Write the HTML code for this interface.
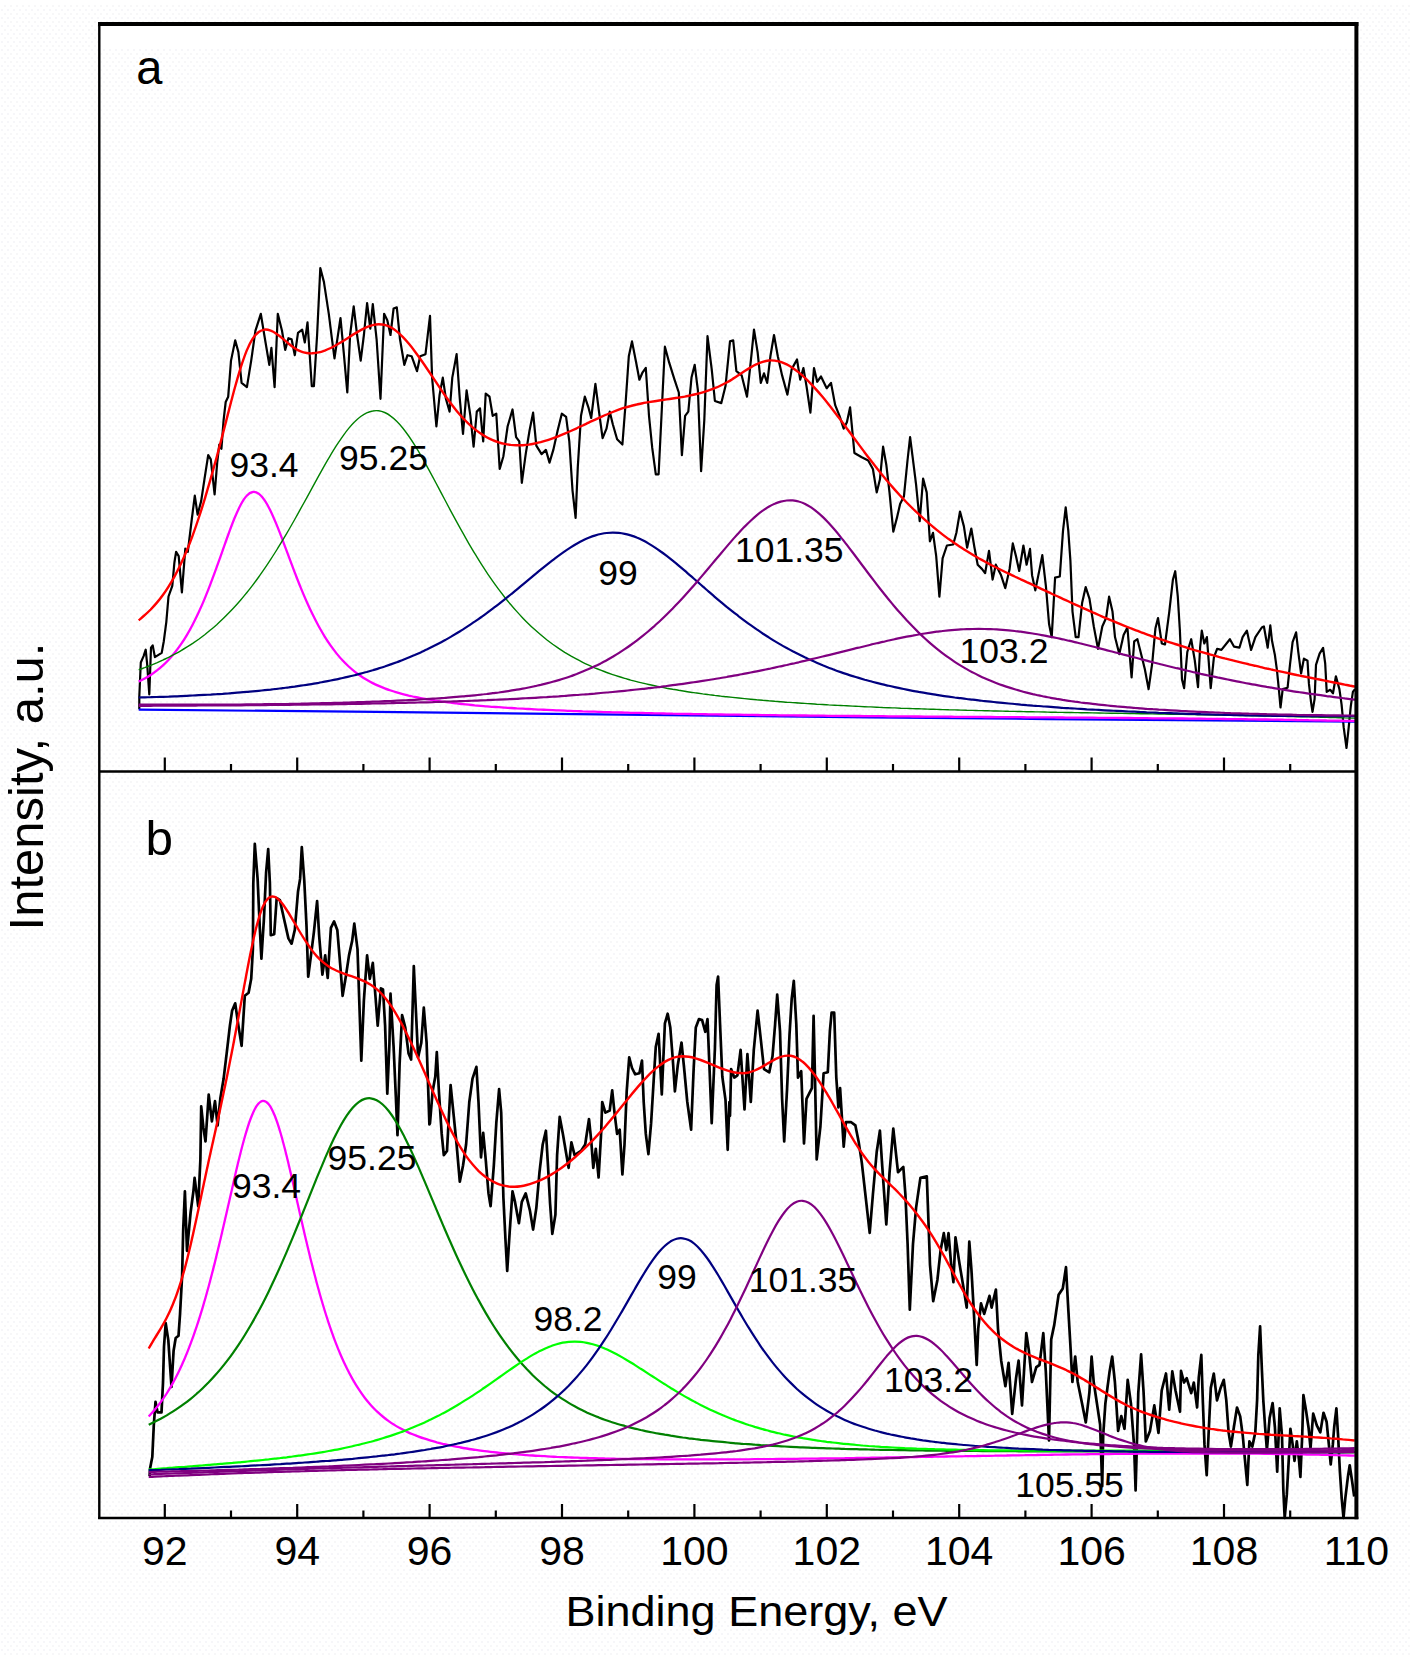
<!DOCTYPE html>
<html lang="en"><head><meta charset="utf-8"><title>XPS spectra</title>
<style>html,body{margin:0;padding:0;background:#fff}svg{display:block}</style></head>
<body>
<svg width="1411" height="1656" viewBox="0 0 1411 1656">
<defs><pattern id="dith" width="6" height="8" patternUnits="userSpaceOnUse"><rect x="1" y="1" width="2" height="2" fill="#f6f6f9"/><rect x="4" y="5" width="2" height="2" fill="#f7f7f8"/></pattern></defs>
<rect width="1411" height="1656" fill="#fff"/>
<rect x="0" y="5" width="1411" height="1651" fill="url(#dith)"/>
<rect x="100.5" y="26" width="1254" height="22" fill="#fff"/>
<g id="panel-a">
<path d="M139.3,709.2 L139.3,696.5 L140.8,662.5 L143.6,656.1 L145.7,649.7 L147.2,664.6 L149.3,694.3 L151.0,647.6 L152.7,645.4 L154.9,657.1 L161.7,652.9 L163.8,641.2 L166.3,622.1 L168.5,596.5 L172.3,585.9 L174.4,562.5 L176.1,551.9 L178.7,556.1 L181.9,592.3 L185.3,548.7 L187.8,551.9 L191.7,520.0 L194.8,495.6 L197.6,514.7 L201.2,500.9 L204.4,479.6 L208.2,455.2 L210.8,459.4 L214.6,494.5 L217.2,462.6 L219.3,444.5 L221.4,448.8 L223.6,420.1 L225.7,402.0 L228.2,396.7 L231.0,360.6 L235.2,340.4 L238.4,352.1 L241.6,382.9 L246.9,387.1 L251.2,360.6 L255.4,330.8 L260.8,313.8 L265.0,339.3 L269.3,364.8 L271.4,347.8 L274.6,387.1 L277.8,313.8 L282.0,330.8 L285.2,349.9 L288.4,338.2 L291.6,339.3 L294.8,355.2 L298.0,332.9 L302.2,329.7 L304.8,342.5 L307.5,322.3 L311.8,386.1 L313.9,386.1 L317.1,335.0 L320.3,268.1 L323.9,281.9 L328.8,313.8 L332.0,339.3 L334.5,358.4 L337.3,339.3 L340.5,318.0 L343.7,352.1 L347.3,392.5 L350.1,335.0 L353.7,306.3 L357.1,335.0 L360.7,360.6 L363.9,335.0 L367.1,303.2 L370.3,328.7 L372.8,304.2 L376.6,339.3 L380.5,398.8 L384.1,313.8 L387.3,320.2 L390.5,335.0 L393.6,308.5 L396.8,307.4 L400.0,339.3 L404.3,364.8 L407.5,355.2 L411.7,356.3 L417.0,371.2 L420.2,356.3 L425.5,354.2 L430.0,315.9 L432.1,377.6 L436.4,426.5 L439.6,394.6 L442.8,377.6 L445.9,398.8 L449.6,411.6 L452.3,377.6 L456.6,354.2 L459.8,398.8 L463.0,433.9 L466.6,390.3 L470.4,415.8 L473.6,446.7 L476.8,411.6 L480.0,408.4 L483.2,441.4 L485.7,393.5 L489.5,396.7 L492.7,415.8 L496.3,413.7 L499.7,469.0 L503.4,456.2 L507.6,426.5 L512.5,409.5 L516.1,437.1 L519.3,441.4 L521.8,482.8 L525.7,454.1 L529.5,430.7 L533.1,412.7 L536.3,445.6 L541.6,454.1 L545.9,449.9 L549.5,462.6 L553.3,449.9 L557.6,430.7 L561.8,413.7 L566.1,416.9 L569.3,441.4 L572.5,490.3 L575.6,517.9 L577.8,466.9 L581.0,415.8 L584.8,396.7 L588.4,407.3 L591.2,418.0 L595.4,383.9 L599.0,411.6 L602.6,438.2 L606.5,428.6 L609.7,411.6 L612.8,424.3 L617.1,439.2 L622.4,444.5 L625.6,403.1 L628.8,356.3 L632.0,341.4 L636.2,362.7 L639.4,379.7 L642.6,372.3 L645.8,368.0 L649.0,415.8 L652.2,447.7 L655.8,474.3 L658.6,474.3 L661.8,409.5 L664.9,346.7 L669.2,362.7 L674.5,379.7 L678.8,392.5 L681.9,455.2 L685.1,415.8 L688.3,411.6 L691.5,377.6 L694.7,364.8 L697.9,390.3 L701.1,471.1 L704.3,420.1 L707.5,336.1 L711.7,369.1 L714.9,401.0 L721.3,403.1 L725.5,386.1 L730.0,341.4 L733.2,340.4 L736.4,371.2 L741.7,375.4 L747.0,396.7 L751.3,356.3 L754.0,329.7 L757.6,352.1 L760.8,382.9 L764.0,373.3 L767.2,382.9 L770.4,356.3 L774.0,335.0 L777.8,356.3 L782.1,375.4 L787.4,394.6 L791.7,369.1 L797.0,359.5 L800.2,379.7 L803.4,368.0 L806.5,386.1 L810.4,412.7 L814.0,368.0 L817.2,381.8 L821.0,376.5 L826.7,388.2 L831.0,382.9 L835.2,405.2 L839.5,415.8 L843.7,428.6 L846.9,422.2 L850.1,407.3 L852.3,430.7 L854.4,453.0 L861.8,457.3 L868.2,460.5 L872.9,469.0 L876.7,492.4 L879.9,479.6 L883.1,446.7 L886.3,464.7 L889.5,492.4 L893.3,531.7 L896.9,517.9 L900.1,504.1 L903.9,496.6 L907.5,460.5 L910.1,437.1 L912.8,458.4 L916.0,483.9 L919.7,521.1 L923.1,478.6 L926.7,492.4 L929.9,541.3 L933.0,532.8 L936.2,556.2 L939.4,596.6 L942.6,558.3 L946.9,545.5 L953.2,544.5 L956.4,532.8 L960.0,511.5 L963.9,526.4 L967.1,547.7 L971.3,528.5 L974.5,547.7 L977.7,564.7 L981.9,568.9 L985.1,573.2 L989.0,550.9 L992.6,579.6 L995.8,564.7 L1001.1,575.3 L1005.3,588.1 L1009.6,568.9 L1012.8,543.4 L1016.0,556.2 L1019.2,571.0 L1023.4,545.5 L1026.6,564.7 L1030.0,548.9 L1032.1,575.4 L1035.3,590.3 L1039.6,569.1 L1042.3,555.2 L1045.9,586.1 L1049.1,624.3 L1051.7,637.1 L1055.1,577.6 L1059.8,576.5 L1063.0,530.8 L1065.7,507.4 L1068.3,530.8 L1070.4,560.6 L1072.5,611.6 L1075.7,637.1 L1078.5,637.1 L1082.1,603.1 L1085.7,587.1 L1089.5,598.8 L1093.8,626.5 L1098.0,648.8 L1102.3,626.5 L1106.1,618.0 L1109.1,596.7 L1112.5,611.6 L1115.0,637.1 L1119.3,654.1 L1123.6,635.0 L1127.4,627.5 L1131.6,677.5 L1134.2,641.4 L1137.4,639.2 L1140.6,652.0 L1144.8,669.0 L1148.6,689.2 L1152.3,662.6 L1155.4,628.6 L1158.0,618.0 L1161.8,643.5 L1165.0,644.5 L1169.3,611.6 L1172.9,579.7 L1175.2,571.2 L1177.8,596.7 L1179.9,630.7 L1182.0,679.6 L1184.1,688.1 L1187.3,652.0 L1191.2,639.2 L1194.8,660.5 L1198.0,687.1 L1200.1,647.7 L1201.8,630.7 L1204.3,643.5 L1206.9,637.1 L1210.7,688.1 L1213.9,657.3 L1217.1,648.8 L1221.4,649.9 L1229.9,639.2 L1234.1,646.7 L1239.4,647.7 L1242.6,637.1 L1246.9,630.7 L1251.1,649.9 L1255.4,637.1 L1261.8,627.5 L1263.9,626.5 L1267.7,647.7 L1270.3,625.4 L1272.0,640.8 L1274.9,655.0 L1277.0,670.6 L1279.1,691.9 L1280.5,707.5 L1282.7,689.1 L1287.6,687.7 L1289.8,666.4 L1292.6,642.2 L1296.1,632.3 L1298.3,652.2 L1301.1,673.5 L1303.9,658.6 L1307.5,660.7 L1308.9,683.4 L1311.0,701.8 L1312.5,711.8 L1314.6,699.0 L1316.0,664.9 L1319.6,653.6 L1323.1,647.9 L1325.2,663.5 L1326.7,691.9 L1330.2,689.8 L1333.0,693.3 L1335.9,676.3 L1339.4,689.1 L1341.6,704.7 L1343.7,727.4 L1346.5,748.0 L1348.7,727.4 L1350.8,706.1 L1352.9,691.9 L1355.0,689.1" fill="none" stroke="#000" stroke-width="2.2" stroke-linejoin="round"/>
<path d="M138.7,709.7 C178.3,710.1 254.5,710.5 376.4,711.8 C498.3,713.1 706.8,715.8 870.0,717.4 C1033.2,719.0 1274.6,721.0 1355.5,721.7" fill="none" stroke="#0000ff" stroke-width="2.2"/>
<path d="M138.7,681.6 C139.7,681.1 142.7,679.7 144.7,678.6 C146.7,677.5 148.7,676.3 150.7,675.0 C152.7,673.7 154.7,672.3 156.7,670.7 C158.7,669.2 160.7,667.5 162.7,665.7 C164.7,663.9 166.7,661.9 168.7,659.8 C170.7,657.6 172.7,655.3 174.7,652.8 C176.7,650.3 178.7,647.6 180.7,644.7 C182.7,641.8 184.7,638.7 186.7,635.3 C188.7,632.0 190.7,628.4 192.7,624.5 C194.7,620.7 196.7,616.6 198.7,612.3 C200.7,607.9 202.7,603.4 204.7,598.6 C206.7,593.7 208.7,588.7 210.7,583.4 C212.7,578.2 214.7,572.7 216.7,567.2 C218.7,561.7 220.7,555.9 222.7,550.3 C224.7,544.7 226.7,538.9 228.7,533.5 C230.7,528.1 232.7,522.6 234.7,517.8 C236.7,513.1 238.7,508.5 240.7,504.8 C242.7,501.1 244.7,497.9 246.7,495.8 C248.7,493.6 250.7,492.3 252.7,492.0 C254.7,491.6 256.7,492.3 258.7,493.7 C260.7,495.2 262.7,497.5 264.7,500.4 C266.7,503.3 268.7,507.1 270.7,511.2 C272.7,515.3 274.7,520.1 276.7,524.9 C278.7,529.8 280.7,535.1 282.7,540.3 C284.7,545.6 286.7,551.1 288.7,556.4 C290.7,561.8 292.7,567.2 294.7,572.4 C296.7,577.5 298.7,582.7 300.7,587.6 C302.7,592.5 304.7,597.2 306.7,601.7 C308.7,606.2 310.7,610.5 312.7,614.6 C314.7,618.7 316.7,622.6 318.7,626.3 C320.7,629.9 322.7,633.3 324.7,636.6 C326.7,639.8 328.7,642.8 330.7,645.7 C332.7,648.5 334.7,651.1 336.7,653.6 C338.7,656.1 340.7,658.4 342.7,660.5 C344.7,662.7 346.7,664.6 348.7,666.5 C350.7,668.3 352.7,670.0 354.7,671.6 C356.7,673.2 358.7,674.7 360.7,676.0 C362.7,677.4 364.7,678.6 366.7,679.8 C368.7,681.0 370.7,682.1 372.7,683.1 C374.7,684.1 376.7,685.0 378.7,685.9 C380.7,686.8 382.7,687.6 384.7,688.4 C386.7,689.2 388.7,689.9 390.7,690.5 C392.7,691.2 394.7,691.8 396.7,692.4 C398.7,693.0 400.7,693.6 402.7,694.1 C404.7,694.6 406.7,695.1 408.7,695.6 C410.7,696.0 412.7,696.5 414.7,696.9 C416.7,697.3 418.7,697.7 420.7,698.1 C422.7,698.5 424.7,698.8 426.7,699.2 C428.7,699.5 430.7,699.9 432.7,700.2 C434.7,700.5 436.7,700.8 438.7,701.1 C440.7,701.4 442.7,701.7 444.7,701.9 C446.7,702.2 448.7,702.5 450.7,702.7 C452.7,702.9 454.7,703.2 456.7,703.4 C458.7,703.6 460.7,703.9 462.7,704.1 C464.7,704.3 466.7,704.5 468.7,704.7 C470.7,704.9 472.7,705.1 474.7,705.3 C476.7,705.4 478.7,705.6 480.7,705.8 C482.7,706.0 484.7,706.1 486.7,706.3 C488.7,706.5 490.7,706.6 492.7,706.8 C494.7,706.9 496.7,707.1 498.7,707.2 C500.7,707.3 502.7,707.5 504.7,707.6 C506.7,707.7 508.7,707.9 510.7,708.0 C512.7,708.1 514.7,708.2 516.7,708.4 C518.7,708.5 520.7,708.6 522.7,708.7 C524.7,708.8 526.7,708.9 528.7,709.0 C530.7,709.1 532.7,709.3 534.7,709.4 C536.7,709.5 538.7,709.6 540.7,709.6 C542.7,709.7 544.7,709.8 546.7,709.9 C548.7,710.0 550.7,710.1 552.7,710.2 C554.7,710.3 556.7,710.4 558.7,710.4 C560.7,710.5 562.7,710.6 564.7,710.7 C566.7,710.8 568.7,710.8 570.7,710.9 C572.7,711.0 574.7,711.1 576.7,711.1 C578.7,711.2 580.7,711.3 582.7,711.4 C584.7,711.4 586.7,711.5 588.7,711.6 C590.7,711.6 592.7,711.7 594.7,711.7 C596.7,711.8 598.7,711.9 600.7,711.9 C602.7,712.0 604.7,712.1 606.7,712.1 C608.7,712.2 610.7,712.2 612.7,712.3 C614.7,712.3 616.7,712.4 618.7,712.4 C620.7,712.5 622.7,712.5 624.7,712.6 C626.7,712.7 628.7,712.7 630.7,712.8 C632.7,712.8 634.7,712.9 636.7,712.9 C638.7,712.9 640.7,713.0 642.7,713.0 C644.7,713.1 646.7,713.1 648.7,713.2 C650.7,713.2 652.7,713.3 654.7,713.3 C656.7,713.3 658.7,713.4 660.7,713.4 C662.7,713.5 664.7,713.5 666.7,713.6 C668.7,713.6 670.7,713.6 672.7,713.7 C674.7,713.7 676.7,713.7 678.7,713.8 C680.7,713.8 682.7,713.9 684.7,713.9 C686.7,713.9 688.7,714.0 690.7,714.0 C692.7,714.0 694.7,714.1 696.7,714.1 C698.7,714.1 700.7,714.2 702.7,714.2 C704.7,714.2 706.7,714.3 708.7,714.3 C710.7,714.3 712.7,714.4 714.7,714.4 C716.7,714.4 718.7,714.5 720.7,714.5 C722.7,714.5 724.7,714.5 726.7,714.6 C728.7,714.6 730.7,714.6 732.7,714.7 C734.7,714.7 736.7,714.7 738.7,714.7 C740.7,714.8 742.7,714.8 744.7,714.8 C746.7,714.9 748.7,714.9 750.7,714.9 C752.7,714.9 754.7,715.0 756.7,715.0 C758.7,715.0 760.7,715.0 762.7,715.1 C764.7,715.1 766.7,715.1 768.7,715.1 C770.7,715.2 772.7,715.2 774.7,715.2 C776.7,715.2 778.7,715.2 780.7,715.3 C782.7,715.3 784.7,715.3 786.7,715.3 C788.7,715.4 790.7,715.4 792.7,715.4 C794.7,715.4 796.7,715.4 798.7,715.5 C800.7,715.5 802.7,715.5 804.7,715.5 C806.7,715.6 808.7,715.6 810.7,715.6 C812.7,715.6 814.7,715.6 816.7,715.7 C818.7,715.7 820.7,715.7 822.7,715.7 C824.7,715.7 826.7,715.7 828.7,715.8 C830.7,715.8 832.7,715.8 834.7,715.8 C836.7,715.8 838.7,715.9 840.7,715.9 C842.7,715.9 844.7,715.9 846.7,715.9 C848.7,716.0 850.7,716.0 852.7,716.0 C854.7,716.0 856.7,716.0 858.7,716.0 C860.7,716.1 862.7,716.1 864.7,716.1 C866.7,716.1 868.7,716.1 870.7,716.1 C872.7,716.2 874.7,716.2 876.7,716.2 C878.7,716.2 880.7,716.2 882.7,716.2 C884.7,716.3 886.7,716.3 888.7,716.3 C890.7,716.3 892.7,716.3 894.7,716.3 C896.7,716.3 898.7,716.4 900.7,716.4 C902.7,716.4 904.7,716.4 906.7,716.4 C908.7,716.4 910.7,716.5 912.7,716.5 C914.7,716.5 916.7,716.5 918.7,716.5 C920.7,716.5 922.7,716.5 924.7,716.6 C926.7,716.6 928.7,716.6 930.7,716.6 C932.7,716.6 934.7,716.6 936.7,716.6 C938.7,716.7 940.7,716.7 942.7,716.7 C944.7,716.7 946.7,716.7 948.7,716.7 C950.7,716.7 952.7,716.8 954.7,716.8 C956.7,716.8 958.7,716.8 960.7,716.8 C962.7,716.8 964.7,716.8 966.7,716.9 C968.7,716.9 970.7,716.9 972.7,716.9 C974.7,716.9 976.7,716.9 978.7,716.9 C980.7,716.9 982.7,717.0 984.7,717.0 C986.7,717.0 988.7,717.0 990.7,717.0 C992.7,717.0 994.7,717.0 996.7,717.1 C998.7,717.1 1000.7,717.1 1002.7,717.1 C1004.7,717.1 1006.7,717.1 1008.7,717.1 C1010.7,717.2 1012.7,717.2 1014.7,717.2 C1016.7,717.2 1018.7,717.2 1020.7,717.2 C1022.7,717.2 1024.7,717.3 1026.7,717.3 C1028.7,717.3 1030.7,717.3 1032.7,717.3 C1034.7,717.3 1036.7,717.3 1038.7,717.3 C1040.7,717.4 1042.7,717.4 1044.7,717.4 C1046.7,717.4 1048.7,717.4 1050.7,717.4 C1052.7,717.4 1054.7,717.5 1056.7,717.5 C1058.7,717.5 1060.7,717.5 1062.7,717.5 C1064.7,717.5 1066.7,717.6 1068.7,717.6 C1070.7,717.6 1072.7,717.6 1074.7,717.6 C1076.7,717.6 1078.7,717.6 1080.7,717.7 C1082.7,717.7 1084.7,717.7 1086.7,717.7 C1088.7,717.7 1090.7,717.7 1092.7,717.7 C1094.7,717.8 1096.7,717.8 1098.7,717.8 C1100.7,717.8 1102.7,717.8 1104.7,717.8 C1106.7,717.9 1108.7,717.9 1110.7,717.9 C1112.7,717.9 1114.7,717.9 1116.7,717.9 C1118.7,718.0 1120.7,718.0 1122.7,718.0 C1124.7,718.0 1126.7,718.0 1128.7,718.0 C1130.7,718.1 1132.7,718.1 1134.7,718.1 C1136.7,718.1 1138.7,718.1 1140.7,718.1 C1142.7,718.2 1144.7,718.2 1146.7,718.2 C1148.7,718.2 1150.7,718.2 1152.7,718.3 C1154.7,718.3 1156.7,718.3 1158.7,718.3 C1160.7,718.3 1162.7,718.3 1164.7,718.4 C1166.7,718.4 1168.7,718.4 1170.7,718.4 C1172.7,718.4 1174.7,718.5 1176.7,718.5 C1178.7,718.5 1180.7,718.5 1182.7,718.5 C1184.7,718.6 1186.7,718.6 1188.7,718.6 C1190.7,718.6 1192.7,718.6 1194.7,718.7 C1196.7,718.7 1198.7,718.7 1200.7,718.7 C1202.7,718.8 1204.7,718.8 1206.7,718.8 C1208.7,718.8 1210.7,718.8 1212.7,718.9 C1214.7,718.9 1216.7,718.9 1218.7,718.9 C1220.7,719.0 1222.7,719.0 1224.7,719.0 C1226.7,719.0 1228.7,719.1 1230.7,719.1 C1232.7,719.1 1234.7,719.1 1236.7,719.1 C1238.7,719.2 1240.7,719.2 1242.7,719.2 C1244.7,719.2 1246.7,719.3 1248.7,719.3 C1250.7,719.3 1252.7,719.4 1254.7,719.4 C1256.7,719.4 1258.7,719.4 1260.7,719.5 C1262.7,719.5 1264.7,719.5 1266.7,719.5 C1268.7,719.6 1270.7,719.6 1272.7,719.6 C1274.7,719.7 1276.7,719.7 1278.7,719.7 C1280.7,719.7 1282.7,719.8 1284.7,719.8 C1286.7,719.8 1288.7,719.9 1290.7,719.9 C1292.7,719.9 1294.7,719.9 1296.7,720.0 C1298.7,720.0 1300.7,720.0 1302.7,720.1 C1304.7,720.1 1306.7,720.1 1308.7,720.2 C1310.7,720.2 1312.7,720.2 1314.7,720.3 C1316.7,720.3 1318.7,720.3 1320.7,720.4 C1322.7,720.4 1324.7,720.4 1326.7,720.5 C1328.7,720.5 1330.7,720.5 1332.7,720.6 C1334.7,720.6 1336.7,720.6 1338.7,720.7 C1340.7,720.7 1342.7,720.8 1344.7,720.8 C1346.7,720.8 1348.9,720.9 1350.7,720.9 C1352.5,720.9 1354.7,721.0 1355.5,721.0" fill="none" stroke="#ff00ff" stroke-width="2.3"/>
<path d="M138.7,669.8 C139.7,669.4 142.7,668.4 144.7,667.7 C146.7,666.9 148.7,666.1 150.7,665.3 C152.7,664.5 154.7,663.7 156.7,662.9 C158.7,662.0 160.7,661.1 162.7,660.2 C164.7,659.2 166.7,658.3 168.7,657.3 C170.7,656.3 172.7,655.3 174.7,654.2 C176.7,653.1 178.7,652.0 180.7,650.8 C182.7,649.7 184.7,648.5 186.7,647.2 C188.7,646.0 190.7,644.7 192.7,643.4 C194.7,642.0 196.7,640.6 198.7,639.2 C200.7,637.7 202.7,636.2 204.7,634.7 C206.7,633.1 208.7,631.5 210.7,629.8 C212.7,628.2 214.7,626.4 216.7,624.7 C218.7,622.9 220.7,621.0 222.7,619.1 C224.7,617.2 226.7,615.2 228.7,613.1 C230.7,611.1 232.7,609.0 234.7,606.8 C236.7,604.6 238.7,602.3 240.7,600.0 C242.7,597.6 244.7,595.2 246.7,592.8 C248.7,590.3 250.7,587.7 252.7,585.1 C254.7,582.5 256.7,579.8 258.7,577.0 C260.7,574.2 262.7,571.3 264.7,568.4 C266.7,565.5 268.7,562.5 270.7,559.4 C272.7,556.3 274.7,553.2 276.7,550.0 C278.7,546.8 280.7,543.5 282.7,540.2 C284.7,536.8 286.7,533.4 288.7,530.0 C290.7,526.5 292.7,523.0 294.7,519.5 C296.7,515.9 298.7,512.3 300.7,508.7 C302.7,505.1 304.7,501.4 306.7,497.8 C308.7,494.1 310.7,490.4 312.7,486.8 C314.7,483.1 316.7,479.5 318.7,475.9 C320.7,472.3 322.7,468.7 324.7,465.2 C326.7,461.7 328.7,458.2 330.7,454.9 C332.7,451.6 334.7,448.3 336.7,445.2 C338.7,442.1 340.7,439.1 342.7,436.3 C344.7,433.5 346.7,430.8 348.7,428.4 C350.7,426.0 352.7,423.7 354.7,421.8 C356.7,419.8 358.7,418.0 360.7,416.5 C362.7,415.1 364.7,413.8 366.7,412.9 C368.7,412.0 370.7,411.3 372.7,411.0 C374.7,410.6 376.7,410.6 378.7,410.8 C380.7,411.1 382.7,411.7 384.7,412.5 C386.7,413.4 388.7,414.6 390.7,416.1 C392.7,417.5 394.7,419.3 396.7,421.3 C398.7,423.3 400.7,425.5 402.7,428.0 C404.7,430.5 406.7,433.2 408.7,436.0 C410.7,438.9 412.7,442.0 414.7,445.2 C416.7,448.4 418.7,451.7 420.7,455.2 C422.7,458.6 424.7,462.2 426.7,465.8 C428.7,469.4 430.7,473.1 432.7,476.9 C434.7,480.6 436.7,484.4 438.7,488.1 C440.7,491.9 442.7,495.7 444.7,499.5 C446.7,503.3 448.7,507.1 450.7,510.8 C452.7,514.5 454.7,518.2 456.7,521.9 C458.7,525.6 460.7,529.2 462.7,532.7 C464.7,536.3 466.7,539.8 468.7,543.3 C470.7,546.7 472.7,550.1 474.7,553.4 C476.7,556.7 478.7,559.9 480.7,563.1 C482.7,566.2 484.7,569.3 486.7,572.3 C488.7,575.3 490.7,578.2 492.7,581.1 C494.7,583.9 496.7,586.7 498.7,589.4 C500.7,592.0 502.7,594.6 504.7,597.2 C506.7,599.7 508.7,602.2 510.7,604.5 C512.7,606.9 514.7,609.2 516.7,611.4 C518.7,613.7 520.7,615.8 522.7,617.9 C524.7,620.0 526.7,622.0 528.7,623.9 C530.7,625.9 532.7,627.8 534.7,629.6 C536.7,631.4 538.7,633.1 540.7,634.8 C542.7,636.5 544.7,638.1 546.7,639.7 C548.7,641.2 550.7,642.7 552.7,644.2 C554.7,645.6 556.7,647.0 558.7,648.4 C560.7,649.7 562.7,651.0 564.7,652.3 C566.7,653.5 568.7,654.7 570.7,655.9 C572.7,657.0 574.7,658.1 576.7,659.2 C578.7,660.3 580.7,661.3 582.7,662.3 C584.7,663.3 586.7,664.2 588.7,665.1 C590.7,666.0 592.7,666.9 594.7,667.8 C596.7,668.6 598.7,669.4 600.7,670.2 C602.7,671.0 604.7,671.8 606.7,672.5 C608.7,673.2 610.7,673.9 612.7,674.6 C614.7,675.3 616.7,675.9 618.7,676.5 C620.7,677.2 622.7,677.8 624.7,678.4 C626.7,679.0 628.7,679.5 630.7,680.1 C632.7,680.6 634.7,681.1 636.7,681.6 C638.7,682.2 640.7,682.6 642.7,683.1 C644.7,683.6 646.7,684.1 648.7,684.5 C650.7,685.0 652.7,685.4 654.7,685.8 C656.7,686.2 658.7,686.6 660.7,687.0 C662.7,687.4 664.7,687.8 666.7,688.2 C668.7,688.5 670.7,688.9 672.7,689.3 C674.7,689.6 676.7,689.9 678.7,690.3 C680.7,690.6 682.7,690.9 684.7,691.2 C686.7,691.6 688.7,691.9 690.7,692.2 C692.7,692.5 694.7,692.7 696.7,693.0 C698.7,693.3 700.7,693.6 702.7,693.9 C704.7,694.1 706.7,694.4 708.7,694.6 C710.7,694.9 712.7,695.1 714.7,695.4 C716.7,695.6 718.7,695.9 720.7,696.1 C722.7,696.3 724.7,696.6 726.7,696.8 C728.7,697.0 730.7,697.2 732.7,697.4 C734.7,697.6 736.7,697.8 738.7,698.0 C740.7,698.2 742.7,698.4 744.7,698.6 C746.7,698.8 748.7,699.0 750.7,699.2 C752.7,699.4 754.7,699.6 756.7,699.8 C758.7,699.9 760.7,700.1 762.7,700.3 C764.7,700.4 766.7,700.6 768.7,700.8 C770.7,700.9 772.7,701.1 774.7,701.3 C776.7,701.4 778.7,701.6 780.7,701.7 C782.7,701.9 784.7,702.0 786.7,702.2 C788.7,702.3 790.7,702.5 792.7,702.6 C794.7,702.7 796.7,702.9 798.7,703.0 C800.7,703.1 802.7,703.3 804.7,703.4 C806.7,703.5 808.7,703.7 810.7,703.8 C812.7,703.9 814.7,704.0 816.7,704.2 C818.7,704.3 820.7,704.4 822.7,704.5 C824.7,704.6 826.7,704.7 828.7,704.9 C830.7,705.0 832.7,705.1 834.7,705.2 C836.7,705.3 838.7,705.4 840.7,705.5 C842.7,705.6 844.7,705.7 846.7,705.8 C848.7,705.9 850.7,706.0 852.7,706.1 C854.7,706.2 856.7,706.3 858.7,706.4 C860.7,706.5 862.7,706.6 864.7,706.7 C866.7,706.8 868.7,706.9 870.7,706.9 C872.7,707.0 874.7,707.1 876.7,707.2 C878.7,707.3 880.7,707.4 882.7,707.5 C884.7,707.5 886.7,707.6 888.7,707.7 C890.7,707.8 892.7,707.9 894.7,707.9 C896.7,708.0 898.7,708.1 900.7,708.2 C902.7,708.2 904.7,708.3 906.7,708.4 C908.7,708.5 910.7,708.5 912.7,708.6 C914.7,708.7 916.7,708.7 918.7,708.8 C920.7,708.9 922.7,708.9 924.7,709.0 C926.7,709.1 928.7,709.1 930.7,709.2 C932.7,709.3 934.7,709.3 936.7,709.4 C938.7,709.5 940.7,709.5 942.7,709.6 C944.7,709.6 946.7,709.7 948.7,709.8 C950.7,709.8 952.7,709.9 954.7,709.9 C956.7,710.0 958.7,710.0 960.7,710.1 C962.7,710.1 964.7,710.2 966.7,710.3 C968.7,710.3 970.7,710.4 972.7,710.4 C974.7,710.5 976.7,710.5 978.7,710.6 C980.7,710.6 982.7,710.7 984.7,710.7 C986.7,710.8 988.7,710.8 990.7,710.9 C992.7,710.9 994.7,711.0 996.7,711.0 C998.7,711.1 1000.7,711.1 1002.7,711.1 C1004.7,711.2 1006.7,711.2 1008.7,711.3 C1010.7,711.3 1012.7,711.4 1014.7,711.4 C1016.7,711.5 1018.7,711.5 1020.7,711.5 C1022.7,711.6 1024.7,711.6 1026.7,711.7 C1028.7,711.7 1030.7,711.8 1032.7,711.8 C1034.7,711.8 1036.7,711.9 1038.7,711.9 C1040.7,712.0 1042.7,712.0 1044.7,712.0 C1046.7,712.1 1048.7,712.1 1050.7,712.2 C1052.7,712.2 1054.7,712.2 1056.7,712.3 C1058.7,712.3 1060.7,712.3 1062.7,712.4 C1064.7,712.4 1066.7,712.5 1068.7,712.5 C1070.7,712.5 1072.7,712.6 1074.7,712.6 C1076.7,712.6 1078.7,712.7 1080.7,712.7 C1082.7,712.7 1084.7,712.8 1086.7,712.8 C1088.7,712.9 1090.7,712.9 1092.7,712.9 C1094.7,713.0 1096.7,713.0 1098.7,713.0 C1100.7,713.1 1102.7,713.1 1104.7,713.1 C1106.7,713.2 1108.7,713.2 1110.7,713.2 C1112.7,713.3 1114.7,713.3 1116.7,713.3 C1118.7,713.4 1120.7,713.4 1122.7,713.4 C1124.7,713.5 1126.7,713.5 1128.7,713.5 C1130.7,713.6 1132.7,713.6 1134.7,713.6 C1136.7,713.7 1138.7,713.7 1140.7,713.7 C1142.7,713.8 1144.7,713.8 1146.7,713.8 C1148.7,713.9 1150.7,713.9 1152.7,713.9 C1154.7,714.0 1156.7,714.0 1158.7,714.0 C1160.7,714.1 1162.7,714.1 1164.7,714.1 C1166.7,714.2 1168.7,714.2 1170.7,714.2 C1172.7,714.3 1174.7,714.3 1176.7,714.3 C1178.7,714.4 1180.7,714.4 1182.7,714.4 C1184.7,714.5 1186.7,714.5 1188.7,714.5 C1190.7,714.6 1192.7,714.6 1194.7,714.6 C1196.7,714.7 1198.7,714.7 1200.7,714.8 C1202.7,714.8 1204.7,714.8 1206.7,714.9 C1208.7,714.9 1210.7,714.9 1212.7,715.0 C1214.7,715.0 1216.7,715.0 1218.7,715.1 C1220.7,715.1 1222.7,715.1 1224.7,715.2 C1226.7,715.2 1228.7,715.3 1230.7,715.3 C1232.7,715.3 1234.7,715.4 1236.7,715.4 C1238.7,715.4 1240.7,715.5 1242.7,715.5 C1244.7,715.6 1246.7,715.6 1248.7,715.6 C1250.7,715.7 1252.7,715.7 1254.7,715.8 C1256.7,715.8 1258.7,715.8 1260.7,715.9 C1262.7,715.9 1264.7,716.0 1266.7,716.0 C1268.7,716.0 1270.7,716.1 1272.7,716.1 C1274.7,716.2 1276.7,716.2 1278.7,716.3 C1280.7,716.3 1282.7,716.3 1284.7,716.4 C1286.7,716.4 1288.7,716.5 1290.7,716.5 C1292.7,716.6 1294.7,716.6 1296.7,716.7 C1298.7,716.7 1300.7,716.8 1302.7,716.8 C1304.7,716.8 1306.7,716.9 1308.7,716.9 C1310.7,717.0 1312.7,717.0 1314.7,717.1 C1316.7,717.1 1318.7,717.2 1320.7,717.2 C1322.7,717.3 1324.7,717.3 1326.7,717.4 C1328.7,717.5 1330.7,717.5 1332.7,717.6 C1334.7,717.6 1336.7,717.7 1338.7,717.7 C1340.7,717.8 1342.7,717.8 1344.7,717.9 C1346.7,717.9 1348.9,718.0 1350.7,718.1 C1352.5,718.1 1354.7,718.2 1355.5,718.2" fill="none" stroke="#008000" stroke-width="1.4"/>
<path d="M138.7,697.5 C139.7,697.4 142.7,697.4 144.7,697.3 C146.7,697.3 148.7,697.2 150.7,697.2 C152.7,697.1 154.7,697.0 156.7,697.0 C158.7,696.9 160.7,696.9 162.7,696.8 C164.7,696.7 166.7,696.6 168.7,696.6 C170.7,696.5 172.7,696.4 174.7,696.3 C176.7,696.3 178.7,696.2 180.7,696.1 C182.7,696.0 184.7,695.9 186.7,695.8 C188.7,695.7 190.7,695.6 192.7,695.5 C194.7,695.4 196.7,695.3 198.7,695.2 C200.7,695.1 202.7,695.0 204.7,694.9 C206.7,694.8 208.7,694.7 210.7,694.6 C212.7,694.4 214.7,694.3 216.7,694.2 C218.7,694.0 220.7,693.9 222.7,693.8 C224.7,693.6 226.7,693.5 228.7,693.4 C230.7,693.2 232.7,693.1 234.7,692.9 C236.7,692.8 238.7,692.6 240.7,692.4 C242.7,692.3 244.7,692.1 246.7,691.9 C248.7,691.7 250.7,691.6 252.7,691.4 C254.7,691.2 256.7,691.0 258.7,690.8 C260.7,690.6 262.7,690.4 264.7,690.2 C266.7,690.0 268.7,689.8 270.7,689.6 C272.7,689.3 274.7,689.1 276.7,688.9 C278.7,688.6 280.7,688.4 282.7,688.1 C284.7,687.9 286.7,687.6 288.7,687.4 C290.7,687.1 292.7,686.8 294.7,686.6 C296.7,686.3 298.7,686.0 300.7,685.7 C302.7,685.4 304.7,685.1 306.7,684.8 C308.7,684.5 310.7,684.1 312.7,683.8 C314.7,683.5 316.7,683.1 318.7,682.8 C320.7,682.4 322.7,682.1 324.7,681.7 C326.7,681.3 328.7,680.9 330.7,680.5 C332.7,680.1 334.7,679.7 336.7,679.3 C338.7,678.9 340.7,678.4 342.7,678.0 C344.7,677.6 346.7,677.1 348.7,676.6 C350.7,676.2 352.7,675.7 354.7,675.2 C356.7,674.7 358.7,674.1 360.7,673.6 C362.7,673.1 364.7,672.5 366.7,672.0 C368.7,671.4 370.7,670.8 372.7,670.3 C374.7,669.7 376.7,669.0 378.7,668.4 C380.7,667.8 382.7,667.1 384.7,666.5 C386.7,665.8 388.7,665.1 390.7,664.4 C392.7,663.7 394.7,663.0 396.7,662.3 C398.7,661.5 400.7,660.8 402.7,660.0 C404.7,659.2 406.7,658.4 408.7,657.6 C410.7,656.8 412.7,655.9 414.7,655.1 C416.7,654.2 418.7,653.3 420.7,652.4 C422.7,651.5 424.7,650.5 426.7,649.6 C428.7,648.6 430.7,647.6 432.7,646.6 C434.7,645.6 436.7,644.6 438.7,643.5 C440.7,642.5 442.7,641.4 444.7,640.3 C446.7,639.2 448.7,638.0 450.7,636.9 C452.7,635.7 454.7,634.5 456.7,633.3 C458.7,632.1 460.7,630.8 462.7,629.6 C464.7,628.3 466.7,627.0 468.7,625.7 C470.7,624.4 472.7,623.0 474.7,621.7 C476.7,620.3 478.7,618.9 480.7,617.5 C482.7,616.1 484.7,614.6 486.7,613.2 C488.7,611.7 490.7,610.2 492.7,608.7 C494.7,607.2 496.7,605.6 498.7,604.1 C500.7,602.5 502.7,600.9 504.7,599.3 C506.7,597.7 508.7,596.1 510.7,594.5 C512.7,592.9 514.7,591.2 516.7,589.6 C518.7,587.9 520.7,586.3 522.7,584.6 C524.7,583.0 526.7,581.3 528.7,579.6 C530.7,578.0 532.7,576.3 534.7,574.6 C536.7,573.0 538.7,571.3 540.7,569.7 C542.7,568.0 544.7,566.4 546.7,564.8 C548.7,563.2 550.7,561.6 552.7,560.1 C554.7,558.6 556.7,557.0 558.7,555.6 C560.7,554.1 562.7,552.7 564.7,551.3 C566.7,549.9 568.7,548.6 570.7,547.3 C572.7,546.0 574.7,544.8 576.7,543.7 C578.7,542.6 580.7,541.5 582.7,540.5 C584.7,539.5 586.7,538.6 588.7,537.8 C590.7,537.0 592.7,536.2 594.7,535.6 C596.7,535.0 598.7,534.4 600.7,534.0 C602.7,533.6 604.7,533.2 606.7,533.0 C608.7,532.8 610.7,532.6 612.7,532.6 C614.7,532.6 616.7,532.7 618.7,532.9 C620.7,533.1 622.7,533.4 624.7,533.8 C626.7,534.2 628.7,534.8 630.7,535.4 C632.7,536.0 634.7,536.7 636.7,537.6 C638.7,538.4 640.7,539.3 642.7,540.3 C644.7,541.3 646.7,542.4 648.7,543.6 C650.7,544.8 652.7,546.0 654.7,547.3 C656.7,548.6 658.7,550.0 660.7,551.5 C662.7,552.9 664.7,554.4 666.7,555.9 C668.7,557.5 670.7,559.1 672.7,560.7 C674.7,562.3 676.7,563.9 678.7,565.6 C680.7,567.3 682.7,569.0 684.7,570.7 C686.7,572.4 688.7,574.2 690.7,575.9 C692.7,577.6 694.7,579.4 696.7,581.1 C698.7,582.9 700.7,584.6 702.7,586.4 C704.7,588.1 706.7,589.9 708.7,591.6 C710.7,593.3 712.7,595.1 714.7,596.8 C716.7,598.5 718.7,600.2 720.7,601.8 C722.7,603.5 724.7,605.1 726.7,606.8 C728.7,608.4 730.7,610.0 732.7,611.6 C734.7,613.2 736.7,614.7 738.7,616.3 C740.7,617.8 742.7,619.3 744.7,620.8 C746.7,622.3 748.7,623.8 750.7,625.2 C752.7,626.6 754.7,628.0 756.7,629.4 C758.7,630.8 760.7,632.1 762.7,633.5 C764.7,634.8 766.7,636.1 768.7,637.3 C770.7,638.6 772.7,639.9 774.7,641.1 C776.7,642.3 778.7,643.5 780.7,644.6 C782.7,645.8 784.7,646.9 786.7,648.0 C788.7,649.1 790.7,650.2 792.7,651.3 C794.7,652.3 796.7,653.3 798.7,654.3 C800.7,655.3 802.7,656.3 804.7,657.3 C806.7,658.2 808.7,659.2 810.7,660.1 C812.7,661.0 814.7,661.9 816.7,662.7 C818.7,663.6 820.7,664.4 822.7,665.3 C824.7,666.1 826.7,666.9 828.7,667.7 C830.7,668.4 832.7,669.2 834.7,669.9 C836.7,670.7 838.7,671.4 840.7,672.1 C842.7,672.8 844.7,673.5 846.7,674.1 C848.7,674.8 850.7,675.5 852.7,676.1 C854.7,676.7 856.7,677.3 858.7,677.9 C860.7,678.5 862.7,679.1 864.7,679.7 C866.7,680.2 868.7,680.8 870.7,681.3 C872.7,681.9 874.7,682.4 876.7,682.9 C878.7,683.4 880.7,683.9 882.7,684.4 C884.7,684.9 886.7,685.3 888.7,685.8 C890.7,686.3 892.7,686.7 894.7,687.1 C896.7,687.6 898.7,688.0 900.7,688.4 C902.7,688.8 904.7,689.2 906.7,689.6 C908.7,690.0 910.7,690.4 912.7,690.8 C914.7,691.2 916.7,691.5 918.7,691.9 C920.7,692.2 922.7,692.6 924.7,692.9 C926.7,693.3 928.7,693.6 930.7,693.9 C932.7,694.2 934.7,694.6 936.7,694.9 C938.7,695.2 940.7,695.5 942.7,695.8 C944.7,696.1 946.7,696.4 948.7,696.6 C950.7,696.9 952.7,697.2 954.7,697.5 C956.7,697.7 958.7,698.0 960.7,698.2 C962.7,698.5 964.7,698.8 966.7,699.0 C968.7,699.2 970.7,699.5 972.7,699.7 C974.7,700.0 976.7,700.2 978.7,700.4 C980.7,700.6 982.7,700.9 984.7,701.1 C986.7,701.3 988.7,701.5 990.7,701.7 C992.7,701.9 994.7,702.1 996.7,702.3 C998.7,702.5 1000.7,702.7 1002.7,702.9 C1004.7,703.1 1006.7,703.3 1008.7,703.5 C1010.7,703.7 1012.7,703.9 1014.7,704.0 C1016.7,704.2 1018.7,704.4 1020.7,704.6 C1022.7,704.7 1024.7,704.9 1026.7,705.1 C1028.7,705.2 1030.7,705.4 1032.7,705.6 C1034.7,705.7 1036.7,705.9 1038.7,706.0 C1040.7,706.2 1042.7,706.3 1044.7,706.5 C1046.7,706.6 1048.7,706.8 1050.7,706.9 C1052.7,707.1 1054.7,707.2 1056.7,707.3 C1058.7,707.5 1060.7,707.6 1062.7,707.8 C1064.7,707.9 1066.7,708.0 1068.7,708.2 C1070.7,708.3 1072.7,708.4 1074.7,708.5 C1076.7,708.7 1078.7,708.8 1080.7,708.9 C1082.7,709.0 1084.7,709.1 1086.7,709.3 C1088.7,709.4 1090.7,709.5 1092.7,709.6 C1094.7,709.7 1096.7,709.8 1098.7,709.9 C1100.7,710.1 1102.7,710.2 1104.7,710.3 C1106.7,710.4 1108.7,710.5 1110.7,710.6 C1112.7,710.7 1114.7,710.8 1116.7,710.9 C1118.7,711.0 1120.7,711.1 1122.7,711.2 C1124.7,711.3 1126.7,711.4 1128.7,711.5 C1130.7,711.6 1132.7,711.7 1134.7,711.7 C1136.7,711.8 1138.7,711.9 1140.7,712.0 C1142.7,712.1 1144.7,712.2 1146.7,712.3 C1148.7,712.3 1150.7,712.4 1152.7,712.5 C1154.7,712.6 1156.7,712.7 1158.7,712.8 C1160.7,712.8 1162.7,712.9 1164.7,713.0 C1166.7,713.1 1168.7,713.1 1170.7,713.2 C1172.7,713.3 1174.7,713.3 1176.7,713.4 C1178.7,713.5 1180.7,713.6 1182.7,713.6 C1184.7,713.7 1186.7,713.8 1188.7,713.8 C1190.7,713.9 1192.7,713.9 1194.7,714.0 C1196.7,714.1 1198.7,714.1 1200.7,714.2 C1202.7,714.2 1204.7,714.3 1206.7,714.4 C1208.7,714.4 1210.7,714.5 1212.7,714.5 C1214.7,714.6 1216.7,714.6 1218.7,714.7 C1220.7,714.7 1222.7,714.8 1224.7,714.8 C1226.7,714.9 1228.7,714.9 1230.7,715.0 C1232.7,715.0 1234.7,715.1 1236.7,715.1 C1238.7,715.2 1240.7,715.2 1242.7,715.2 C1244.7,715.3 1246.7,715.3 1248.7,715.4 C1250.7,715.4 1252.7,715.4 1254.7,715.5 C1256.7,715.5 1258.7,715.5 1260.7,715.6 C1262.7,715.6 1264.7,715.6 1266.7,715.7 C1268.7,715.7 1270.7,715.7 1272.7,715.8 C1274.7,715.8 1276.7,715.8 1278.7,715.8 C1280.7,715.9 1282.7,715.9 1284.7,715.9 C1286.7,715.9 1288.7,716.0 1290.7,716.0 C1292.7,716.0 1294.7,716.0 1296.7,716.0 C1298.7,716.1 1300.7,716.1 1302.7,716.1 C1304.7,716.1 1306.7,716.1 1308.7,716.1 C1310.7,716.2 1312.7,716.2 1314.7,716.2 C1316.7,716.2 1318.7,716.2 1320.7,716.2 C1322.7,716.2 1324.7,716.2 1326.7,716.2 C1328.7,716.2 1330.7,716.2 1332.7,716.2 C1334.7,716.2 1336.7,716.2 1338.7,716.2 C1340.7,716.2 1342.7,716.2 1344.7,716.2 C1346.7,716.2 1348.9,716.2 1350.7,716.2 C1352.5,716.2 1354.7,716.2 1355.5,716.2" fill="none" stroke="#000080" stroke-width="2.2"/>
<path d="M138.7,704.5 C139.7,704.5 142.7,704.5 144.7,704.5 C146.7,704.6 148.7,704.6 150.7,704.6 C152.7,704.6 154.7,704.6 156.7,704.6 C158.7,704.6 160.7,704.6 162.7,704.6 C164.7,704.6 166.7,704.6 168.7,704.6 C170.7,704.6 172.7,704.7 174.7,704.7 C176.7,704.7 178.7,704.7 180.7,704.7 C182.7,704.7 184.7,704.7 186.7,704.7 C188.7,704.7 190.7,704.7 192.7,704.7 C194.7,704.7 196.7,704.7 198.7,704.7 C200.7,704.7 202.7,704.7 204.7,704.6 C206.7,704.6 208.7,704.6 210.7,704.6 C212.7,704.6 214.7,704.6 216.7,704.6 C218.7,704.6 220.7,704.6 222.7,704.6 C224.7,704.6 226.7,704.6 228.7,704.5 C230.7,704.5 232.7,704.5 234.7,704.5 C236.7,704.5 238.7,704.5 240.7,704.5 C242.7,704.4 244.7,704.4 246.7,704.4 C248.7,704.4 250.7,704.4 252.7,704.3 C254.7,704.3 256.7,704.3 258.7,704.3 C260.7,704.3 262.7,704.2 264.7,704.2 C266.7,704.2 268.7,704.2 270.7,704.1 C272.7,704.1 274.7,704.1 276.7,704.1 C278.7,704.0 280.7,704.0 282.7,704.0 C284.7,703.9 286.7,703.9 288.7,703.9 C290.7,703.8 292.7,703.8 294.7,703.8 C296.7,703.7 298.7,703.7 300.7,703.7 C302.7,703.6 304.7,703.6 306.7,703.5 C308.7,703.5 310.7,703.5 312.7,703.4 C314.7,703.4 316.7,703.3 318.7,703.3 C320.7,703.2 322.7,703.2 324.7,703.1 C326.7,703.1 328.7,703.0 330.7,703.0 C332.7,702.9 334.7,702.9 336.7,702.8 C338.7,702.8 340.7,702.7 342.7,702.7 C344.7,702.6 346.7,702.6 348.7,702.5 C350.7,702.4 352.7,702.4 354.7,702.3 C356.7,702.2 358.7,702.2 360.7,702.1 C362.7,702.0 364.7,702.0 366.7,701.9 C368.7,701.8 370.7,701.8 372.7,701.7 C374.7,701.6 376.7,701.5 378.7,701.5 C380.7,701.4 382.7,701.3 384.7,701.2 C386.7,701.1 388.7,701.0 390.7,701.0 C392.7,700.9 394.7,700.8 396.7,700.7 C398.7,700.6 400.7,700.5 402.7,700.4 C404.7,700.3 406.7,700.2 408.7,700.1 C410.7,700.0 412.7,699.9 414.7,699.8 C416.7,699.7 418.7,699.6 420.7,699.4 C422.7,699.3 424.7,699.2 426.7,699.1 C428.7,699.0 430.7,698.8 432.7,698.7 C434.7,698.6 436.7,698.4 438.7,698.3 C440.7,698.2 442.7,698.0 444.7,697.9 C446.7,697.7 448.7,697.6 450.7,697.4 C452.7,697.3 454.7,697.1 456.7,696.9 C458.7,696.8 460.7,696.6 462.7,696.4 C464.7,696.2 466.7,696.1 468.7,695.9 C470.7,695.7 472.7,695.5 474.7,695.3 C476.7,695.1 478.7,694.9 480.7,694.7 C482.7,694.4 484.7,694.2 486.7,694.0 C488.7,693.7 490.7,693.5 492.7,693.2 C494.7,693.0 496.7,692.7 498.7,692.5 C500.7,692.2 502.7,691.9 504.7,691.6 C506.7,691.3 508.7,691.0 510.7,690.7 C512.7,690.4 514.7,690.0 516.7,689.7 C518.7,689.4 520.7,689.0 522.7,688.6 C524.7,688.3 526.7,687.9 528.7,687.5 C530.7,687.1 532.7,686.7 534.7,686.2 C536.7,685.8 538.7,685.3 540.7,684.9 C542.7,684.4 544.7,683.9 546.7,683.4 C548.7,682.9 550.7,682.4 552.7,681.8 C554.7,681.3 556.7,680.7 558.7,680.1 C560.7,679.5 562.7,678.9 564.7,678.2 C566.7,677.6 568.7,676.9 570.7,676.2 C572.7,675.5 574.7,674.7 576.7,674.0 C578.7,673.2 580.7,672.4 582.7,671.6 C584.7,670.8 586.7,670.0 588.7,669.1 C590.7,668.2 592.7,667.3 594.7,666.3 C596.7,665.4 598.7,664.4 600.7,663.4 C602.7,662.3 604.7,661.3 606.7,660.2 C608.7,659.1 610.7,657.9 612.7,656.8 C614.7,655.6 616.7,654.4 618.7,653.1 C620.7,651.8 622.7,650.5 624.7,649.2 C626.7,647.9 628.7,646.5 630.7,645.0 C632.7,643.6 634.7,642.1 636.7,640.6 C638.7,639.1 640.7,637.5 642.7,635.9 C644.7,634.3 646.7,632.7 648.7,631.0 C650.7,629.3 652.7,627.5 654.7,625.8 C656.7,624.0 658.7,622.1 660.7,620.3 C662.7,618.4 664.7,616.5 666.7,614.5 C668.7,612.5 670.7,610.5 672.7,608.5 C674.7,606.4 676.7,604.3 678.7,602.2 C680.7,600.1 682.7,597.9 684.7,595.7 C686.7,593.5 688.7,591.3 690.7,589.0 C692.7,586.8 694.7,584.5 696.7,582.2 C698.7,579.8 700.7,577.5 702.7,575.1 C704.7,572.8 706.7,570.4 708.7,568.0 C710.7,565.6 712.7,563.2 714.7,560.8 C716.7,558.4 718.7,556.0 720.7,553.7 C722.7,551.3 724.7,548.9 726.7,546.6 C728.7,544.2 730.7,541.9 732.7,539.6 C734.7,537.4 736.7,535.1 738.7,533.0 C740.7,530.8 742.7,528.7 744.7,526.6 C746.7,524.6 748.7,522.6 750.7,520.7 C752.7,518.9 754.7,517.1 756.7,515.4 C758.7,513.7 760.7,512.1 762.7,510.7 C764.7,509.3 766.7,508.0 768.7,506.8 C770.7,505.6 772.7,504.6 774.7,503.8 C776.7,502.9 778.7,502.2 780.7,501.6 C782.7,501.1 784.7,500.7 786.7,500.5 C788.7,500.3 790.7,500.2 792.7,500.4 C794.7,500.6 796.7,500.9 798.7,501.5 C800.7,502.0 802.7,502.8 804.7,503.7 C806.7,504.7 808.7,505.8 810.7,507.1 C812.7,508.5 814.7,509.9 816.7,511.6 C818.7,513.2 820.7,515.0 822.7,516.9 C824.7,518.8 826.7,520.9 828.7,523.0 C830.7,525.2 832.7,527.5 834.7,529.8 C836.7,532.1 838.7,534.6 840.7,537.1 C842.7,539.5 844.7,542.1 846.7,544.7 C848.7,547.3 850.7,549.9 852.7,552.5 C854.7,555.2 856.7,557.8 858.7,560.5 C860.7,563.2 862.7,565.9 864.7,568.5 C866.7,571.2 868.7,573.9 870.7,576.5 C872.7,579.1 874.7,581.8 876.7,584.4 C878.7,586.9 880.7,589.5 882.7,592.0 C884.7,594.6 886.7,597.0 888.7,599.5 C890.7,601.9 892.7,604.3 894.7,606.7 C896.7,609.1 898.7,611.4 900.7,613.6 C902.7,615.9 904.7,618.1 906.7,620.3 C908.7,622.4 910.7,624.5 912.7,626.6 C914.7,628.6 916.7,630.6 918.7,632.6 C920.7,634.5 922.7,636.4 924.7,638.2 C926.7,640.1 928.7,641.8 930.7,643.6 C932.7,645.3 934.7,647.0 936.7,648.6 C938.7,650.2 940.7,651.8 942.7,653.3 C944.7,654.8 946.7,656.3 948.7,657.7 C950.7,659.1 952.7,660.5 954.7,661.8 C956.7,663.1 958.7,664.4 960.7,665.6 C962.7,666.8 964.7,668.0 966.7,669.1 C968.7,670.3 970.7,671.4 972.7,672.4 C974.7,673.5 976.7,674.5 978.7,675.4 C980.7,676.4 982.7,677.4 984.7,678.2 C986.7,679.1 988.7,680.0 990.7,680.8 C992.7,681.7 994.7,682.5 996.7,683.2 C998.7,684.0 1000.7,684.7 1002.7,685.4 C1004.7,686.1 1006.7,686.8 1008.7,687.4 C1010.7,688.1 1012.7,688.7 1014.7,689.3 C1016.7,689.9 1018.7,690.5 1020.7,691.0 C1022.7,691.6 1024.7,692.1 1026.7,692.6 C1028.7,693.1 1030.7,693.6 1032.7,694.1 C1034.7,694.5 1036.7,695.0 1038.7,695.4 C1040.7,695.8 1042.7,696.3 1044.7,696.7 C1046.7,697.1 1048.7,697.4 1050.7,697.8 C1052.7,698.2 1054.7,698.5 1056.7,698.9 C1058.7,699.2 1060.7,699.5 1062.7,699.9 C1064.7,700.2 1066.7,700.5 1068.7,700.8 C1070.7,701.1 1072.7,701.4 1074.7,701.7 C1076.7,701.9 1078.7,702.2 1080.7,702.5 C1082.7,702.7 1084.7,703.0 1086.7,703.2 C1088.7,703.5 1090.7,703.7 1092.7,703.9 C1094.7,704.2 1096.7,704.4 1098.7,704.6 C1100.7,704.8 1102.7,705.0 1104.7,705.2 C1106.7,705.4 1108.7,705.6 1110.7,705.8 C1112.7,706.0 1114.7,706.2 1116.7,706.4 C1118.7,706.5 1120.7,706.7 1122.7,706.9 C1124.7,707.1 1126.7,707.2 1128.7,707.4 C1130.7,707.6 1132.7,707.7 1134.7,707.9 C1136.7,708.0 1138.7,708.2 1140.7,708.3 C1142.7,708.5 1144.7,708.6 1146.7,708.8 C1148.7,708.9 1150.7,709.0 1152.7,709.2 C1154.7,709.3 1156.7,709.4 1158.7,709.6 C1160.7,709.7 1162.7,709.8 1164.7,709.9 C1166.7,710.1 1168.7,710.2 1170.7,710.3 C1172.7,710.4 1174.7,710.5 1176.7,710.6 C1178.7,710.7 1180.7,710.9 1182.7,711.0 C1184.7,711.1 1186.7,711.2 1188.7,711.3 C1190.7,711.4 1192.7,711.5 1194.7,711.6 C1196.7,711.7 1198.7,711.8 1200.7,711.8 C1202.7,711.9 1204.7,712.0 1206.7,712.1 C1208.7,712.2 1210.7,712.3 1212.7,712.4 C1214.7,712.5 1216.7,712.5 1218.7,712.6 C1220.7,712.7 1222.7,712.8 1224.7,712.9 C1226.7,712.9 1228.7,713.0 1230.7,713.1 C1232.7,713.1 1234.7,713.2 1236.7,713.3 C1238.7,713.4 1240.7,713.4 1242.7,713.5 C1244.7,713.6 1246.7,713.6 1248.7,713.7 C1250.7,713.7 1252.7,713.8 1254.7,713.9 C1256.7,713.9 1258.7,714.0 1260.7,714.0 C1262.7,714.1 1264.7,714.1 1266.7,714.2 C1268.7,714.2 1270.7,714.3 1272.7,714.3 C1274.7,714.4 1276.7,714.4 1278.7,714.5 C1280.7,714.5 1282.7,714.6 1284.7,714.6 C1286.7,714.7 1288.7,714.7 1290.7,714.7 C1292.7,714.8 1294.7,714.8 1296.7,714.9 C1298.7,714.9 1300.7,714.9 1302.7,715.0 C1304.7,715.0 1306.7,715.0 1308.7,715.1 C1310.7,715.1 1312.7,715.1 1314.7,715.2 C1316.7,715.2 1318.7,715.2 1320.7,715.2 C1322.7,715.3 1324.7,715.3 1326.7,715.3 C1328.7,715.3 1330.7,715.4 1332.7,715.4 C1334.7,715.4 1336.7,715.4 1338.7,715.4 C1340.7,715.5 1342.7,715.5 1344.7,715.5 C1346.7,715.5 1348.9,715.5 1350.7,715.5 C1352.5,715.5 1354.7,715.5 1355.5,715.6" fill="none" stroke="#800080" stroke-width="2.2"/>
<path d="M138.7,705.8 C139.7,705.8 142.7,705.8 144.7,705.8 C146.7,705.8 148.7,705.8 150.7,705.8 C152.7,705.8 154.7,705.7 156.7,705.7 C158.7,705.7 160.7,705.7 162.7,705.7 C164.7,705.7 166.7,705.7 168.7,705.7 C170.7,705.7 172.7,705.7 174.7,705.7 C176.7,705.7 178.7,705.6 180.7,705.6 C182.7,705.6 184.7,705.6 186.7,705.6 C188.7,705.6 190.7,705.6 192.7,705.6 C194.7,705.6 196.7,705.5 198.7,705.5 C200.7,705.5 202.7,705.5 204.7,705.5 C206.7,705.5 208.7,705.5 210.7,705.5 C212.7,705.5 214.7,705.4 216.7,705.4 C218.7,705.4 220.7,705.4 222.7,705.4 C224.7,705.4 226.7,705.4 228.7,705.3 C230.7,705.3 232.7,705.3 234.7,705.3 C236.7,705.3 238.7,705.3 240.7,705.3 C242.7,705.2 244.7,705.2 246.7,705.2 C248.7,705.2 250.7,705.2 252.7,705.2 C254.7,705.1 256.7,705.1 258.7,705.1 C260.7,705.1 262.7,705.1 264.7,705.1 C266.7,705.0 268.7,705.0 270.7,705.0 C272.7,705.0 274.7,705.0 276.7,704.9 C278.7,704.9 280.7,704.9 282.7,704.9 C284.7,704.9 286.7,704.8 288.7,704.8 C290.7,704.8 292.7,704.8 294.7,704.7 C296.7,704.7 298.7,704.7 300.7,704.7 C302.7,704.7 304.7,704.6 306.7,704.6 C308.7,704.6 310.7,704.6 312.7,704.5 C314.7,704.5 316.7,704.5 318.7,704.4 C320.7,704.4 322.7,704.4 324.7,704.4 C326.7,704.3 328.7,704.3 330.7,704.3 C332.7,704.2 334.7,704.2 336.7,704.2 C338.7,704.2 340.7,704.1 342.7,704.1 C344.7,704.1 346.7,704.0 348.7,704.0 C350.7,704.0 352.7,703.9 354.7,703.9 C356.7,703.9 358.7,703.8 360.7,703.8 C362.7,703.7 364.7,703.7 366.7,703.7 C368.7,703.6 370.7,703.6 372.7,703.5 C374.7,703.5 376.7,703.5 378.7,703.4 C380.7,703.4 382.7,703.3 384.7,703.3 C386.7,703.3 388.7,703.2 390.7,703.2 C392.7,703.1 394.7,703.1 396.7,703.0 C398.7,703.0 400.7,702.9 402.7,702.9 C404.7,702.8 406.7,702.8 408.7,702.7 C410.7,702.7 412.7,702.6 414.7,702.6 C416.7,702.5 418.7,702.5 420.7,702.4 C422.7,702.4 424.7,702.3 426.7,702.3 C428.7,702.2 430.7,702.1 432.7,702.1 C434.7,702.0 436.7,702.0 438.7,701.9 C440.7,701.8 442.7,701.8 444.7,701.7 C446.7,701.6 448.7,701.6 450.7,701.5 C452.7,701.4 454.7,701.4 456.7,701.3 C458.7,701.2 460.7,701.2 462.7,701.1 C464.7,701.0 466.7,701.0 468.7,700.9 C470.7,700.8 472.7,700.7 474.7,700.6 C476.7,700.6 478.7,700.5 480.7,700.4 C482.7,700.3 484.7,700.2 486.7,700.2 C488.7,700.1 490.7,700.0 492.7,699.9 C494.7,699.8 496.7,699.7 498.7,699.6 C500.7,699.5 502.7,699.4 504.7,699.3 C506.7,699.3 508.7,699.2 510.7,699.1 C512.7,699.0 514.7,698.9 516.7,698.8 C518.7,698.7 520.7,698.5 522.7,698.4 C524.7,698.3 526.7,698.2 528.7,698.1 C530.7,698.0 532.7,697.9 534.7,697.8 C536.7,697.7 538.7,697.5 540.7,697.4 C542.7,697.3 544.7,697.2 546.7,697.1 C548.7,696.9 550.7,696.8 552.7,696.7 C554.7,696.5 556.7,696.4 558.7,696.3 C560.7,696.1 562.7,696.0 564.7,695.9 C566.7,695.7 568.7,695.6 570.7,695.4 C572.7,695.3 574.7,695.1 576.7,695.0 C578.7,694.8 580.7,694.7 582.7,694.5 C584.7,694.4 586.7,694.2 588.7,694.1 C590.7,693.9 592.7,693.7 594.7,693.6 C596.7,693.4 598.7,693.2 600.7,693.0 C602.7,692.9 604.7,692.7 606.7,692.5 C608.7,692.3 610.7,692.2 612.7,692.0 C614.7,691.8 616.7,691.6 618.7,691.4 C620.7,691.2 622.7,691.0 624.7,690.8 C626.7,690.6 628.7,690.4 630.7,690.2 C632.7,690.0 634.7,689.8 636.7,689.5 C638.7,689.3 640.7,689.1 642.7,688.9 C644.7,688.7 646.7,688.4 648.7,688.2 C650.7,688.0 652.7,687.7 654.7,687.5 C656.7,687.3 658.7,687.0 660.7,686.8 C662.7,686.5 664.7,686.3 666.7,686.0 C668.7,685.8 670.7,685.5 672.7,685.2 C674.7,685.0 676.7,684.7 678.7,684.4 C680.7,684.2 682.7,683.9 684.7,683.6 C686.7,683.3 688.7,683.0 690.7,682.7 C692.7,682.4 694.7,682.1 696.7,681.8 C698.7,681.5 700.7,681.2 702.7,680.9 C704.7,680.6 706.7,680.3 708.7,680.0 C710.7,679.7 712.7,679.3 714.7,679.0 C716.7,678.7 718.7,678.3 720.7,678.0 C722.7,677.7 724.7,677.3 726.7,677.0 C728.7,676.6 730.7,676.3 732.7,675.9 C734.7,675.5 736.7,675.2 738.7,674.8 C740.7,674.4 742.7,674.1 744.7,673.7 C746.7,673.3 748.7,672.9 750.7,672.5 C752.7,672.1 754.7,671.7 756.7,671.3 C758.7,670.9 760.7,670.5 762.7,670.1 C764.7,669.7 766.7,669.3 768.7,668.9 C770.7,668.5 772.7,668.0 774.7,667.6 C776.7,667.2 778.7,666.8 780.7,666.3 C782.7,665.9 784.7,665.4 786.7,665.0 C788.7,664.5 790.7,664.1 792.7,663.6 C794.7,663.2 796.7,662.7 798.7,662.3 C800.7,661.8 802.7,661.3 804.7,660.9 C806.7,660.4 808.7,659.9 810.7,659.4 C812.7,659.0 814.7,658.5 816.7,658.0 C818.7,657.5 820.7,657.0 822.7,656.5 C824.7,656.1 826.7,655.6 828.7,655.1 C830.7,654.6 832.7,654.1 834.7,653.6 C836.7,653.1 838.7,652.6 840.7,652.1 C842.7,651.6 844.7,651.1 846.7,650.6 C848.7,650.1 850.7,649.6 852.7,649.1 C854.7,648.6 856.7,648.1 858.7,647.7 C860.7,647.2 862.7,646.7 864.7,646.2 C866.7,645.7 868.7,645.2 870.7,644.7 C872.7,644.3 874.7,643.8 876.7,643.3 C878.7,642.8 880.7,642.4 882.7,641.9 C884.7,641.4 886.7,641.0 888.7,640.5 C890.7,640.1 892.7,639.7 894.7,639.2 C896.7,638.8 898.7,638.4 900.7,637.9 C902.7,637.5 904.7,637.1 906.7,636.7 C908.7,636.3 910.7,635.9 912.7,635.6 C914.7,635.2 916.7,634.8 918.7,634.5 C920.7,634.1 922.7,633.8 924.7,633.5 C926.7,633.2 928.7,632.9 930.7,632.6 C932.7,632.3 934.7,632.0 936.7,631.7 C938.7,631.5 940.7,631.2 942.7,631.0 C944.7,630.8 946.7,630.6 948.7,630.4 C950.7,630.2 952.7,630.0 954.7,629.8 C956.7,629.7 958.7,629.6 960.7,629.4 C962.7,629.3 964.7,629.2 966.7,629.1 C968.7,629.1 970.7,629.0 972.7,629.0 C974.7,628.9 976.7,628.9 978.7,628.9 C980.7,628.9 982.7,628.9 984.7,629.0 C986.7,629.0 988.7,629.1 990.7,629.1 C992.7,629.2 994.7,629.3 996.7,629.4 C998.7,629.6 1000.7,629.7 1002.7,629.8 C1004.7,630.0 1006.7,630.2 1008.7,630.4 C1010.7,630.6 1012.7,630.8 1014.7,631.0 C1016.7,631.2 1018.7,631.5 1020.7,631.7 C1022.7,632.0 1024.7,632.3 1026.7,632.6 C1028.7,632.9 1030.7,633.2 1032.7,633.5 C1034.7,633.8 1036.7,634.2 1038.7,634.5 C1040.7,634.9 1042.7,635.2 1044.7,635.6 C1046.7,636.0 1048.7,636.4 1050.7,636.8 C1052.7,637.2 1054.7,637.6 1056.7,638.0 C1058.7,638.4 1060.7,638.9 1062.7,639.3 C1064.7,639.8 1066.7,640.2 1068.7,640.7 C1070.7,641.1 1072.7,641.6 1074.7,642.1 C1076.7,642.6 1078.7,643.0 1080.7,643.5 C1082.7,644.0 1084.7,644.5 1086.7,645.0 C1088.7,645.5 1090.7,646.0 1092.7,646.5 C1094.7,647.0 1096.7,647.6 1098.7,648.1 C1100.7,648.6 1102.7,649.1 1104.7,649.6 C1106.7,650.2 1108.7,650.7 1110.7,651.2 C1112.7,651.7 1114.7,652.3 1116.7,652.8 C1118.7,653.3 1120.7,653.8 1122.7,654.4 C1124.7,654.9 1126.7,655.4 1128.7,655.9 C1130.7,656.5 1132.7,657.0 1134.7,657.5 C1136.7,658.0 1138.7,658.6 1140.7,659.1 C1142.7,659.6 1144.7,660.1 1146.7,660.6 C1148.7,661.2 1150.7,661.7 1152.7,662.2 C1154.7,662.7 1156.7,663.2 1158.7,663.7 C1160.7,664.2 1162.7,664.7 1164.7,665.2 C1166.7,665.7 1168.7,666.2 1170.7,666.7 C1172.7,667.2 1174.7,667.7 1176.7,668.2 C1178.7,668.6 1180.7,669.1 1182.7,669.6 C1184.7,670.1 1186.7,670.5 1188.7,671.0 C1190.7,671.5 1192.7,671.9 1194.7,672.4 C1196.7,672.9 1198.7,673.3 1200.7,673.8 C1202.7,674.2 1204.7,674.6 1206.7,675.1 C1208.7,675.5 1210.7,676.0 1212.7,676.4 C1214.7,676.8 1216.7,677.2 1218.7,677.7 C1220.7,678.1 1222.7,678.5 1224.7,678.9 C1226.7,679.3 1228.7,679.7 1230.7,680.1 C1232.7,680.5 1234.7,680.9 1236.7,681.3 C1238.7,681.7 1240.7,682.1 1242.7,682.5 C1244.7,682.9 1246.7,683.3 1248.7,683.6 C1250.7,684.0 1252.7,684.4 1254.7,684.7 C1256.7,685.1 1258.7,685.5 1260.7,685.8 C1262.7,686.2 1264.7,686.5 1266.7,686.9 C1268.7,687.2 1270.7,687.6 1272.7,687.9 C1274.7,688.3 1276.7,688.6 1278.7,688.9 C1280.7,689.2 1282.7,689.6 1284.7,689.9 C1286.7,690.2 1288.7,690.5 1290.7,690.8 C1292.7,691.2 1294.7,691.5 1296.7,691.8 C1298.7,692.1 1300.7,692.4 1302.7,692.7 C1304.7,693.0 1306.7,693.3 1308.7,693.6 C1310.7,693.8 1312.7,694.1 1314.7,694.4 C1316.7,694.7 1318.7,695.0 1320.7,695.2 C1322.7,695.5 1324.7,695.8 1326.7,696.1 C1328.7,696.3 1330.7,696.6 1332.7,696.8 C1334.7,697.1 1336.7,697.4 1338.7,697.6 C1340.7,697.9 1342.7,698.1 1344.7,698.4 C1346.7,698.6 1348.9,698.9 1350.7,699.1 C1352.5,699.3 1354.7,699.6 1355.5,699.7" fill="none" stroke="#800080" stroke-width="2.2"/>
<path d="M138.7,620.3 C139.7,619.4 142.7,617.0 144.7,615.2 C146.7,613.4 148.7,611.5 150.7,609.5 C152.7,607.4 154.7,605.2 156.7,602.9 C158.7,600.5 160.7,598.0 162.7,595.2 C164.7,592.5 166.7,589.5 168.7,586.3 C170.7,583.2 172.7,579.8 174.7,576.1 C176.7,572.4 178.7,568.5 180.7,564.3 C182.7,560.1 184.7,555.6 186.7,550.8 C188.7,545.9 190.7,540.8 192.7,535.3 C194.7,529.9 196.7,524.1 198.7,518.0 C200.7,512.0 202.7,505.7 204.7,499.1 C206.7,492.5 208.7,485.7 210.7,478.7 C212.7,471.7 214.7,464.5 216.7,457.1 C218.7,449.7 220.7,442.1 222.7,434.4 C224.7,426.8 226.7,418.8 228.7,411.1 C230.7,403.4 232.7,395.6 234.7,388.3 C236.7,381.1 238.7,373.9 240.7,367.6 C242.7,361.4 244.7,355.4 246.7,350.6 C248.7,345.8 250.7,341.8 252.7,338.7 C254.7,335.6 256.7,333.5 258.7,332.0 C260.7,330.5 262.7,329.9 264.7,329.6 C266.7,329.4 268.7,329.9 270.7,330.6 C272.7,331.3 274.7,332.6 276.7,333.9 C278.7,335.2 280.7,336.9 282.7,338.6 C284.7,340.2 286.7,342.1 288.7,343.7 C290.7,345.3 292.7,346.9 294.7,348.2 C296.7,349.5 298.7,350.6 300.7,351.4 C302.7,352.2 304.7,352.7 306.7,353.0 C308.7,353.3 310.7,353.4 312.7,353.3 C314.7,353.2 316.7,352.9 318.7,352.4 C320.7,352.0 322.7,351.3 324.7,350.6 C326.7,349.8 328.7,348.9 330.7,348.0 C332.7,347.0 334.7,345.9 336.7,344.8 C338.7,343.6 340.7,342.4 342.7,341.2 C344.7,340.0 346.7,338.7 348.7,337.4 C350.7,336.1 352.7,334.8 354.7,333.6 C356.7,332.4 358.7,331.2 360.7,330.1 C362.7,329.0 364.7,328.0 366.7,327.1 C368.7,326.3 370.7,325.5 372.7,325.1 C374.7,324.6 376.7,324.2 378.7,324.2 C380.7,324.2 382.7,324.4 384.7,324.9 C386.7,325.4 388.7,326.2 390.7,327.3 C392.7,328.4 394.7,329.8 396.7,331.4 C398.7,333.0 400.7,334.9 402.7,336.9 C404.7,338.9 406.7,341.2 408.7,343.6 C410.7,345.9 412.7,348.5 414.7,351.2 C416.7,353.8 418.7,356.6 420.7,359.5 C422.7,362.3 424.7,365.3 426.7,368.2 C428.7,371.2 430.7,374.2 432.7,377.2 C434.7,380.2 436.7,383.2 438.7,386.2 C440.7,389.1 442.7,392.1 444.7,395.0 C446.7,397.8 448.7,400.6 450.7,403.3 C452.7,406.0 454.7,408.5 456.7,411.0 C458.7,413.4 460.7,415.7 462.7,417.8 C464.7,420.0 466.7,422.0 468.7,423.9 C470.7,425.8 472.7,427.5 474.7,429.1 C476.7,430.7 478.7,432.2 480.7,433.5 C482.7,434.9 484.7,436.1 486.7,437.2 C488.7,438.3 490.7,439.3 492.7,440.1 C494.7,441.0 496.7,441.7 498.7,442.3 C500.7,443.0 502.7,443.5 504.7,443.9 C506.7,444.3 508.7,444.6 510.7,444.9 C512.7,445.1 514.7,445.2 516.7,445.3 C518.7,445.3 520.7,445.3 522.7,445.2 C524.7,445.0 526.7,444.8 528.7,444.6 C530.7,444.3 532.7,443.9 534.7,443.5 C536.7,443.1 538.7,442.7 540.7,442.2 C542.7,441.6 544.7,441.0 546.7,440.4 C548.7,439.8 550.7,439.1 552.7,438.4 C554.7,437.7 556.7,436.9 558.7,436.1 C560.7,435.3 562.7,434.5 564.7,433.6 C566.7,432.8 568.7,431.9 570.7,431.0 C572.7,430.1 574.7,429.2 576.7,428.3 C578.7,427.3 580.7,426.4 582.7,425.5 C584.7,424.5 586.7,423.6 588.7,422.6 C590.7,421.7 592.7,420.7 594.7,419.8 C596.7,418.9 598.7,418.0 600.7,417.1 C602.7,416.2 604.7,415.3 606.7,414.5 C608.7,413.6 610.7,412.8 612.7,412.0 C614.7,411.2 616.7,410.4 618.7,409.7 C620.7,409.0 622.7,408.3 624.7,407.7 C626.7,407.1 628.7,406.5 630.7,406.0 C632.7,405.4 634.7,404.9 636.7,404.5 C638.7,404.0 640.7,403.6 642.7,403.2 C644.7,402.8 646.7,402.5 648.7,402.1 C650.7,401.8 652.7,401.5 654.7,401.2 C656.7,400.9 658.7,400.6 660.7,400.3 C662.7,400.0 664.7,399.7 666.7,399.4 C668.7,399.1 670.7,398.8 672.7,398.5 C674.7,398.2 676.7,397.9 678.7,397.6 C680.7,397.3 682.7,396.9 684.7,396.6 C686.7,396.2 688.7,395.8 690.7,395.4 C692.7,395.0 694.7,394.5 696.7,394.0 C698.7,393.5 700.7,393.0 702.7,392.4 C704.7,391.8 706.7,391.1 708.7,390.4 C710.7,389.7 712.7,389.0 714.7,388.2 C716.7,387.4 718.7,386.5 720.7,385.5 C722.7,384.6 724.7,383.6 726.7,382.5 C728.7,381.4 730.7,380.2 732.7,378.9 C734.7,377.7 736.7,376.4 738.7,375.0 C740.7,373.7 742.7,372.4 744.7,371.1 C746.7,369.8 748.7,368.5 750.7,367.4 C752.7,366.2 754.7,365.1 756.7,364.2 C758.7,363.2 760.7,362.4 762.7,361.8 C764.7,361.2 766.7,360.7 768.7,360.5 C770.7,360.3 772.7,360.4 774.7,360.6 C776.7,360.8 778.7,361.3 780.7,361.9 C782.7,362.6 784.7,363.4 786.7,364.4 C788.7,365.4 790.7,366.6 792.7,368.0 C794.7,369.3 796.7,370.8 798.7,372.4 C800.7,374.0 802.7,375.8 804.7,377.7 C806.7,379.5 808.7,381.5 810.7,383.6 C812.7,385.7 814.7,387.8 816.7,390.1 C818.7,392.3 820.7,394.7 822.7,397.1 C824.7,399.5 826.7,402.0 828.7,404.5 C830.7,407.0 832.7,409.6 834.7,412.2 C836.7,414.8 838.7,417.5 840.7,420.1 C842.7,422.8 844.7,425.5 846.7,428.2 C848.7,430.9 850.7,433.6 852.7,436.3 C854.7,439.0 856.7,441.7 858.7,444.4 C860.7,447.1 862.7,449.8 864.7,452.4 C866.7,455.1 868.7,457.7 870.7,460.3 C872.7,462.9 874.7,465.5 876.7,468.0 C878.7,470.6 880.7,473.1 882.7,475.5 C884.7,478.0 886.7,480.4 888.7,482.7 C890.7,485.0 892.7,487.3 894.7,489.6 C896.7,491.8 898.7,494.0 900.7,496.2 C902.7,498.3 904.7,500.4 906.7,502.5 C908.7,504.5 910.7,506.5 912.7,508.5 C914.7,510.5 916.7,512.4 918.7,514.2 C920.7,516.1 922.7,517.9 924.7,519.7 C926.7,521.5 928.7,523.2 930.7,524.9 C932.7,526.6 934.7,528.3 936.7,529.9 C938.7,531.5 940.7,533.1 942.7,534.6 C944.7,536.1 946.7,537.6 948.7,539.1 C950.7,540.5 952.7,541.9 954.7,543.3 C956.7,544.6 958.7,546.0 960.7,547.3 C962.7,548.6 964.7,549.8 966.7,551.1 C968.7,552.3 970.7,553.5 972.7,554.7 C974.7,555.9 976.7,557.0 978.7,558.2 C980.7,559.3 982.7,560.4 984.7,561.5 C986.7,562.6 988.7,563.6 990.7,564.7 C992.7,565.7 994.7,566.7 996.7,567.7 C998.7,568.7 1000.7,569.7 1002.7,570.7 C1004.7,571.7 1006.7,572.7 1008.7,573.6 C1010.7,574.6 1012.7,575.5 1014.7,576.5 C1016.7,577.4 1018.7,578.3 1020.7,579.3 C1022.7,580.2 1024.7,581.1 1026.7,582.1 C1028.7,583.0 1030.7,583.9 1032.7,584.9 C1034.7,585.8 1036.7,586.7 1038.7,587.6 C1040.7,588.6 1042.7,589.5 1044.7,590.4 C1046.7,591.4 1048.7,592.3 1050.7,593.2 C1052.7,594.2 1054.7,595.1 1056.7,596.0 C1058.7,596.9 1060.7,597.9 1062.7,598.8 C1064.7,599.7 1066.7,600.6 1068.7,601.5 C1070.7,602.5 1072.7,603.4 1074.7,604.3 C1076.7,605.2 1078.7,606.1 1080.7,607.0 C1082.7,607.9 1084.7,608.8 1086.7,609.7 C1088.7,610.6 1090.7,611.5 1092.7,612.4 C1094.7,613.2 1096.7,614.1 1098.7,615.0 C1100.7,615.9 1102.7,616.7 1104.7,617.6 C1106.7,618.4 1108.7,619.3 1110.7,620.1 C1112.7,621.0 1114.7,621.8 1116.7,622.6 C1118.7,623.5 1120.7,624.3 1122.7,625.1 C1124.7,625.9 1126.7,626.7 1128.7,627.5 C1130.7,628.3 1132.7,629.0 1134.7,629.8 C1136.7,630.6 1138.7,631.3 1140.7,632.1 C1142.7,632.8 1144.7,633.6 1146.7,634.3 C1148.7,635.0 1150.7,635.8 1152.7,636.5 C1154.7,637.2 1156.7,637.9 1158.7,638.6 C1160.7,639.3 1162.7,639.9 1164.7,640.6 C1166.7,641.3 1168.7,642.0 1170.7,642.6 C1172.7,643.3 1174.7,643.9 1176.7,644.5 C1178.7,645.2 1180.7,645.8 1182.7,646.4 C1184.7,647.1 1186.7,647.7 1188.7,648.3 C1190.7,648.9 1192.7,649.5 1194.7,650.1 C1196.7,650.6 1198.7,651.2 1200.7,651.8 C1202.7,652.4 1204.7,652.9 1206.7,653.5 C1208.7,654.1 1210.7,654.6 1212.7,655.2 C1214.7,655.7 1216.7,656.2 1218.7,656.8 C1220.7,657.3 1222.7,657.8 1224.7,658.4 C1226.7,658.9 1228.7,659.4 1230.7,659.9 C1232.7,660.4 1234.7,660.9 1236.7,661.4 C1238.7,661.9 1240.7,662.4 1242.7,662.9 C1244.7,663.4 1246.7,663.9 1248.7,664.3 C1250.7,664.8 1252.7,665.3 1254.7,665.7 C1256.7,666.2 1258.7,666.7 1260.7,667.1 C1262.7,667.6 1264.7,668.0 1266.7,668.5 C1268.7,668.9 1270.7,669.4 1272.7,669.8 C1274.7,670.3 1276.7,670.7 1278.7,671.1 C1280.7,671.6 1282.7,672.0 1284.7,672.4 C1286.7,672.9 1288.7,673.3 1290.7,673.7 C1292.7,674.1 1294.7,674.5 1296.7,675.0 C1298.7,675.4 1300.7,675.8 1302.7,676.2 C1304.7,676.6 1306.7,677.0 1308.7,677.4 C1310.7,677.8 1312.7,678.2 1314.7,678.6 C1316.7,679.0 1318.7,679.4 1320.7,679.8 C1322.7,680.2 1324.7,680.6 1326.7,681.0 C1328.7,681.4 1330.7,681.8 1332.7,682.2 C1334.7,682.6 1336.7,683.0 1338.7,683.4 C1340.7,683.8 1342.7,684.2 1344.7,684.6 C1346.7,685.0 1349.0,685.4 1350.7,685.8 C1352.4,686.1 1354.3,686.5 1355.0,686.6" fill="none" stroke="#ff0000" stroke-width="2.4"/>
</g>
<g id="panel-b">
<path d="M149.6,1476.2 L150.2,1467.7 L152.3,1457.0 L153.8,1425.1 L155.5,1401.8 L157.6,1412.4 L161.5,1412.4 L163.0,1382.6 L164.0,1346.5 L165.7,1323.1 L168.3,1340.1 L171.5,1386.9 L173.6,1350.7 L175.7,1338.0 L178.5,1335.8 L180.0,1314.6 L182.1,1276.3 L183.2,1229.5 L184.9,1191.3 L187.0,1250.8 L190.6,1212.5 L193.4,1191.3 L194.6,1177.9 L198.2,1206.1 L200.4,1159.3 L201.2,1106.4 L203.4,1127.7 L205.5,1141.5 L208.7,1094.7 L211.9,1121.3 L215.0,1101.1 L217.6,1125.5 L220.4,1097.9 L223.6,1078.8 L226.7,1053.2 L229.9,1025.6 L232.1,1010.7 L235.2,1003.3 L238.4,1025.6 L241.6,1045.8 L244.8,995.8 L248.6,992.7 L251.2,978.8 L252.9,949.1 L253.3,883.2 L254.8,843.8 L257.6,878.9 L259.7,925.7 L261.4,958.6 L263.9,919.3 L266.1,872.5 L268.2,849.1 L269.9,883.2 L270.8,935.2 L274.2,934.2 L276.7,898.0 L279.9,900.2 L284.1,919.3 L288.4,938.4 L291.6,943.7 L294.8,929.9 L298.0,891.7 L300.1,878.9 L301.8,847.0 L304.3,881.0 L306.5,925.7 L308.2,976.7 L310.7,957.6 L313.9,932.1 L317.1,901.2 L319.2,936.3 L322.4,974.6 L325.2,955.4 L327.7,977.8 L330.9,927.8 L334.1,921.4 L337.3,929.9 L340.5,968.2 L342.6,995.8 L345.8,976.7 L349.0,955.4 L352.2,940.6 L354.3,923.6 L357.5,949.1 L359.6,1010.7 L361.3,1060.7 L363.9,1000.1 L367.1,955.4 L369.8,978.8 L372.8,962.9 L375.6,998.0 L377.7,1025.6 L380.9,988.4 L383.0,989.5 L385.1,1025.6 L387.3,1093.6 L389.4,1044.7 L390.5,993.7 L393.6,1046.9 L395.8,1095.8 L397.5,1135.1 L399.6,1063.9 L402.1,1015.0 L405.3,1027.7 L408.5,1053.2 L411.1,1059.6 L413.8,966.1 L416.0,1012.8 L418.1,1057.5 L421.3,1042.6 L423.8,1007.5 L426.6,1042.6 L429.4,1124.5 L430.0,1123.2 L432.6,1091.4 L435.3,1076.5 L436.8,1052.0 L438.9,1091.4 L441.7,1133.9 L443.8,1155.1 L447.0,1150.9 L449.1,1112.6 L450.6,1085.0 L453.4,1112.6 L456.6,1144.5 L459.8,1181.7 L463.0,1165.8 L466.1,1144.5 L469.3,1102.0 L472.5,1078.6 L476.4,1066.9 L478.5,1102.0 L481.0,1157.3 L483.2,1132.8 L485.7,1159.4 L488.5,1193.4 L490.6,1206.2 L493.8,1165.8 L496.3,1123.2 L499.1,1089.2 L501.2,1112.6 L503.4,1197.7 L505.5,1240.2 L507.2,1271.0 L509.7,1231.7 L512.5,1191.3 L515.0,1201.9 L518.9,1223.2 L521.8,1201.9 L525.7,1193.4 L529.9,1210.4 L533.1,1229.6 L536.3,1208.3 L539.5,1172.1 L542.7,1144.5 L545.9,1130.7 L548.0,1165.8 L550.1,1204.0 L552.3,1233.8 L555.4,1214.7 L557.1,1155.1 L559.7,1116.9 L562.9,1133.9 L566.1,1153.0 L568.6,1167.9 L571.4,1142.4 L574.6,1155.1 L581.0,1150.9 L585.2,1144.5 L589.0,1119.0 L591.2,1140.3 L593.3,1167.9 L595.8,1148.8 L598.6,1177.5 L601.2,1131.8 L602.2,1102.0 L605.4,1112.6 L609.7,1110.5 L612.2,1090.3 L614.5,1112.6 L617.1,1133.9 L619.7,1129.6 L622.4,1174.3 L624.5,1144.5 L626.7,1091.4 L629.2,1057.3 L632.0,1068.0 L635.2,1074.3 L639.4,1073.3 L642.0,1060.5 L643.7,1102.0 L645.8,1133.9 L648.4,1154.1 L651.1,1123.2 L654.3,1070.1 L655.8,1046.7 L658.6,1033.9 L661.8,1094.5 L664.9,1023.3 L667.7,1013.7 L670.3,1027.6 L672.8,1059.5 L674.9,1091.4 L677.7,1065.8 L681.5,1042.5 L684.1,1068.0 L687.3,1102.0 L691.1,1129.6 L693.6,1070.1 L695.8,1027.6 L699.0,1019.1 L702.1,1020.1 L705.3,1031.8 L707.5,1019.1 L709.6,1070.1 L711.7,1123.2 L714.9,1048.8 L716.6,985.0 L718.1,976.5 L720.2,1027.6 L722.3,1076.5 L725.5,1099.9 L727.7,1149.8 L729.4,1102.0 L730.0,1115.8 L731.1,1069.1 L734.3,1077.6 L737.4,1075.4 L740.6,1049.9 L744.5,1109.5 L747.4,1054.2 L750.8,1102.0 L753.8,1049.9 L757.6,1010.6 L760.8,1039.3 L764.0,1069.1 L769.3,1072.3 L772.5,1056.3 L775.1,1024.4 L777.2,994.6 L780.0,1030.8 L782.1,1098.8 L784.2,1141.4 L787.0,1090.3 L789.5,1035.0 L791.7,998.9 L793.8,980.8 L796.3,1024.4 L798.0,1077.6 L801.2,1071.2 L804.0,1143.5 L806.5,1098.8 L811.9,1088.2 L813.6,1015.9 L815.0,1077.6 L816.7,1159.4 L820.4,1126.5 L823.6,1073.3 L827.8,1072.3 L829.9,1030.8 L831.6,1012.7 L834.2,1012.7 L836.3,1077.6 L838.4,1107.3 L840.1,1088.2 L843.7,1146.7 L845.9,1122.2 L851.2,1122.2 L855.4,1125.4 L858.6,1141.4 L861.8,1162.6 L866.1,1200.9 L869.7,1232.8 L872.9,1194.5 L876.7,1152.0 L879.9,1130.7 L882.0,1162.6 L886.3,1224.3 L889.5,1173.2 L893.3,1128.6 L895.8,1152.0 L898.0,1172.2 L903.3,1166.9 L905.4,1194.5 L907.6,1243.8 L909.8,1309.7 L913.0,1243.8 L916.1,1207.6 L920.4,1177.9 L926.8,1176.4 L928.5,1222.5 L930.0,1265.0 L933.2,1301.2 L937.4,1279.9 L940.6,1250.2 L943.8,1233.2 L946.3,1250.2 L948.5,1233.2 L951.2,1265.0 L953.4,1282.1 L955.5,1237.4 L959.7,1265.0 L964.0,1290.6 L966.7,1307.6 L969.3,1241.7 L971.4,1269.3 L973.6,1307.6 L976.7,1365.0 L978.2,1328.8 L981.0,1303.3 L984.2,1313.9 L989.5,1295.9 L991.6,1307.6 L995.9,1289.5 L998.0,1328.8 L1001.2,1360.7 L1005.4,1386.2 L1008.6,1362.8 L1012.2,1413.9 L1016.1,1377.7 L1018.6,1360.7 L1022.0,1405.4 L1026.3,1333.1 L1028.8,1350.1 L1032.0,1382.0 L1036.3,1367.1 L1039.5,1365.0 L1043.3,1333.1 L1045.8,1371.4 L1049.0,1440.5 L1051.2,1339.5 L1054.3,1324.6 L1058.6,1294.8 L1062.8,1288.4 L1066.0,1267.2 L1068.2,1307.6 L1070.3,1343.7 L1072.4,1382.0 L1075.2,1356.5 L1077.7,1382.0 L1082.0,1403.2 L1085.8,1422.4 L1089.4,1392.6 L1091.6,1356.5 L1093.7,1382.0 L1096.9,1403.2 L1100.1,1424.5 L1102.2,1486.2 L1103.2,1435.1 L1105.4,1403.2 L1109.6,1371.4 L1112.2,1356.5 L1114.9,1382.0 L1118.1,1430.9 L1121.3,1416.0 L1124.5,1428.8 L1127.7,1379.9 L1130.9,1403.2 L1134.1,1445.8 L1135.6,1490.4 L1138.3,1392.6 L1141.1,1354.3 L1143.6,1392.6 L1145.8,1441.5 L1150.0,1430.9 L1154.3,1405.4 L1158.5,1433.0 L1161.7,1390.5 L1166.0,1373.5 L1169.2,1409.6 L1172.3,1371.4 L1175.5,1390.5 L1180.0,1411.8 L1181.0,1370.9 L1184.0,1382.5 L1186.7,1378.1 L1191.2,1393.2 L1193.8,1382.5 L1197.1,1407.5 L1198.8,1377.2 L1201.3,1354.9 L1202.8,1400.3 L1204.5,1444.9 L1206.7,1475.1 L1208.5,1436.0 L1210.8,1387.9 L1213.8,1373.6 L1217.0,1400.3 L1220.6,1387.9 L1223.8,1379.8 L1226.3,1400.3 L1228.6,1432.4 L1230.9,1446.6 L1233.9,1427.0 L1237.0,1407.5 L1240.2,1416.4 L1242.8,1436.0 L1245.2,1462.7 L1247.3,1484.9 L1249.4,1441.3 L1252.3,1446.6 L1255.3,1432.4 L1257.1,1400.3 L1258.3,1355.8 L1260.1,1326.4 L1261.9,1370.0 L1263.3,1400.3 L1265.1,1427.0 L1266.9,1450.2 L1269.6,1418.1 L1272.6,1403.0 L1274.9,1427.0 L1277.2,1471.6 L1279.7,1408.3 L1282.0,1436.0 L1283.3,1489.4 L1284.7,1517.9 L1286.8,1494.7 L1288.6,1462.7 L1290.4,1428.8 L1292.7,1444.9 L1294.5,1460.9 L1296.8,1441.3 L1298.9,1459.1 L1300.4,1476.9 L1302.2,1436.0 L1303.4,1395.0 L1306.1,1411.0 L1308.7,1428.8 L1310.5,1448.4 L1313.2,1413.7 L1316.8,1425.3 L1320.3,1432.4 L1323.5,1412.8 L1326.6,1421.7 L1328.9,1444.9 L1330.7,1464.5 L1332.8,1444.9 L1334.2,1427.0 L1336.4,1408.3 L1338.1,1436.0 L1339.9,1471.6 L1341.7,1498.3 L1343.5,1517.9 L1345.3,1498.3 L1347.9,1476.9 L1349.7,1465.3 L1352.0,1480.5 L1354.2,1496.5" fill="none" stroke="#000" stroke-width="2.7" stroke-linejoin="round"/>
<path d="M148.7,1416.4 C149.7,1415.3 152.7,1412.2 154.7,1409.8 C156.7,1407.5 158.7,1405.0 160.7,1402.2 C162.7,1399.5 164.7,1396.6 166.7,1393.5 C168.7,1390.3 170.7,1387.0 172.7,1383.4 C174.7,1379.8 176.7,1375.9 178.7,1371.8 C180.7,1367.6 182.7,1363.2 184.7,1358.5 C186.7,1353.8 188.7,1348.8 190.7,1343.4 C192.7,1338.1 194.7,1332.4 196.7,1326.4 C198.7,1320.4 200.7,1314.0 202.7,1307.3 C204.7,1300.6 206.7,1293.5 208.7,1286.2 C210.7,1278.8 212.7,1271.0 214.7,1263.1 C216.7,1255.1 218.7,1246.7 220.7,1238.3 C222.7,1229.8 224.7,1221.0 226.7,1212.2 C228.7,1203.5 230.7,1194.5 232.7,1185.9 C234.7,1177.2 236.7,1168.4 238.7,1160.3 C240.7,1152.2 242.7,1144.2 244.7,1137.3 C246.7,1130.3 248.7,1123.7 250.7,1118.5 C252.7,1113.3 254.7,1108.9 256.7,1105.9 C258.7,1103.0 260.7,1101.2 262.7,1100.9 C264.7,1100.6 266.7,1101.8 268.7,1104.2 C270.7,1106.6 272.7,1110.6 274.7,1115.5 C276.7,1120.4 278.7,1126.7 280.7,1133.5 C282.7,1140.3 284.7,1148.2 286.7,1156.2 C288.7,1164.3 290.7,1173.1 292.7,1181.7 C294.7,1190.4 296.7,1199.4 298.7,1208.2 C300.7,1217.0 302.7,1225.9 304.7,1234.5 C306.7,1243.0 308.7,1251.4 310.7,1259.5 C312.7,1267.5 314.7,1275.3 316.7,1282.8 C318.7,1290.2 320.7,1297.3 322.7,1304.0 C324.7,1310.7 326.7,1317.1 328.7,1323.1 C330.7,1329.1 332.7,1334.8 334.7,1340.1 C336.7,1345.4 338.7,1350.4 340.7,1355.0 C342.7,1359.7 344.7,1364.0 346.7,1368.1 C348.7,1372.2 350.7,1375.9 352.7,1379.4 C354.7,1383.0 356.7,1386.2 358.7,1389.2 C360.7,1392.3 362.7,1395.1 364.7,1397.7 C366.7,1400.3 368.7,1402.7 370.7,1404.9 C372.7,1407.2 374.7,1409.2 376.7,1411.2 C378.7,1413.1 380.7,1414.9 382.7,1416.5 C384.7,1418.2 386.7,1419.7 388.7,1421.1 C390.7,1422.6 392.7,1423.9 394.7,1425.1 C396.7,1426.4 398.7,1427.5 400.7,1428.6 C402.7,1429.7 404.7,1430.7 406.7,1431.6 C408.7,1432.6 410.7,1433.5 412.7,1434.3 C414.7,1435.1 416.7,1435.9 418.7,1436.6 C420.7,1437.4 422.7,1438.1 424.7,1438.7 C426.7,1439.4 428.7,1440.0 430.7,1440.6 C432.7,1441.2 434.7,1441.7 436.7,1442.3 C438.7,1442.8 440.7,1443.3 442.7,1443.8 C444.7,1444.2 446.7,1444.7 448.7,1445.1 C450.7,1445.6 452.7,1446.0 454.7,1446.4 C456.7,1446.8 458.7,1447.1 460.7,1447.5 C462.7,1447.9 464.7,1448.2 466.7,1448.5 C468.7,1448.9 470.7,1449.2 472.7,1449.5 C474.7,1449.8 476.7,1450.0 478.7,1450.3 C480.7,1450.6 482.7,1450.9 484.7,1451.1 C486.7,1451.4 488.7,1451.6 490.7,1451.8 C492.7,1452.1 494.7,1452.3 496.7,1452.5 C498.7,1452.7 500.7,1452.9 502.7,1453.1 C504.7,1453.3 506.7,1453.5 508.7,1453.7 C510.7,1453.9 512.7,1454.0 514.7,1454.2 C516.7,1454.4 518.7,1454.5 520.7,1454.7 C522.7,1454.8 524.7,1455.0 526.7,1455.1 C528.7,1455.3 530.7,1455.4 532.7,1455.5 C534.7,1455.7 536.7,1455.8 538.7,1455.9 C540.7,1456.0 542.7,1456.1 544.7,1456.2 C546.7,1456.4 548.7,1456.5 550.7,1456.6 C552.7,1456.7 554.7,1456.8 556.7,1456.9 C558.7,1456.9 560.7,1457.0 562.7,1457.1 C564.7,1457.2 566.7,1457.3 568.7,1457.4 C570.7,1457.5 572.7,1457.5 574.7,1457.6 C576.7,1457.7 578.7,1457.7 580.7,1457.8 C582.7,1457.9 584.7,1457.9 586.7,1458.0 C588.7,1458.1 590.7,1458.1 592.7,1458.2 C594.7,1458.2 596.7,1458.3 598.7,1458.3 C600.7,1458.4 602.7,1458.4 604.7,1458.5 C606.7,1458.5 608.7,1458.6 610.7,1458.6 C612.7,1458.7 614.7,1458.7 616.7,1458.8 C618.7,1458.8 620.7,1458.8 622.7,1458.9 C624.7,1458.9 626.7,1458.9 628.7,1459.0 C630.7,1459.0 632.7,1459.0 634.7,1459.0 C636.7,1459.1 638.7,1459.1 640.7,1459.1 C642.7,1459.1 644.7,1459.2 646.7,1459.2 C648.7,1459.2 650.7,1459.2 652.7,1459.2 C654.7,1459.3 656.7,1459.3 658.7,1459.3 C660.7,1459.3 662.7,1459.3 664.7,1459.3 C666.7,1459.4 668.7,1459.4 670.7,1459.4 C672.7,1459.4 674.7,1459.4 676.7,1459.4 C678.7,1459.4 680.7,1459.4 682.7,1459.4 C684.7,1459.4 686.7,1459.4 688.7,1459.4 C690.7,1459.4 692.7,1459.4 694.7,1459.4 C696.7,1459.4 698.7,1459.4 700.7,1459.4 C702.7,1459.4 704.7,1459.4 706.7,1459.4 C708.7,1459.4 710.7,1459.4 712.7,1459.4 C714.7,1459.4 716.7,1459.4 718.7,1459.4 C720.7,1459.4 722.7,1459.4 724.7,1459.4 C726.7,1459.4 728.7,1459.4 730.7,1459.4 C732.7,1459.3 734.7,1459.3 736.7,1459.3 C738.7,1459.3 740.7,1459.3 742.7,1459.3 C744.7,1459.3 746.7,1459.3 748.7,1459.3 C750.7,1459.2 752.7,1459.2 754.7,1459.2 C756.7,1459.2 758.7,1459.2 760.7,1459.2 C762.7,1459.1 764.7,1459.1 766.7,1459.1 C768.7,1459.1 770.7,1459.1 772.7,1459.1 C774.7,1459.0 776.7,1459.0 778.7,1459.0 C780.7,1459.0 782.7,1459.0 784.7,1458.9 C786.7,1458.9 788.7,1458.9 790.7,1458.9 C792.7,1458.9 794.7,1458.8 796.7,1458.8 C798.7,1458.8 800.7,1458.8 802.7,1458.7 C804.7,1458.7 806.7,1458.7 808.7,1458.7 C810.7,1458.6 812.7,1458.6 814.7,1458.6 C816.7,1458.6 818.7,1458.5 820.7,1458.5 C822.7,1458.5 824.7,1458.5 826.7,1458.4 C828.7,1458.4 830.7,1458.4 832.7,1458.3 C834.7,1458.3 836.7,1458.3 838.7,1458.3 C840.7,1458.2 842.7,1458.2 844.7,1458.2 C846.7,1458.1 848.7,1458.1 850.7,1458.1 C852.7,1458.1 854.7,1458.0 856.7,1458.0 C858.7,1458.0 860.7,1457.9 862.7,1457.9 C864.7,1457.9 866.7,1457.8 868.7,1457.8 C870.7,1457.8 872.7,1457.7 874.7,1457.7 C876.7,1457.7 878.7,1457.6 880.7,1457.6 C882.7,1457.6 884.7,1457.5 886.7,1457.5 C888.7,1457.5 890.7,1457.4 892.7,1457.4 C894.7,1457.4 896.7,1457.3 898.7,1457.3 C900.7,1457.3 902.7,1457.2 904.7,1457.2 C906.7,1457.2 908.7,1457.1 910.7,1457.1 C912.7,1457.1 914.7,1457.0 916.7,1457.0 C918.7,1457.0 920.7,1456.9 922.7,1456.9 C924.7,1456.9 926.7,1456.8 928.7,1456.8 C930.7,1456.8 932.7,1456.7 934.7,1456.7 C936.7,1456.7 938.7,1456.6 940.7,1456.6 C942.7,1456.6 944.7,1456.5 946.7,1456.5 C948.7,1456.5 950.7,1456.4 952.7,1456.4 C954.7,1456.4 956.7,1456.3 958.7,1456.3 C960.7,1456.2 962.7,1456.2 964.7,1456.2 C966.7,1456.1 968.7,1456.1 970.7,1456.1 C972.7,1456.0 974.7,1456.0 976.7,1456.0 C978.7,1455.9 980.7,1455.9 982.7,1455.9 C984.7,1455.8 986.7,1455.8 988.7,1455.8 C990.7,1455.7 992.7,1455.7 994.7,1455.7 C996.7,1455.6 998.7,1455.6 1000.7,1455.6 C1002.7,1455.5 1004.7,1455.5 1006.7,1455.5 C1008.7,1455.4 1010.7,1455.4 1012.7,1455.4 C1014.7,1455.3 1016.7,1455.3 1018.7,1455.3 C1020.7,1455.2 1022.7,1455.2 1024.7,1455.2 C1026.7,1455.1 1028.7,1455.1 1030.7,1455.1 C1032.7,1455.0 1034.7,1455.0 1036.7,1455.0 C1038.7,1454.9 1040.7,1454.9 1042.7,1454.9 C1044.7,1454.9 1046.7,1454.8 1048.7,1454.8 C1050.7,1454.8 1052.7,1454.7 1054.7,1454.7 C1056.7,1454.7 1058.7,1454.6 1060.7,1454.6 C1062.7,1454.6 1064.7,1454.6 1066.7,1454.5 C1068.7,1454.5 1070.7,1454.5 1072.7,1454.4 C1074.7,1454.4 1076.7,1454.4 1078.7,1454.4 C1080.7,1454.3 1082.7,1454.3 1084.7,1454.3 C1086.7,1454.3 1088.7,1454.2 1090.7,1454.2 C1092.7,1454.2 1094.7,1454.2 1096.7,1454.1 C1098.7,1454.1 1100.7,1454.1 1102.7,1454.1 C1104.7,1454.1 1106.7,1454.0 1108.7,1454.0 C1110.7,1454.0 1112.7,1454.0 1114.7,1453.9 C1116.7,1453.9 1118.7,1453.9 1120.7,1453.9 C1122.7,1453.9 1124.7,1453.8 1126.7,1453.8 C1128.7,1453.8 1130.7,1453.8 1132.7,1453.8 C1134.7,1453.8 1136.7,1453.7 1138.7,1453.7 C1140.7,1453.7 1142.7,1453.7 1144.7,1453.7 C1146.7,1453.7 1148.7,1453.7 1150.7,1453.6 C1152.7,1453.6 1154.7,1453.6 1156.7,1453.6 C1158.7,1453.6 1160.7,1453.6 1162.7,1453.6 C1164.7,1453.6 1166.7,1453.5 1168.7,1453.5 C1170.7,1453.5 1172.7,1453.5 1174.7,1453.5 C1176.7,1453.5 1178.7,1453.5 1180.7,1453.5 C1182.7,1453.5 1184.7,1453.5 1186.7,1453.5 C1188.7,1453.5 1190.7,1453.5 1192.7,1453.5 C1194.7,1453.5 1196.7,1453.5 1198.7,1453.5 C1200.7,1453.5 1202.7,1453.5 1204.7,1453.5 C1206.7,1453.5 1208.7,1453.5 1210.7,1453.5 C1212.7,1453.5 1214.7,1453.5 1216.7,1453.5 C1218.7,1453.5 1220.7,1453.5 1222.7,1453.5 C1224.7,1453.5 1226.7,1453.5 1228.7,1453.5 C1230.7,1453.5 1232.7,1453.5 1234.7,1453.6 C1236.7,1453.6 1238.7,1453.6 1240.7,1453.6 C1242.7,1453.6 1244.7,1453.6 1246.7,1453.6 C1248.7,1453.7 1250.7,1453.7 1252.7,1453.7 C1254.7,1453.7 1256.7,1453.7 1258.7,1453.7 C1260.7,1453.8 1262.7,1453.8 1264.7,1453.8 C1266.7,1453.8 1268.7,1453.9 1270.7,1453.9 C1272.7,1453.9 1274.7,1453.9 1276.7,1454.0 C1278.7,1454.0 1280.7,1454.0 1282.7,1454.0 C1284.7,1454.1 1286.7,1454.1 1288.7,1454.1 C1290.7,1454.2 1292.7,1454.2 1294.7,1454.2 C1296.7,1454.3 1298.7,1454.3 1300.7,1454.3 C1302.7,1454.4 1304.7,1454.4 1306.7,1454.5 C1308.7,1454.5 1310.7,1454.5 1312.7,1454.6 C1314.7,1454.6 1316.7,1454.7 1318.7,1454.7 C1320.7,1454.8 1322.7,1454.8 1324.7,1454.9 C1326.7,1454.9 1328.7,1455.0 1330.7,1455.0 C1332.7,1455.1 1334.7,1455.1 1336.7,1455.2 C1338.7,1455.2 1340.7,1455.3 1342.7,1455.4 C1344.7,1455.4 1346.7,1455.5 1348.7,1455.5 C1350.7,1455.6 1353.7,1455.7 1354.7,1455.7" fill="none" stroke="#ff00ff" stroke-width="2.3"/>
<path d="M148.7,1424.7 C149.7,1424.2 152.7,1422.8 154.7,1421.8 C156.7,1420.8 158.7,1419.8 160.7,1418.7 C162.7,1417.6 164.7,1416.5 166.7,1415.4 C168.7,1414.2 170.7,1413.0 172.7,1411.7 C174.7,1410.4 176.7,1409.1 178.7,1407.7 C180.7,1406.4 182.7,1404.9 184.7,1403.4 C186.7,1402.0 188.7,1400.4 190.7,1398.8 C192.7,1397.2 194.7,1395.5 196.7,1393.7 C198.7,1392.0 200.7,1390.1 202.7,1388.2 C204.7,1386.3 206.7,1384.3 208.7,1382.3 C210.7,1380.2 212.7,1378.1 214.7,1375.8 C216.7,1373.6 218.7,1371.3 220.7,1368.9 C222.7,1366.5 224.7,1364.0 226.7,1361.4 C228.7,1358.8 230.7,1356.1 232.7,1353.3 C234.7,1350.5 236.7,1347.6 238.7,1344.6 C240.7,1341.6 242.7,1338.5 244.7,1335.2 C246.7,1332.0 248.7,1328.7 250.7,1325.3 C252.7,1321.8 254.7,1318.3 256.7,1314.6 C258.7,1311.0 260.7,1307.2 262.7,1303.4 C264.7,1299.5 266.7,1295.5 268.7,1291.4 C270.7,1287.3 272.7,1283.1 274.7,1278.8 C276.7,1274.5 278.7,1270.1 280.7,1265.6 C282.7,1261.1 284.7,1256.5 286.7,1251.9 C288.7,1247.2 290.7,1242.4 292.7,1237.6 C294.7,1232.8 296.7,1227.9 298.7,1223.0 C300.7,1218.1 302.7,1213.1 304.7,1208.1 C306.7,1203.1 308.7,1198.1 310.7,1193.1 C312.7,1188.1 314.7,1183.1 316.7,1178.2 C318.7,1173.4 320.7,1168.5 322.7,1163.8 C324.7,1159.0 326.7,1154.4 328.7,1149.9 C330.7,1145.5 332.7,1141.1 334.7,1137.1 C336.7,1133.0 338.7,1129.1 340.7,1125.5 C342.7,1121.9 344.7,1118.6 346.7,1115.6 C348.7,1112.7 350.7,1110.0 352.7,1107.7 C354.7,1105.5 356.7,1103.6 358.7,1102.1 C360.7,1100.6 362.7,1099.5 364.7,1098.9 C366.7,1098.3 368.7,1098.1 370.7,1098.3 C372.7,1098.6 374.7,1099.2 376.7,1100.2 C378.7,1101.3 380.7,1102.7 382.7,1104.5 C384.7,1106.3 386.7,1108.5 388.7,1111.0 C390.7,1113.6 392.7,1116.4 394.7,1119.6 C396.7,1122.7 398.7,1126.1 400.7,1129.8 C402.7,1133.4 404.7,1137.3 406.7,1141.4 C408.7,1145.5 410.7,1149.7 412.7,1154.1 C414.7,1158.5 416.7,1163.0 418.7,1167.6 C420.7,1172.2 422.7,1176.9 424.7,1181.6 C426.7,1186.3 428.7,1191.1 430.7,1195.9 C432.7,1200.6 434.7,1205.4 436.7,1210.2 C438.7,1214.9 440.7,1219.7 442.7,1224.4 C444.7,1229.0 446.7,1233.7 448.7,1238.2 C450.7,1242.8 452.7,1247.3 454.7,1251.7 C456.7,1256.2 458.7,1260.5 460.7,1264.8 C462.7,1269.0 464.7,1273.2 466.7,1277.2 C468.7,1281.3 470.7,1285.3 472.7,1289.2 C474.7,1293.0 476.7,1296.8 478.7,1300.4 C480.7,1304.1 482.7,1307.7 484.7,1311.1 C486.7,1314.6 488.7,1317.9 490.7,1321.2 C492.7,1324.4 494.7,1327.6 496.7,1330.6 C498.7,1333.7 500.7,1336.6 502.7,1339.4 C504.7,1342.3 506.7,1345.0 508.7,1347.7 C510.7,1350.3 512.7,1352.9 514.7,1355.3 C516.7,1357.8 518.7,1360.2 520.7,1362.5 C522.7,1364.7 524.7,1366.9 526.7,1369.1 C528.7,1371.2 530.7,1373.2 532.7,1375.2 C534.7,1377.1 536.7,1379.0 538.7,1380.8 C540.7,1382.6 542.7,1384.3 544.7,1386.0 C546.7,1387.6 548.7,1389.2 550.7,1390.8 C552.7,1392.3 554.7,1393.8 556.7,1395.2 C558.7,1396.6 560.7,1397.9 562.7,1399.2 C564.7,1400.5 566.7,1401.7 568.7,1402.9 C570.7,1404.1 572.7,1405.2 574.7,1406.3 C576.7,1407.4 578.7,1408.5 580.7,1409.5 C582.7,1410.5 584.7,1411.4 586.7,1412.4 C588.7,1413.3 590.7,1414.2 592.7,1415.0 C594.7,1415.9 596.7,1416.7 598.7,1417.4 C600.7,1418.2 602.7,1419.0 604.7,1419.7 C606.7,1420.4 608.7,1421.1 610.7,1421.8 C612.7,1422.4 614.7,1423.1 616.7,1423.7 C618.7,1424.3 620.7,1424.9 622.7,1425.4 C624.7,1426.0 626.7,1426.5 628.7,1427.1 C630.7,1427.6 632.7,1428.1 634.7,1428.6 C636.7,1429.1 638.7,1429.5 640.7,1430.0 C642.7,1430.4 644.7,1430.9 646.7,1431.3 C648.7,1431.7 650.7,1432.1 652.7,1432.5 C654.7,1432.9 656.7,1433.3 658.7,1433.6 C660.7,1434.0 662.7,1434.3 664.7,1434.7 C666.7,1435.0 668.7,1435.3 670.7,1435.7 C672.7,1436.0 674.7,1436.3 676.7,1436.6 C678.7,1436.9 680.7,1437.2 682.7,1437.5 C684.7,1437.7 686.7,1438.0 688.7,1438.3 C690.7,1438.5 692.7,1438.8 694.7,1439.0 C696.7,1439.3 698.7,1439.5 700.7,1439.8 C702.7,1440.0 704.7,1440.2 706.7,1440.4 C708.7,1440.7 710.7,1440.9 712.7,1441.1 C714.7,1441.3 716.7,1441.5 718.7,1441.7 C720.7,1441.9 722.7,1442.1 724.7,1442.2 C726.7,1442.4 728.7,1442.6 730.7,1442.8 C732.7,1443.0 734.7,1443.1 736.7,1443.3 C738.7,1443.5 740.7,1443.6 742.7,1443.8 C744.7,1443.9 746.7,1444.1 748.7,1444.2 C750.7,1444.4 752.7,1444.5 754.7,1444.7 C756.7,1444.8 758.7,1444.9 760.7,1445.1 C762.7,1445.2 764.7,1445.3 766.7,1445.4 C768.7,1445.6 770.7,1445.7 772.7,1445.8 C774.7,1445.9 776.7,1446.0 778.7,1446.1 C780.7,1446.3 782.7,1446.4 784.7,1446.5 C786.7,1446.6 788.7,1446.7 790.7,1446.8 C792.7,1446.9 794.7,1447.0 796.7,1447.1 C798.7,1447.2 800.7,1447.3 802.7,1447.3 C804.7,1447.4 806.7,1447.5 808.7,1447.6 C810.7,1447.7 812.7,1447.8 814.7,1447.8 C816.7,1447.9 818.7,1448.0 820.7,1448.1 C822.7,1448.2 824.7,1448.2 826.7,1448.3 C828.7,1448.4 830.7,1448.4 832.7,1448.5 C834.7,1448.6 836.7,1448.6 838.7,1448.7 C840.7,1448.8 842.7,1448.8 844.7,1448.9 C846.7,1448.9 848.7,1449.0 850.7,1449.1 C852.7,1449.1 854.7,1449.2 856.7,1449.2 C858.7,1449.3 860.7,1449.3 862.7,1449.4 C864.7,1449.4 866.7,1449.5 868.7,1449.5 C870.7,1449.6 872.7,1449.6 874.7,1449.7 C876.7,1449.7 878.7,1449.8 880.7,1449.8 C882.7,1449.8 884.7,1449.9 886.7,1449.9 C888.7,1450.0 890.7,1450.0 892.7,1450.0 C894.7,1450.1 896.7,1450.1 898.7,1450.1 C900.7,1450.2 902.7,1450.2 904.7,1450.2 C906.7,1450.3 908.7,1450.3 910.7,1450.3 C912.7,1450.4 914.7,1450.4 916.7,1450.4 C918.7,1450.5 920.7,1450.5 922.7,1450.5 C924.7,1450.5 926.7,1450.6 928.7,1450.6 C930.7,1450.6 932.7,1450.6 934.7,1450.7 C936.7,1450.7 938.7,1450.7 940.7,1450.7 C942.7,1450.7 944.7,1450.8 946.7,1450.8 C948.7,1450.8 950.7,1450.8 952.7,1450.8 C954.7,1450.9 956.7,1450.9 958.7,1450.9 C960.7,1450.9 962.7,1450.9 964.7,1451.0 C966.7,1451.0 968.7,1451.0 970.7,1451.0 C972.7,1451.0 974.7,1451.0 976.7,1451.0 C978.7,1451.1 980.7,1451.1 982.7,1451.1 C984.7,1451.1 986.7,1451.1 988.7,1451.1 C990.7,1451.1 992.7,1451.1 994.7,1451.2 C996.7,1451.2 998.7,1451.2 1000.7,1451.2 C1002.7,1451.2 1004.7,1451.2 1006.7,1451.2 C1008.7,1451.2 1010.7,1451.2 1012.7,1451.2 C1014.7,1451.2 1016.7,1451.3 1018.7,1451.3 C1020.7,1451.3 1022.7,1451.3 1024.7,1451.3 C1026.7,1451.3 1028.7,1451.3 1030.7,1451.3 C1032.7,1451.3 1034.7,1451.3 1036.7,1451.3 C1038.7,1451.3 1040.7,1451.3 1042.7,1451.3 C1044.7,1451.3 1046.7,1451.3 1048.7,1451.3 C1050.7,1451.4 1052.7,1451.4 1054.7,1451.4 C1056.7,1451.4 1058.7,1451.4 1060.7,1451.4 C1062.7,1451.4 1064.7,1451.4 1066.7,1451.4 C1068.7,1451.4 1070.7,1451.4 1072.7,1451.4 C1074.7,1451.4 1076.7,1451.4 1078.7,1451.4 C1080.7,1451.4 1082.7,1451.4 1084.7,1451.4 C1086.7,1451.4 1088.7,1451.4 1090.7,1451.4 C1092.7,1451.4 1094.7,1451.4 1096.7,1451.4 C1098.7,1451.4 1100.7,1451.4 1102.7,1451.4 C1104.7,1451.4 1106.7,1451.4 1108.7,1451.4 C1110.7,1451.4 1112.7,1451.4 1114.7,1451.4 C1116.7,1451.4 1118.7,1451.4 1120.7,1451.4 C1122.7,1451.4 1124.7,1451.4 1126.7,1451.4 C1128.7,1451.5 1130.7,1451.5 1132.7,1451.5 C1134.7,1451.5 1136.7,1451.5 1138.7,1451.5 C1140.7,1451.5 1142.7,1451.5 1144.7,1451.5 C1146.7,1451.5 1148.7,1451.5 1150.7,1451.5 C1152.7,1451.5 1154.7,1451.5 1156.7,1451.5 C1158.7,1451.5 1160.7,1451.5 1162.7,1451.5 C1164.7,1451.5 1166.7,1451.5 1168.7,1451.5 C1170.7,1451.5 1172.7,1451.5 1174.7,1451.5 C1176.7,1451.5 1178.7,1451.5 1180.7,1451.5 C1182.7,1451.5 1184.7,1451.5 1186.7,1451.5 C1188.7,1451.5 1190.7,1451.5 1192.7,1451.5 C1194.7,1451.5 1196.7,1451.5 1198.7,1451.5 C1200.7,1451.5 1202.7,1451.5 1204.7,1451.6 C1206.7,1451.6 1208.7,1451.6 1210.7,1451.6 C1212.7,1451.6 1214.7,1451.6 1216.7,1451.6 C1218.7,1451.6 1220.7,1451.6 1222.7,1451.6 C1224.7,1451.6 1226.7,1451.6 1228.7,1451.6 C1230.7,1451.6 1232.7,1451.6 1234.7,1451.6 C1236.7,1451.6 1238.7,1451.7 1240.7,1451.7 C1242.7,1451.7 1244.7,1451.7 1246.7,1451.7 C1248.7,1451.7 1250.7,1451.7 1252.7,1451.7 C1254.7,1451.7 1256.7,1451.7 1258.7,1451.7 C1260.7,1451.7 1262.7,1451.8 1264.7,1451.8 C1266.7,1451.8 1268.7,1451.8 1270.7,1451.8 C1272.7,1451.8 1274.7,1451.8 1276.7,1451.8 C1278.7,1451.8 1280.7,1451.9 1282.7,1451.9 C1284.7,1451.9 1286.7,1451.9 1288.7,1451.9 C1290.7,1451.9 1292.7,1451.9 1294.7,1451.9 C1296.7,1452.0 1298.7,1452.0 1300.7,1452.0 C1302.7,1452.0 1304.7,1452.0 1306.7,1452.0 C1308.7,1452.1 1310.7,1452.1 1312.7,1452.1 C1314.7,1452.1 1316.7,1452.1 1318.7,1452.1 C1320.7,1452.2 1322.7,1452.2 1324.7,1452.2 C1326.7,1452.2 1328.7,1452.2 1330.7,1452.2 C1332.7,1452.3 1334.7,1452.3 1336.7,1452.3 C1338.7,1452.3 1340.7,1452.3 1342.7,1452.4 C1344.7,1452.4 1346.7,1452.4 1348.7,1452.4 C1350.7,1452.5 1353.7,1452.5 1354.7,1452.5" fill="none" stroke="#008000" stroke-width="2.2"/>
<path d="M148.7,1469.4 C149.7,1469.3 152.7,1469.1 154.7,1469.0 C156.7,1468.8 158.7,1468.7 160.7,1468.5 C162.7,1468.4 164.7,1468.2 166.7,1468.1 C168.7,1467.9 170.7,1467.8 172.7,1467.7 C174.7,1467.5 176.7,1467.4 178.7,1467.2 C180.7,1467.1 182.7,1466.9 184.7,1466.8 C186.7,1466.6 188.7,1466.5 190.7,1466.3 C192.7,1466.1 194.7,1466.0 196.7,1465.8 C198.7,1465.7 200.7,1465.5 202.7,1465.4 C204.7,1465.2 206.7,1465.1 208.7,1464.9 C210.7,1464.7 212.7,1464.6 214.7,1464.4 C216.7,1464.2 218.7,1464.1 220.7,1463.9 C222.7,1463.7 224.7,1463.6 226.7,1463.4 C228.7,1463.2 230.7,1463.0 232.7,1462.9 C234.7,1462.7 236.7,1462.5 238.7,1462.3 C240.7,1462.1 242.7,1462.0 244.7,1461.8 C246.7,1461.6 248.7,1461.4 250.7,1461.2 C252.7,1461.0 254.7,1460.8 256.7,1460.6 C258.7,1460.4 260.7,1460.2 262.7,1460.0 C264.7,1459.8 266.7,1459.6 268.7,1459.4 C270.7,1459.1 272.7,1458.9 274.7,1458.7 C276.7,1458.5 278.7,1458.2 280.7,1458.0 C282.7,1457.8 284.7,1457.5 286.7,1457.3 C288.7,1457.0 290.7,1456.8 292.7,1456.5 C294.7,1456.3 296.7,1456.0 298.7,1455.7 C300.7,1455.4 302.7,1455.2 304.7,1454.9 C306.7,1454.6 308.7,1454.3 310.7,1454.0 C312.7,1453.7 314.7,1453.4 316.7,1453.1 C318.7,1452.8 320.7,1452.4 322.7,1452.1 C324.7,1451.8 326.7,1451.4 328.7,1451.0 C330.7,1450.7 332.7,1450.3 334.7,1449.9 C336.7,1449.6 338.7,1449.2 340.7,1448.8 C342.7,1448.4 344.7,1448.0 346.7,1447.5 C348.7,1447.1 350.7,1446.7 352.7,1446.2 C354.7,1445.8 356.7,1445.3 358.7,1444.8 C360.7,1444.4 362.7,1443.9 364.7,1443.3 C366.7,1442.8 368.7,1442.3 370.7,1441.8 C372.7,1441.2 374.7,1440.7 376.7,1440.1 C378.7,1439.5 380.7,1438.9 382.7,1438.3 C384.7,1437.7 386.7,1437.1 388.7,1436.4 C390.7,1435.8 392.7,1435.1 394.7,1434.4 C396.7,1433.7 398.7,1433.0 400.7,1432.3 C402.7,1431.5 404.7,1430.8 406.7,1430.0 C408.7,1429.2 410.7,1428.4 412.7,1427.6 C414.7,1426.8 416.7,1425.9 418.7,1425.1 C420.7,1424.2 422.7,1423.3 424.7,1422.4 C426.7,1421.5 428.7,1420.5 430.7,1419.6 C432.7,1418.6 434.7,1417.6 436.7,1416.6 C438.7,1415.6 440.7,1414.5 442.7,1413.4 C444.7,1412.4 446.7,1411.3 448.7,1410.2 C450.7,1409.0 452.7,1407.9 454.7,1406.7 C456.7,1405.6 458.7,1404.4 460.7,1403.1 C462.7,1401.9 464.7,1400.7 466.7,1399.4 C468.7,1398.2 470.7,1396.9 472.7,1395.6 C474.7,1394.2 476.7,1392.9 478.7,1391.6 C480.7,1390.2 482.7,1388.9 484.7,1387.5 C486.7,1386.1 488.7,1384.7 490.7,1383.3 C492.7,1381.9 494.7,1380.5 496.7,1379.1 C498.7,1377.7 500.7,1376.3 502.7,1374.9 C504.7,1373.4 506.7,1372.0 508.7,1370.6 C510.7,1369.2 512.7,1367.8 514.7,1366.5 C516.7,1365.1 518.7,1363.7 520.7,1362.4 C522.7,1361.1 524.7,1359.8 526.7,1358.6 C528.7,1357.3 530.7,1356.1 532.7,1354.9 C534.7,1353.8 536.7,1352.7 538.7,1351.6 C540.7,1350.6 542.7,1349.6 544.7,1348.7 C546.7,1347.8 548.7,1346.9 550.7,1346.2 C552.7,1345.4 554.7,1344.8 556.7,1344.2 C558.7,1343.6 560.7,1343.1 562.7,1342.7 C564.7,1342.3 566.7,1342.1 568.7,1341.9 C570.7,1341.7 572.7,1341.6 574.7,1341.6 C576.7,1341.6 578.7,1341.7 580.7,1341.9 C582.7,1342.1 584.7,1342.4 586.7,1342.8 C588.7,1343.2 590.7,1343.7 592.7,1344.2 C594.7,1344.8 596.7,1345.4 598.7,1346.1 C600.7,1346.8 602.7,1347.6 604.7,1348.5 C606.7,1349.3 608.7,1350.2 610.7,1351.2 C612.7,1352.2 614.7,1353.2 616.7,1354.3 C618.7,1355.4 620.7,1356.5 622.7,1357.6 C624.7,1358.8 626.7,1360.0 628.7,1361.2 C630.7,1362.4 632.7,1363.7 634.7,1364.9 C636.7,1366.2 638.7,1367.5 640.7,1368.8 C642.7,1370.0 644.7,1371.3 646.7,1372.6 C648.7,1373.9 650.7,1375.2 652.7,1376.5 C654.7,1377.8 656.7,1379.1 658.7,1380.4 C660.7,1381.7 662.7,1383.0 664.7,1384.2 C666.7,1385.5 668.7,1386.7 670.7,1388.0 C672.7,1389.2 674.7,1390.4 676.7,1391.6 C678.7,1392.8 680.7,1394.0 682.7,1395.1 C684.7,1396.3 686.7,1397.4 688.7,1398.5 C690.7,1399.7 692.7,1400.7 694.7,1401.8 C696.7,1402.9 698.7,1403.9 700.7,1405.0 C702.7,1406.0 704.7,1407.0 706.7,1407.9 C708.7,1408.9 710.7,1409.9 712.7,1410.8 C714.7,1411.7 716.7,1412.6 718.7,1413.5 C720.7,1414.4 722.7,1415.2 724.7,1416.1 C726.7,1416.9 728.7,1417.7 730.7,1418.5 C732.7,1419.3 734.7,1420.0 736.7,1420.8 C738.7,1421.5 740.7,1422.2 742.7,1422.9 C744.7,1423.6 746.7,1424.3 748.7,1425.0 C750.7,1425.6 752.7,1426.2 754.7,1426.9 C756.7,1427.5 758.7,1428.1 760.7,1428.6 C762.7,1429.2 764.7,1429.8 766.7,1430.3 C768.7,1430.8 770.7,1431.4 772.7,1431.9 C774.7,1432.4 776.7,1432.8 778.7,1433.3 C780.7,1433.8 782.7,1434.2 784.7,1434.7 C786.7,1435.1 788.7,1435.5 790.7,1435.9 C792.7,1436.3 794.7,1436.7 796.7,1437.1 C798.7,1437.5 800.7,1437.8 802.7,1438.2 C804.7,1438.5 806.7,1438.9 808.7,1439.2 C810.7,1439.5 812.7,1439.8 814.7,1440.1 C816.7,1440.4 818.7,1440.7 820.7,1441.0 C822.7,1441.3 824.7,1441.5 826.7,1441.8 C828.7,1442.0 830.7,1442.3 832.7,1442.5 C834.7,1442.8 836.7,1443.0 838.7,1443.2 C840.7,1443.4 842.7,1443.7 844.7,1443.9 C846.7,1444.1 848.7,1444.3 850.7,1444.4 C852.7,1444.6 854.7,1444.8 856.7,1445.0 C858.7,1445.2 860.7,1445.3 862.7,1445.5 C864.7,1445.6 866.7,1445.8 868.7,1446.0 C870.7,1446.1 872.7,1446.2 874.7,1446.4 C876.7,1446.5 878.7,1446.6 880.7,1446.8 C882.7,1446.9 884.7,1447.0 886.7,1447.1 C888.7,1447.2 890.7,1447.4 892.7,1447.5 C894.7,1447.6 896.7,1447.7 898.7,1447.8 C900.7,1447.9 902.7,1448.0 904.7,1448.1 C906.7,1448.1 908.7,1448.2 910.7,1448.3 C912.7,1448.4 914.7,1448.5 916.7,1448.6 C918.7,1448.6 920.7,1448.7 922.7,1448.8 C924.7,1448.9 926.7,1448.9 928.7,1449.0 C930.7,1449.0 932.7,1449.1 934.7,1449.2 C936.7,1449.2 938.7,1449.3 940.7,1449.3 C942.7,1449.4 944.7,1449.4 946.7,1449.5 C948.7,1449.5 950.7,1449.6 952.7,1449.6 C954.7,1449.7 956.7,1449.7 958.7,1449.8 C960.7,1449.8 962.7,1449.8 964.7,1449.9 C966.7,1449.9 968.7,1450.0 970.7,1450.0 C972.7,1450.0 974.7,1450.1 976.7,1450.1 C978.7,1450.1 980.7,1450.2 982.7,1450.2 C984.7,1450.2 986.7,1450.2 988.7,1450.3 C990.7,1450.3 992.7,1450.3 994.7,1450.3 C996.7,1450.3 998.7,1450.4 1000.7,1450.4 C1002.7,1450.4 1004.7,1450.4 1006.7,1450.4 C1008.7,1450.5 1010.7,1450.5 1012.7,1450.5 C1014.7,1450.5 1016.7,1450.5 1018.7,1450.5 C1020.7,1450.6 1022.7,1450.6 1024.7,1450.6 C1026.7,1450.6 1028.7,1450.6 1030.7,1450.6 C1032.7,1450.6 1034.7,1450.6 1036.7,1450.6 C1038.7,1450.6 1040.7,1450.7 1042.7,1450.7 C1044.7,1450.7 1046.7,1450.7 1048.7,1450.7 C1050.7,1450.7 1052.7,1450.7 1054.7,1450.7 C1056.7,1450.7 1058.7,1450.7 1060.7,1450.7 C1062.7,1450.7 1064.7,1450.7 1066.7,1450.7 C1068.7,1450.7 1070.7,1450.7 1072.7,1450.7 C1074.7,1450.7 1076.7,1450.7 1078.7,1450.7 C1080.7,1450.7 1082.7,1450.7 1084.7,1450.7 C1086.7,1450.7 1088.7,1450.7 1090.7,1450.7 C1092.7,1450.7 1094.7,1450.7 1096.7,1450.7 C1098.7,1450.7 1100.7,1450.7 1102.7,1450.7 C1104.7,1450.7 1106.7,1450.7 1108.7,1450.7 C1110.7,1450.7 1112.7,1450.7 1114.7,1450.7 C1116.7,1450.7 1118.7,1450.7 1120.7,1450.7 C1122.7,1450.7 1124.7,1450.7 1126.7,1450.7 C1128.7,1450.7 1130.7,1450.7 1132.7,1450.7 C1134.7,1450.7 1136.7,1450.7 1138.7,1450.7 C1140.7,1450.6 1142.7,1450.6 1144.7,1450.6 C1146.7,1450.6 1148.7,1450.6 1150.7,1450.6 C1152.7,1450.6 1154.7,1450.6 1156.7,1450.6 C1158.7,1450.6 1160.7,1450.6 1162.7,1450.6 C1164.7,1450.6 1166.7,1450.6 1168.7,1450.6 C1170.7,1450.6 1172.7,1450.6 1174.7,1450.6 C1176.7,1450.6 1178.7,1450.6 1180.7,1450.6 C1182.7,1450.6 1184.7,1450.6 1186.7,1450.6 C1188.7,1450.6 1190.7,1450.6 1192.7,1450.6 C1194.7,1450.6 1196.7,1450.6 1198.7,1450.6 C1200.7,1450.6 1202.7,1450.6 1204.7,1450.6 C1206.7,1450.6 1208.7,1450.6 1210.7,1450.6 C1212.7,1450.6 1214.7,1450.6 1216.7,1450.6 C1218.7,1450.6 1220.7,1450.6 1222.7,1450.6 C1224.7,1450.6 1226.7,1450.6 1228.7,1450.7 C1230.7,1450.7 1232.7,1450.7 1234.7,1450.7 C1236.7,1450.7 1238.7,1450.7 1240.7,1450.7 C1242.7,1450.7 1244.7,1450.7 1246.7,1450.7 C1248.7,1450.7 1250.7,1450.7 1252.7,1450.7 C1254.7,1450.8 1256.7,1450.8 1258.7,1450.8 C1260.7,1450.8 1262.7,1450.8 1264.7,1450.8 C1266.7,1450.8 1268.7,1450.8 1270.7,1450.9 C1272.7,1450.9 1274.7,1450.9 1276.7,1450.9 C1278.7,1450.9 1280.7,1450.9 1282.7,1451.0 C1284.7,1451.0 1286.7,1451.0 1288.7,1451.0 C1290.7,1451.0 1292.7,1451.1 1294.7,1451.1 C1296.7,1451.1 1298.7,1451.1 1300.7,1451.1 C1302.7,1451.2 1304.7,1451.2 1306.7,1451.2 C1308.7,1451.2 1310.7,1451.3 1312.7,1451.3 C1314.7,1451.3 1316.7,1451.3 1318.7,1451.4 C1320.7,1451.4 1322.7,1451.4 1324.7,1451.5 C1326.7,1451.5 1328.7,1451.5 1330.7,1451.6 C1332.7,1451.6 1334.7,1451.6 1336.7,1451.7 C1338.7,1451.7 1340.7,1451.7 1342.7,1451.8 C1344.7,1451.8 1346.7,1451.8 1348.7,1451.9 C1350.7,1451.9 1353.7,1452.0 1354.7,1452.0" fill="none" stroke="#00ff00" stroke-width="2.2"/>
<path d="M148.7,1470.2 C149.7,1470.2 152.7,1470.1 154.7,1470.0 C156.7,1469.9 158.7,1469.8 160.7,1469.8 C162.7,1469.7 164.7,1469.6 166.7,1469.5 C168.7,1469.5 170.7,1469.4 172.7,1469.3 C174.7,1469.2 176.7,1469.1 178.7,1469.1 C180.7,1469.0 182.7,1468.9 184.7,1468.8 C186.7,1468.7 188.7,1468.6 190.7,1468.6 C192.7,1468.5 194.7,1468.4 196.7,1468.3 C198.7,1468.2 200.7,1468.1 202.7,1468.0 C204.7,1468.0 206.7,1467.9 208.7,1467.8 C210.7,1467.7 212.7,1467.6 214.7,1467.5 C216.7,1467.4 218.7,1467.3 220.7,1467.2 C222.7,1467.1 224.7,1467.0 226.7,1466.9 C228.7,1466.8 230.7,1466.8 232.7,1466.7 C234.7,1466.6 236.7,1466.5 238.7,1466.4 C240.7,1466.3 242.7,1466.2 244.7,1466.1 C246.7,1466.0 248.7,1465.9 250.7,1465.7 C252.7,1465.6 254.7,1465.5 256.7,1465.4 C258.7,1465.3 260.7,1465.2 262.7,1465.1 C264.7,1465.0 266.7,1464.9 268.7,1464.8 C270.7,1464.7 272.7,1464.5 274.7,1464.4 C276.7,1464.3 278.7,1464.2 280.7,1464.1 C282.7,1463.9 284.7,1463.8 286.7,1463.7 C288.7,1463.6 290.7,1463.5 292.7,1463.3 C294.7,1463.2 296.7,1463.1 298.7,1462.9 C300.7,1462.8 302.7,1462.7 304.7,1462.5 C306.7,1462.4 308.7,1462.3 310.7,1462.1 C312.7,1462.0 314.7,1461.8 316.7,1461.7 C318.7,1461.5 320.7,1461.4 322.7,1461.2 C324.7,1461.1 326.7,1460.9 328.7,1460.8 C330.7,1460.6 332.7,1460.5 334.7,1460.3 C336.7,1460.1 338.7,1460.0 340.7,1459.8 C342.7,1459.6 344.7,1459.5 346.7,1459.3 C348.7,1459.1 350.7,1458.9 352.7,1458.8 C354.7,1458.6 356.7,1458.4 358.7,1458.2 C360.7,1458.0 362.7,1457.8 364.7,1457.6 C366.7,1457.4 368.7,1457.2 370.7,1457.0 C372.7,1456.8 374.7,1456.6 376.7,1456.4 C378.7,1456.1 380.7,1455.9 382.7,1455.7 C384.7,1455.5 386.7,1455.2 388.7,1455.0 C390.7,1454.8 392.7,1454.5 394.7,1454.3 C396.7,1454.0 398.7,1453.8 400.7,1453.5 C402.7,1453.2 404.7,1453.0 406.7,1452.7 C408.7,1452.4 410.7,1452.1 412.7,1451.8 C414.7,1451.5 416.7,1451.2 418.7,1450.9 C420.7,1450.6 422.7,1450.3 424.7,1450.0 C426.7,1449.6 428.7,1449.3 430.7,1449.0 C432.7,1448.6 434.7,1448.3 436.7,1447.9 C438.7,1447.5 440.7,1447.1 442.7,1446.8 C444.7,1446.4 446.7,1446.0 448.7,1445.5 C450.7,1445.1 452.7,1444.7 454.7,1444.2 C456.7,1443.8 458.7,1443.3 460.7,1442.9 C462.7,1442.4 464.7,1441.9 466.7,1441.4 C468.7,1440.9 470.7,1440.3 472.7,1439.8 C474.7,1439.2 476.7,1438.7 478.7,1438.1 C480.7,1437.5 482.7,1436.9 484.7,1436.2 C486.7,1435.6 488.7,1434.9 490.7,1434.2 C492.7,1433.5 494.7,1432.8 496.7,1432.1 C498.7,1431.3 500.7,1430.5 502.7,1429.7 C504.7,1428.9 506.7,1428.1 508.7,1427.2 C510.7,1426.3 512.7,1425.4 514.7,1424.4 C516.7,1423.4 518.7,1422.5 520.7,1421.4 C522.7,1420.4 524.7,1419.3 526.7,1418.1 C528.7,1417.0 530.7,1415.8 532.7,1414.6 C534.7,1413.4 536.7,1412.1 538.7,1410.7 C540.7,1409.4 542.7,1408.0 544.7,1406.5 C546.7,1405.0 548.7,1403.5 550.7,1401.9 C552.7,1400.3 554.7,1398.7 556.7,1396.9 C558.7,1395.2 560.7,1393.4 562.7,1391.5 C564.7,1389.7 566.7,1387.7 568.7,1385.7 C570.7,1383.6 572.7,1381.5 574.7,1379.3 C576.7,1377.1 578.7,1374.8 580.7,1372.4 C582.7,1370.1 584.7,1367.6 586.7,1365.1 C588.7,1362.5 590.7,1359.9 592.7,1357.1 C594.7,1354.4 596.7,1351.6 598.7,1348.7 C600.7,1345.8 602.7,1342.8 604.7,1339.7 C606.7,1336.6 608.7,1333.5 610.7,1330.2 C612.7,1327.0 614.7,1323.7 616.7,1320.3 C618.7,1317.0 620.7,1313.5 622.7,1310.1 C624.7,1306.6 626.7,1303.1 628.7,1299.6 C630.7,1296.2 632.7,1292.6 634.7,1289.2 C636.7,1285.7 638.7,1282.3 640.7,1278.9 C642.7,1275.6 644.7,1272.3 646.7,1269.2 C648.7,1266.0 650.7,1263.0 652.7,1260.2 C654.7,1257.4 656.7,1254.7 658.7,1252.3 C660.7,1250.0 662.7,1247.8 664.7,1246.0 C666.7,1244.1 668.7,1242.6 670.7,1241.3 C672.7,1240.1 674.7,1239.3 676.7,1238.7 C678.7,1238.2 680.7,1238.1 682.7,1238.3 C684.7,1238.5 686.7,1239.1 688.7,1240.1 C690.7,1241.0 692.7,1242.4 694.7,1244.0 C696.7,1245.7 698.7,1247.7 700.7,1249.9 C702.7,1252.2 704.7,1254.8 706.7,1257.5 C708.7,1260.2 710.7,1263.2 712.7,1266.3 C714.7,1269.4 716.7,1272.7 718.7,1276.0 C720.7,1279.4 722.7,1282.9 724.7,1286.3 C726.7,1289.8 728.7,1293.4 730.7,1296.9 C732.7,1300.4 734.7,1303.9 736.7,1307.4 C738.7,1310.9 740.7,1314.3 742.7,1317.7 C744.7,1321.1 746.7,1324.5 748.7,1327.7 C750.7,1331.0 752.7,1334.2 754.7,1337.2 C756.7,1340.3 758.7,1343.3 760.7,1346.3 C762.7,1349.2 764.7,1352.0 766.7,1354.7 C768.7,1357.4 770.7,1360.1 772.7,1362.6 C774.7,1365.1 776.7,1367.6 778.7,1369.9 C780.7,1372.3 782.7,1374.5 784.7,1376.7 C786.7,1378.9 788.7,1380.9 790.7,1382.9 C792.7,1384.9 794.7,1386.8 796.7,1388.7 C798.7,1390.5 800.7,1392.2 802.7,1393.9 C804.7,1395.6 806.7,1397.2 808.7,1398.7 C810.7,1400.2 812.7,1401.7 814.7,1403.1 C816.7,1404.5 818.7,1405.8 820.7,1407.1 C822.7,1408.4 824.7,1409.6 826.7,1410.8 C828.7,1411.9 830.7,1413.0 832.7,1414.1 C834.7,1415.2 836.7,1416.2 838.7,1417.1 C840.7,1418.1 842.7,1419.0 844.7,1419.9 C846.7,1420.8 848.7,1421.6 850.7,1422.4 C852.7,1423.2 854.7,1424.0 856.7,1424.7 C858.7,1425.4 860.7,1426.1 862.7,1426.8 C864.7,1427.5 866.7,1428.1 868.7,1428.7 C870.7,1429.3 872.7,1429.9 874.7,1430.5 C876.7,1431.0 878.7,1431.6 880.7,1432.1 C882.7,1432.6 884.7,1433.1 886.7,1433.6 C888.7,1434.0 890.7,1434.5 892.7,1434.9 C894.7,1435.4 896.7,1435.8 898.7,1436.2 C900.7,1436.6 902.7,1436.9 904.7,1437.3 C906.7,1437.7 908.7,1438.0 910.7,1438.4 C912.7,1438.7 914.7,1439.0 916.7,1439.4 C918.7,1439.7 920.7,1440.0 922.7,1440.3 C924.7,1440.5 926.7,1440.8 928.7,1441.1 C930.7,1441.4 932.7,1441.6 934.7,1441.9 C936.7,1442.1 938.7,1442.4 940.7,1442.6 C942.7,1442.8 944.7,1443.1 946.7,1443.3 C948.7,1443.5 950.7,1443.7 952.7,1443.9 C954.7,1444.1 956.7,1444.3 958.7,1444.5 C960.7,1444.7 962.7,1444.8 964.7,1445.0 C966.7,1445.2 968.7,1445.4 970.7,1445.5 C972.7,1445.7 974.7,1445.8 976.7,1446.0 C978.7,1446.2 980.7,1446.3 982.7,1446.4 C984.7,1446.6 986.7,1446.7 988.7,1446.9 C990.7,1447.0 992.7,1447.1 994.7,1447.2 C996.7,1447.4 998.7,1447.5 1000.7,1447.6 C1002.7,1447.7 1004.7,1447.8 1006.7,1447.9 C1008.7,1448.0 1010.7,1448.2 1012.7,1448.3 C1014.7,1448.4 1016.7,1448.5 1018.7,1448.6 C1020.7,1448.6 1022.7,1448.7 1024.7,1448.8 C1026.7,1448.9 1028.7,1449.0 1030.7,1449.1 C1032.7,1449.2 1034.7,1449.2 1036.7,1449.3 C1038.7,1449.4 1040.7,1449.5 1042.7,1449.6 C1044.7,1449.6 1046.7,1449.7 1048.7,1449.8 C1050.7,1449.8 1052.7,1449.9 1054.7,1450.0 C1056.7,1450.0 1058.7,1450.1 1060.7,1450.1 C1062.7,1450.2 1064.7,1450.3 1066.7,1450.3 C1068.7,1450.4 1070.7,1450.4 1072.7,1450.5 C1074.7,1450.5 1076.7,1450.6 1078.7,1450.6 C1080.7,1450.7 1082.7,1450.7 1084.7,1450.8 C1086.7,1450.8 1088.7,1450.9 1090.7,1450.9 C1092.7,1450.9 1094.7,1451.0 1096.7,1451.0 C1098.7,1451.1 1100.7,1451.1 1102.7,1451.1 C1104.7,1451.2 1106.7,1451.2 1108.7,1451.2 C1110.7,1451.3 1112.7,1451.3 1114.7,1451.3 C1116.7,1451.4 1118.7,1451.4 1120.7,1451.4 C1122.7,1451.4 1124.7,1451.5 1126.7,1451.5 C1128.7,1451.5 1130.7,1451.6 1132.7,1451.6 C1134.7,1451.6 1136.7,1451.6 1138.7,1451.6 C1140.7,1451.7 1142.7,1451.7 1144.7,1451.7 C1146.7,1451.7 1148.7,1451.7 1150.7,1451.8 C1152.7,1451.8 1154.7,1451.8 1156.7,1451.8 C1158.7,1451.8 1160.7,1451.9 1162.7,1451.9 C1164.7,1451.9 1166.7,1451.9 1168.7,1451.9 C1170.7,1451.9 1172.7,1451.9 1174.7,1452.0 C1176.7,1452.0 1178.7,1452.0 1180.7,1452.0 C1182.7,1452.0 1184.7,1452.0 1186.7,1452.0 C1188.7,1452.0 1190.7,1452.0 1192.7,1452.1 C1194.7,1452.1 1196.7,1452.1 1198.7,1452.1 C1200.7,1452.1 1202.7,1452.1 1204.7,1452.1 C1206.7,1452.1 1208.7,1452.1 1210.7,1452.1 C1212.7,1452.1 1214.7,1452.1 1216.7,1452.1 C1218.7,1452.1 1220.7,1452.1 1222.7,1452.1 C1224.7,1452.1 1226.7,1452.2 1228.7,1452.2 C1230.7,1452.2 1232.7,1452.2 1234.7,1452.2 C1236.7,1452.2 1238.7,1452.2 1240.7,1452.2 C1242.7,1452.2 1244.7,1452.2 1246.7,1452.2 C1248.7,1452.2 1250.7,1452.2 1252.7,1452.2 C1254.7,1452.2 1256.7,1452.2 1258.7,1452.2 C1260.7,1452.2 1262.7,1452.2 1264.7,1452.2 C1266.7,1452.2 1268.7,1452.2 1270.7,1452.2 C1272.7,1452.2 1274.7,1452.2 1276.7,1452.2 C1278.7,1452.2 1280.7,1452.2 1282.7,1452.2 C1284.7,1452.2 1286.7,1452.2 1288.7,1452.2 C1290.7,1452.2 1292.7,1452.1 1294.7,1452.1 C1296.7,1452.1 1298.7,1452.1 1300.7,1452.1 C1302.7,1452.1 1304.7,1452.1 1306.7,1452.1 C1308.7,1452.1 1310.7,1452.1 1312.7,1452.1 C1314.7,1452.1 1316.7,1452.1 1318.7,1452.1 C1320.7,1452.1 1322.7,1452.1 1324.7,1452.1 C1326.7,1452.1 1328.7,1452.1 1330.7,1452.1 C1332.7,1452.1 1334.7,1452.1 1336.7,1452.1 C1338.7,1452.1 1340.7,1452.1 1342.7,1452.1 C1344.7,1452.0 1346.7,1452.0 1348.7,1452.0 C1350.7,1452.0 1353.7,1452.0 1354.7,1452.0" fill="none" stroke="#000080" stroke-width="2.2"/>
<path d="M148.7,1472.0 C149.7,1472.0 152.7,1471.9 154.7,1471.8 C156.7,1471.8 158.7,1471.7 160.7,1471.7 C162.7,1471.7 164.7,1471.6 166.7,1471.6 C168.7,1471.5 170.7,1471.5 172.7,1471.4 C174.7,1471.4 176.7,1471.3 178.7,1471.3 C180.7,1471.2 182.7,1471.2 184.7,1471.1 C186.7,1471.1 188.7,1471.0 190.7,1470.9 C192.7,1470.9 194.7,1470.8 196.7,1470.8 C198.7,1470.7 200.7,1470.7 202.7,1470.6 C204.7,1470.6 206.7,1470.5 208.7,1470.5 C210.7,1470.4 212.7,1470.4 214.7,1470.3 C216.7,1470.2 218.7,1470.2 220.7,1470.1 C222.7,1470.1 224.7,1470.0 226.7,1469.9 C228.7,1469.9 230.7,1469.8 232.7,1469.8 C234.7,1469.7 236.7,1469.6 238.7,1469.6 C240.7,1469.5 242.7,1469.5 244.7,1469.4 C246.7,1469.3 248.7,1469.3 250.7,1469.2 C252.7,1469.1 254.7,1469.1 256.7,1469.0 C258.7,1469.0 260.7,1468.9 262.7,1468.8 C264.7,1468.8 266.7,1468.7 268.7,1468.6 C270.7,1468.6 272.7,1468.5 274.7,1468.4 C276.7,1468.3 278.7,1468.3 280.7,1468.2 C282.7,1468.1 284.7,1468.1 286.7,1468.0 C288.7,1467.9 290.7,1467.8 292.7,1467.8 C294.7,1467.7 296.7,1467.6 298.7,1467.5 C300.7,1467.5 302.7,1467.4 304.7,1467.3 C306.7,1467.2 308.7,1467.2 310.7,1467.1 C312.7,1467.0 314.7,1466.9 316.7,1466.8 C318.7,1466.8 320.7,1466.7 322.7,1466.6 C324.7,1466.5 326.7,1466.4 328.7,1466.4 C330.7,1466.3 332.7,1466.2 334.7,1466.1 C336.7,1466.0 338.7,1465.9 340.7,1465.8 C342.7,1465.7 344.7,1465.7 346.7,1465.6 C348.7,1465.5 350.7,1465.4 352.7,1465.3 C354.7,1465.2 356.7,1465.1 358.7,1465.0 C360.7,1464.9 362.7,1464.8 364.7,1464.7 C366.7,1464.6 368.7,1464.5 370.7,1464.4 C372.7,1464.3 374.7,1464.2 376.7,1464.1 C378.7,1464.0 380.7,1463.9 382.7,1463.8 C384.7,1463.7 386.7,1463.6 388.7,1463.5 C390.7,1463.4 392.7,1463.3 394.7,1463.1 C396.7,1463.0 398.7,1462.9 400.7,1462.8 C402.7,1462.7 404.7,1462.6 406.7,1462.4 C408.7,1462.3 410.7,1462.2 412.7,1462.1 C414.7,1461.9 416.7,1461.8 418.7,1461.7 C420.7,1461.6 422.7,1461.4 424.7,1461.3 C426.7,1461.2 428.7,1461.0 430.7,1460.9 C432.7,1460.8 434.7,1460.6 436.7,1460.5 C438.7,1460.3 440.7,1460.2 442.7,1460.0 C444.7,1459.9 446.7,1459.7 448.7,1459.6 C450.7,1459.4 452.7,1459.3 454.7,1459.1 C456.7,1459.0 458.7,1458.8 460.7,1458.6 C462.7,1458.5 464.7,1458.3 466.7,1458.1 C468.7,1458.0 470.7,1457.8 472.7,1457.6 C474.7,1457.4 476.7,1457.2 478.7,1457.1 C480.7,1456.9 482.7,1456.7 484.7,1456.5 C486.7,1456.3 488.7,1456.1 490.7,1455.9 C492.7,1455.7 494.7,1455.5 496.7,1455.3 C498.7,1455.0 500.7,1454.8 502.7,1454.6 C504.7,1454.4 506.7,1454.2 508.7,1453.9 C510.7,1453.7 512.7,1453.4 514.7,1453.2 C516.7,1453.0 518.7,1452.7 520.7,1452.4 C522.7,1452.2 524.7,1451.9 526.7,1451.6 C528.7,1451.4 530.7,1451.1 532.7,1450.8 C534.7,1450.5 536.7,1450.2 538.7,1449.9 C540.7,1449.6 542.7,1449.3 544.7,1449.0 C546.7,1448.7 548.7,1448.3 550.7,1448.0 C552.7,1447.6 554.7,1447.3 556.7,1446.9 C558.7,1446.6 560.7,1446.2 562.7,1445.8 C564.7,1445.4 566.7,1445.0 568.7,1444.6 C570.7,1444.2 572.7,1443.8 574.7,1443.3 C576.7,1442.9 578.7,1442.5 580.7,1442.0 C582.7,1441.5 584.7,1441.0 586.7,1440.5 C588.7,1440.0 590.7,1439.5 592.7,1438.9 C594.7,1438.4 596.7,1437.8 598.7,1437.2 C600.7,1436.7 602.7,1436.1 604.7,1435.4 C606.7,1434.8 608.7,1434.1 610.7,1433.4 C612.7,1432.7 614.7,1432.0 616.7,1431.3 C618.7,1430.5 620.7,1429.7 622.7,1428.9 C624.7,1428.1 626.7,1427.3 628.7,1426.4 C630.7,1425.5 632.7,1424.6 634.7,1423.6 C636.7,1422.6 638.7,1421.6 640.7,1420.5 C642.7,1419.4 644.7,1418.3 646.7,1417.2 C648.7,1416.0 650.7,1414.8 652.7,1413.5 C654.7,1412.2 656.7,1410.9 658.7,1409.5 C660.7,1408.0 662.7,1406.6 664.7,1405.0 C666.7,1403.5 668.7,1401.9 670.7,1400.1 C672.7,1398.4 674.7,1396.7 676.7,1394.8 C678.7,1392.9 680.7,1391.0 682.7,1388.9 C684.7,1386.9 686.7,1384.8 688.7,1382.5 C690.7,1380.3 692.7,1377.9 694.7,1375.5 C696.7,1373.0 698.7,1370.5 700.7,1367.8 C702.7,1365.2 704.7,1362.4 706.7,1359.5 C708.7,1356.6 710.7,1353.6 712.7,1350.4 C714.7,1347.3 716.7,1344.0 718.7,1340.6 C720.7,1337.3 722.7,1333.8 724.7,1330.1 C726.7,1326.5 728.7,1322.8 730.7,1318.9 C732.7,1315.1 734.7,1311.1 736.7,1307.1 C738.7,1303.0 740.7,1298.8 742.7,1294.6 C744.7,1290.4 746.7,1286.1 748.7,1281.7 C750.7,1277.4 752.7,1273.0 754.7,1268.6 C756.7,1264.3 758.7,1259.9 760.7,1255.6 C762.7,1251.3 764.7,1247.0 766.7,1243.0 C768.7,1238.9 770.7,1234.9 772.7,1231.2 C774.7,1227.4 776.7,1223.9 778.7,1220.7 C780.7,1217.5 782.7,1214.5 784.7,1212.0 C786.7,1209.4 788.7,1207.2 790.7,1205.5 C792.7,1203.8 794.7,1202.5 796.7,1201.7 C798.7,1200.9 800.7,1200.6 802.7,1200.8 C804.7,1201.0 806.7,1201.6 808.7,1202.7 C810.7,1203.8 812.7,1205.4 814.7,1207.3 C816.7,1209.3 818.7,1211.7 820.7,1214.4 C822.7,1217.0 824.7,1220.1 826.7,1223.4 C828.7,1226.7 830.7,1230.3 832.7,1234.0 C834.7,1237.7 836.7,1241.7 838.7,1245.7 C840.7,1249.8 842.7,1253.9 844.7,1258.1 C846.7,1262.3 848.7,1266.6 850.7,1270.8 C852.7,1275.0 854.7,1279.3 856.7,1283.4 C858.7,1287.6 860.7,1291.7 862.7,1295.8 C864.7,1299.8 866.7,1303.8 868.7,1307.7 C870.7,1311.6 872.7,1315.4 874.7,1319.0 C876.7,1322.7 878.7,1326.3 880.7,1329.7 C882.7,1333.2 884.7,1336.5 886.7,1339.7 C888.7,1342.9 890.7,1346.0 892.7,1349.0 C894.7,1352.0 896.7,1354.9 898.7,1357.6 C900.7,1360.4 902.7,1363.0 904.7,1365.6 C906.7,1368.1 908.7,1370.5 910.7,1372.8 C912.7,1375.2 914.7,1377.4 916.7,1379.5 C918.7,1381.6 920.7,1383.6 922.7,1385.6 C924.7,1387.5 926.7,1389.4 928.7,1391.1 C930.7,1392.9 932.7,1394.6 934.7,1396.2 C936.7,1397.8 938.7,1399.3 940.7,1400.8 C942.7,1402.2 944.7,1403.6 946.7,1404.9 C948.7,1406.3 950.7,1407.5 952.7,1408.7 C954.7,1409.9 956.7,1411.1 958.7,1412.2 C960.7,1413.3 962.7,1414.3 964.7,1415.3 C966.7,1416.3 968.7,1417.2 970.7,1418.1 C972.7,1419.0 974.7,1419.9 976.7,1420.7 C978.7,1421.5 980.7,1422.3 982.7,1423.0 C984.7,1423.8 986.7,1424.5 988.7,1425.2 C990.7,1425.9 992.7,1426.5 994.7,1427.1 C996.7,1427.7 998.7,1428.3 1000.7,1428.9 C1002.7,1429.5 1004.7,1430.0 1006.7,1430.5 C1008.7,1431.1 1010.7,1431.6 1012.7,1432.0 C1014.7,1432.5 1016.7,1433.0 1018.7,1433.4 C1020.7,1433.8 1022.7,1434.3 1024.7,1434.7 C1026.7,1435.1 1028.7,1435.5 1030.7,1435.8 C1032.7,1436.2 1034.7,1436.6 1036.7,1436.9 C1038.7,1437.2 1040.7,1437.6 1042.7,1437.9 C1044.7,1438.2 1046.7,1438.5 1048.7,1438.8 C1050.7,1439.1 1052.7,1439.4 1054.7,1439.7 C1056.7,1439.9 1058.7,1440.2 1060.7,1440.5 C1062.7,1440.7 1064.7,1440.9 1066.7,1441.2 C1068.7,1441.4 1070.7,1441.6 1072.7,1441.9 C1074.7,1442.1 1076.7,1442.3 1078.7,1442.5 C1080.7,1442.7 1082.7,1442.9 1084.7,1443.1 C1086.7,1443.3 1088.7,1443.4 1090.7,1443.6 C1092.7,1443.8 1094.7,1444.0 1096.7,1444.1 C1098.7,1444.3 1100.7,1444.4 1102.7,1444.6 C1104.7,1444.8 1106.7,1444.9 1108.7,1445.0 C1110.7,1445.2 1112.7,1445.3 1114.7,1445.4 C1116.7,1445.6 1118.7,1445.7 1120.7,1445.8 C1122.7,1445.9 1124.7,1446.1 1126.7,1446.2 C1128.7,1446.3 1130.7,1446.4 1132.7,1446.5 C1134.7,1446.6 1136.7,1446.7 1138.7,1446.8 C1140.7,1446.9 1142.7,1447.0 1144.7,1447.1 C1146.7,1447.2 1148.7,1447.2 1150.7,1447.3 C1152.7,1447.4 1154.7,1447.5 1156.7,1447.6 C1158.7,1447.6 1160.7,1447.7 1162.7,1447.8 C1164.7,1447.8 1166.7,1447.9 1168.7,1448.0 C1170.7,1448.0 1172.7,1448.1 1174.7,1448.2 C1176.7,1448.2 1178.7,1448.3 1180.7,1448.3 C1182.7,1448.4 1184.7,1448.4 1186.7,1448.5 C1188.7,1448.5 1190.7,1448.6 1192.7,1448.6 C1194.7,1448.6 1196.7,1448.7 1198.7,1448.7 C1200.7,1448.8 1202.7,1448.8 1204.7,1448.8 C1206.7,1448.9 1208.7,1448.9 1210.7,1448.9 C1212.7,1449.0 1214.7,1449.0 1216.7,1449.0 C1218.7,1449.0 1220.7,1449.0 1222.7,1449.1 C1224.7,1449.1 1226.7,1449.1 1228.7,1449.1 C1230.7,1449.1 1232.7,1449.2 1234.7,1449.2 C1236.7,1449.2 1238.7,1449.2 1240.7,1449.2 C1242.7,1449.2 1244.7,1449.2 1246.7,1449.2 C1248.7,1449.2 1250.7,1449.2 1252.7,1449.2 C1254.7,1449.2 1256.7,1449.2 1258.7,1449.2 C1260.7,1449.2 1262.7,1449.2 1264.7,1449.2 C1266.7,1449.2 1268.7,1449.2 1270.7,1449.2 C1272.7,1449.2 1274.7,1449.2 1276.7,1449.2 C1278.7,1449.2 1280.7,1449.2 1282.7,1449.2 C1284.7,1449.2 1286.7,1449.1 1288.7,1449.1 C1290.7,1449.1 1292.7,1449.1 1294.7,1449.1 C1296.7,1449.1 1298.7,1449.0 1300.7,1449.0 C1302.7,1449.0 1304.7,1449.0 1306.7,1448.9 C1308.7,1448.9 1310.7,1448.9 1312.7,1448.9 C1314.7,1448.8 1316.7,1448.8 1318.7,1448.8 C1320.7,1448.8 1322.7,1448.7 1324.7,1448.7 C1326.7,1448.7 1328.7,1448.6 1330.7,1448.6 C1332.7,1448.6 1334.7,1448.5 1336.7,1448.5 C1338.7,1448.5 1340.7,1448.4 1342.7,1448.4 C1344.7,1448.4 1346.7,1448.3 1348.7,1448.3 C1350.7,1448.2 1353.7,1448.2 1354.7,1448.2" fill="none" stroke="#800080" stroke-width="2.2"/>
<path d="M148.7,1474.5 C149.7,1474.4 152.7,1474.3 154.7,1474.2 C156.7,1474.2 158.7,1474.1 160.7,1474.0 C162.7,1473.9 164.7,1473.8 166.7,1473.7 C168.7,1473.7 170.7,1473.6 172.7,1473.5 C174.7,1473.4 176.7,1473.4 178.7,1473.3 C180.7,1473.2 182.7,1473.1 184.7,1473.0 C186.7,1473.0 188.7,1472.9 190.7,1472.8 C192.7,1472.7 194.7,1472.7 196.7,1472.6 C198.7,1472.5 200.7,1472.4 202.7,1472.4 C204.7,1472.3 206.7,1472.2 208.7,1472.1 C210.7,1472.1 212.7,1472.0 214.7,1471.9 C216.7,1471.8 218.7,1471.8 220.7,1471.7 C222.7,1471.6 224.7,1471.6 226.7,1471.5 C228.7,1471.4 230.7,1471.3 232.7,1471.3 C234.7,1471.2 236.7,1471.1 238.7,1471.1 C240.7,1471.0 242.7,1470.9 244.7,1470.9 C246.7,1470.8 248.7,1470.7 250.7,1470.7 C252.7,1470.6 254.7,1470.5 256.7,1470.5 C258.7,1470.4 260.7,1470.3 262.7,1470.3 C264.7,1470.2 266.7,1470.1 268.7,1470.1 C270.7,1470.0 272.7,1469.9 274.7,1469.9 C276.7,1469.8 278.7,1469.7 280.7,1469.7 C282.7,1469.6 284.7,1469.5 286.7,1469.5 C288.7,1469.4 290.7,1469.3 292.7,1469.3 C294.7,1469.2 296.7,1469.2 298.7,1469.1 C300.7,1469.0 302.7,1469.0 304.7,1468.9 C306.7,1468.9 308.7,1468.8 310.7,1468.7 C312.7,1468.7 314.7,1468.6 316.7,1468.5 C318.7,1468.5 320.7,1468.4 322.7,1468.4 C324.7,1468.3 326.7,1468.2 328.7,1468.2 C330.7,1468.1 332.7,1468.1 334.7,1468.0 C336.7,1467.9 338.7,1467.9 340.7,1467.8 C342.7,1467.8 344.7,1467.7 346.7,1467.7 C348.7,1467.6 350.7,1467.5 352.7,1467.5 C354.7,1467.4 356.7,1467.4 358.7,1467.3 C360.7,1467.3 362.7,1467.2 364.7,1467.1 C366.7,1467.1 368.7,1467.0 370.7,1467.0 C372.7,1466.9 374.7,1466.9 376.7,1466.8 C378.7,1466.7 380.7,1466.7 382.7,1466.6 C384.7,1466.6 386.7,1466.5 388.7,1466.5 C390.7,1466.4 392.7,1466.4 394.7,1466.3 C396.7,1466.2 398.7,1466.2 400.7,1466.1 C402.7,1466.1 404.7,1466.0 406.7,1466.0 C408.7,1465.9 410.7,1465.9 412.7,1465.8 C414.7,1465.7 416.7,1465.7 418.7,1465.6 C420.7,1465.6 422.7,1465.5 424.7,1465.5 C426.7,1465.4 428.7,1465.4 430.7,1465.3 C432.7,1465.3 434.7,1465.2 436.7,1465.1 C438.7,1465.1 440.7,1465.0 442.7,1465.0 C444.7,1464.9 446.7,1464.9 448.7,1464.8 C450.7,1464.8 452.7,1464.7 454.7,1464.7 C456.7,1464.6 458.7,1464.5 460.7,1464.5 C462.7,1464.4 464.7,1464.4 466.7,1464.3 C468.7,1464.3 470.7,1464.2 472.7,1464.2 C474.7,1464.1 476.7,1464.1 478.7,1464.0 C480.7,1463.9 482.7,1463.9 484.7,1463.8 C486.7,1463.8 488.7,1463.7 490.7,1463.7 C492.7,1463.6 494.7,1463.5 496.7,1463.5 C498.7,1463.4 500.7,1463.4 502.7,1463.3 C504.7,1463.3 506.7,1463.2 508.7,1463.1 C510.7,1463.1 512.7,1463.0 514.7,1463.0 C516.7,1462.9 518.7,1462.9 520.7,1462.8 C522.7,1462.7 524.7,1462.7 526.7,1462.6 C528.7,1462.6 530.7,1462.5 532.7,1462.4 C534.7,1462.4 536.7,1462.3 538.7,1462.3 C540.7,1462.2 542.7,1462.1 544.7,1462.1 C546.7,1462.0 548.7,1461.9 550.7,1461.9 C552.7,1461.8 554.7,1461.8 556.7,1461.7 C558.7,1461.6 560.7,1461.6 562.7,1461.5 C564.7,1461.4 566.7,1461.4 568.7,1461.3 C570.7,1461.2 572.7,1461.2 574.7,1461.1 C576.7,1461.0 578.7,1461.0 580.7,1460.9 C582.7,1460.8 584.7,1460.7 586.7,1460.7 C588.7,1460.6 590.7,1460.5 592.7,1460.5 C594.7,1460.4 596.7,1460.3 598.7,1460.2 C600.7,1460.1 602.7,1460.1 604.7,1460.0 C606.7,1459.9 608.7,1459.8 610.7,1459.8 C612.7,1459.7 614.7,1459.6 616.7,1459.5 C618.7,1459.4 620.7,1459.3 622.7,1459.2 C624.7,1459.2 626.7,1459.1 628.7,1459.0 C630.7,1458.9 632.7,1458.8 634.7,1458.7 C636.7,1458.6 638.7,1458.5 640.7,1458.4 C642.7,1458.3 644.7,1458.2 646.7,1458.1 C648.7,1458.0 650.7,1457.9 652.7,1457.8 C654.7,1457.7 656.7,1457.6 658.7,1457.5 C660.7,1457.4 662.7,1457.3 664.7,1457.1 C666.7,1457.0 668.7,1456.9 670.7,1456.8 C672.7,1456.7 674.7,1456.5 676.7,1456.4 C678.7,1456.3 680.7,1456.1 682.7,1456.0 C684.7,1455.9 686.7,1455.7 688.7,1455.6 C690.7,1455.4 692.7,1455.3 694.7,1455.1 C696.7,1455.0 698.7,1454.8 700.7,1454.7 C702.7,1454.5 704.7,1454.3 706.7,1454.1 C708.7,1454.0 710.7,1453.8 712.7,1453.6 C714.7,1453.4 716.7,1453.2 718.7,1453.0 C720.7,1452.8 722.7,1452.6 724.7,1452.4 C726.7,1452.2 728.7,1451.9 730.7,1451.7 C732.7,1451.5 734.7,1451.2 736.7,1451.0 C738.7,1450.7 740.7,1450.4 742.7,1450.1 C744.7,1449.9 746.7,1449.6 748.7,1449.2 C750.7,1448.9 752.7,1448.6 754.7,1448.3 C756.7,1447.9 758.7,1447.5 760.7,1447.2 C762.7,1446.8 764.7,1446.4 766.7,1445.9 C768.7,1445.5 770.7,1445.0 772.7,1444.6 C774.7,1444.1 776.7,1443.6 778.7,1443.0 C780.7,1442.5 782.7,1441.9 784.7,1441.3 C786.7,1440.7 788.7,1440.0 790.7,1439.3 C792.7,1438.6 794.7,1437.9 796.7,1437.1 C798.7,1436.3 800.7,1435.4 802.7,1434.5 C804.7,1433.6 806.7,1432.7 808.7,1431.7 C810.7,1430.7 812.7,1429.6 814.7,1428.5 C816.7,1427.3 818.7,1426.1 820.7,1424.8 C822.7,1423.6 824.7,1422.2 826.7,1420.8 C828.7,1419.3 830.7,1417.8 832.7,1416.2 C834.7,1414.7 836.7,1413.0 838.7,1411.2 C840.7,1409.5 842.7,1407.6 844.7,1405.7 C846.7,1403.8 848.7,1401.7 850.7,1399.6 C852.7,1397.5 854.7,1395.3 856.7,1393.1 C858.7,1390.8 860.7,1388.5 862.7,1386.1 C864.7,1383.7 866.7,1381.2 868.7,1378.7 C870.7,1376.2 872.7,1373.7 874.7,1371.1 C876.7,1368.6 878.7,1366.0 880.7,1363.5 C882.7,1361.0 884.7,1358.5 886.7,1356.1 C888.7,1353.8 890.7,1351.5 892.7,1349.4 C894.7,1347.3 896.7,1345.3 898.7,1343.6 C900.7,1341.9 902.7,1340.4 904.7,1339.2 C906.7,1338.0 908.7,1337.1 910.7,1336.6 C912.7,1336.0 914.7,1335.8 916.7,1335.9 C918.7,1336.0 920.7,1336.4 922.7,1337.1 C924.7,1337.8 926.7,1338.8 928.7,1340.0 C930.7,1341.2 932.7,1342.6 934.7,1344.3 C936.7,1345.9 938.7,1347.8 940.7,1349.8 C942.7,1351.7 944.7,1353.9 946.7,1356.0 C948.7,1358.2 950.7,1360.5 952.7,1362.8 C954.7,1365.1 956.7,1367.5 958.7,1369.8 C960.7,1372.1 962.7,1374.5 964.7,1376.8 C966.7,1379.1 968.7,1381.4 970.7,1383.6 C972.7,1385.8 974.7,1387.9 976.7,1390.0 C978.7,1392.1 980.7,1394.2 982.7,1396.1 C984.7,1398.1 986.7,1400.0 988.7,1401.8 C990.7,1403.6 992.7,1405.3 994.7,1407.0 C996.7,1408.7 998.7,1410.2 1000.7,1411.8 C1002.7,1413.3 1004.7,1414.7 1006.7,1416.1 C1008.7,1417.4 1010.7,1418.7 1012.7,1420.0 C1014.7,1421.2 1016.7,1422.3 1018.7,1423.4 C1020.7,1424.5 1022.7,1425.6 1024.7,1426.5 C1026.7,1427.5 1028.7,1428.4 1030.7,1429.3 C1032.7,1430.2 1034.7,1431.0 1036.7,1431.8 C1038.7,1432.5 1040.7,1433.2 1042.7,1433.9 C1044.7,1434.6 1046.7,1435.2 1048.7,1435.8 C1050.7,1436.4 1052.7,1437.0 1054.7,1437.5 C1056.7,1438.0 1058.7,1438.5 1060.7,1439.0 C1062.7,1439.5 1064.7,1439.9 1066.7,1440.3 C1068.7,1440.7 1070.7,1441.1 1072.7,1441.4 C1074.7,1441.8 1076.7,1442.1 1078.7,1442.5 C1080.7,1442.8 1082.7,1443.1 1084.7,1443.3 C1086.7,1443.6 1088.7,1443.9 1090.7,1444.1 C1092.7,1444.4 1094.7,1444.6 1096.7,1444.8 C1098.7,1445.1 1100.7,1445.3 1102.7,1445.5 C1104.7,1445.7 1106.7,1445.9 1108.7,1446.0 C1110.7,1446.2 1112.7,1446.4 1114.7,1446.5 C1116.7,1446.7 1118.7,1446.8 1120.7,1447.0 C1122.7,1447.1 1124.7,1447.3 1126.7,1447.4 C1128.7,1447.5 1130.7,1447.6 1132.7,1447.8 C1134.7,1447.9 1136.7,1448.0 1138.7,1448.1 C1140.7,1448.2 1142.7,1448.3 1144.7,1448.4 C1146.7,1448.5 1148.7,1448.6 1150.7,1448.7 C1152.7,1448.7 1154.7,1448.8 1156.7,1448.9 C1158.7,1449.0 1160.7,1449.1 1162.7,1449.1 C1164.7,1449.2 1166.7,1449.3 1168.7,1449.3 C1170.7,1449.4 1172.7,1449.4 1174.7,1449.5 C1176.7,1449.6 1178.7,1449.6 1180.7,1449.7 C1182.7,1449.7 1184.7,1449.8 1186.7,1449.8 C1188.7,1449.9 1190.7,1449.9 1192.7,1449.9 C1194.7,1450.0 1196.7,1450.0 1198.7,1450.0 C1200.7,1450.1 1202.7,1450.1 1204.7,1450.1 C1206.7,1450.2 1208.7,1450.2 1210.7,1450.2 C1212.7,1450.3 1214.7,1450.3 1216.7,1450.3 C1218.7,1450.3 1220.7,1450.4 1222.7,1450.4 C1224.7,1450.4 1226.7,1450.4 1228.7,1450.4 C1230.7,1450.5 1232.7,1450.5 1234.7,1450.5 C1236.7,1450.5 1238.7,1450.5 1240.7,1450.5 C1242.7,1450.5 1244.7,1450.5 1246.7,1450.5 C1248.7,1450.6 1250.7,1450.6 1252.7,1450.6 C1254.7,1450.6 1256.7,1450.6 1258.7,1450.6 C1260.7,1450.6 1262.7,1450.6 1264.7,1450.6 C1266.7,1450.6 1268.7,1450.6 1270.7,1450.6 C1272.7,1450.6 1274.7,1450.6 1276.7,1450.6 C1278.7,1450.6 1280.7,1450.6 1282.7,1450.6 C1284.7,1450.6 1286.7,1450.6 1288.7,1450.6 C1290.7,1450.6 1292.7,1450.5 1294.7,1450.5 C1296.7,1450.5 1298.7,1450.5 1300.7,1450.5 C1302.7,1450.5 1304.7,1450.5 1306.7,1450.5 C1308.7,1450.5 1310.7,1450.5 1312.7,1450.4 C1314.7,1450.4 1316.7,1450.4 1318.7,1450.4 C1320.7,1450.4 1322.7,1450.4 1324.7,1450.4 C1326.7,1450.4 1328.7,1450.3 1330.7,1450.3 C1332.7,1450.3 1334.7,1450.3 1336.7,1450.3 C1338.7,1450.3 1340.7,1450.2 1342.7,1450.2 C1344.7,1450.2 1346.7,1450.2 1348.7,1450.2 C1350.7,1450.1 1353.7,1450.1 1354.7,1450.1" fill="none" stroke="#800080" stroke-width="2.2"/>
<path d="M148.7,1477.0 C149.7,1476.9 152.7,1476.8 154.7,1476.7 C156.7,1476.6 158.7,1476.5 160.7,1476.4 C162.7,1476.3 164.7,1476.2 166.7,1476.1 C168.7,1476.0 170.7,1476.0 172.7,1475.9 C174.7,1475.8 176.7,1475.7 178.7,1475.6 C180.7,1475.5 182.7,1475.4 184.7,1475.3 C186.7,1475.3 188.7,1475.2 190.7,1475.1 C192.7,1475.0 194.7,1474.9 196.7,1474.8 C198.7,1474.8 200.7,1474.7 202.7,1474.6 C204.7,1474.5 206.7,1474.4 208.7,1474.4 C210.7,1474.3 212.7,1474.2 214.7,1474.1 C216.7,1474.1 218.7,1474.0 220.7,1473.9 C222.7,1473.8 224.7,1473.8 226.7,1473.7 C228.7,1473.6 230.7,1473.5 232.7,1473.5 C234.7,1473.4 236.7,1473.3 238.7,1473.2 C240.7,1473.2 242.7,1473.1 244.7,1473.0 C246.7,1473.0 248.7,1472.9 250.7,1472.8 C252.7,1472.8 254.7,1472.7 256.7,1472.6 C258.7,1472.6 260.7,1472.5 262.7,1472.4 C264.7,1472.4 266.7,1472.3 268.7,1472.2 C270.7,1472.2 272.7,1472.1 274.7,1472.0 C276.7,1472.0 278.7,1471.9 280.7,1471.9 C282.7,1471.8 284.7,1471.7 286.7,1471.7 C288.7,1471.6 290.7,1471.6 292.7,1471.5 C294.7,1471.4 296.7,1471.4 298.7,1471.3 C300.7,1471.3 302.7,1471.2 304.7,1471.2 C306.7,1471.1 308.7,1471.0 310.7,1471.0 C312.7,1470.9 314.7,1470.9 316.7,1470.8 C318.7,1470.8 320.7,1470.7 322.7,1470.7 C324.7,1470.6 326.7,1470.5 328.7,1470.5 C330.7,1470.4 332.7,1470.4 334.7,1470.3 C336.7,1470.3 338.7,1470.2 340.7,1470.2 C342.7,1470.1 344.7,1470.1 346.7,1470.0 C348.7,1470.0 350.7,1469.9 352.7,1469.9 C354.7,1469.8 356.7,1469.8 358.7,1469.7 C360.7,1469.7 362.7,1469.6 364.7,1469.6 C366.7,1469.6 368.7,1469.5 370.7,1469.5 C372.7,1469.4 374.7,1469.4 376.7,1469.3 C378.7,1469.3 380.7,1469.2 382.7,1469.2 C384.7,1469.1 386.7,1469.1 388.7,1469.0 C390.7,1469.0 392.7,1469.0 394.7,1468.9 C396.7,1468.9 398.7,1468.8 400.7,1468.8 C402.7,1468.7 404.7,1468.7 406.7,1468.7 C408.7,1468.6 410.7,1468.6 412.7,1468.5 C414.7,1468.5 416.7,1468.5 418.7,1468.4 C420.7,1468.4 422.7,1468.3 424.7,1468.3 C426.7,1468.3 428.7,1468.2 430.7,1468.2 C432.7,1468.1 434.7,1468.1 436.7,1468.1 C438.7,1468.0 440.7,1468.0 442.7,1467.9 C444.7,1467.9 446.7,1467.9 448.7,1467.8 C450.7,1467.8 452.7,1467.7 454.7,1467.7 C456.7,1467.7 458.7,1467.6 460.7,1467.6 C462.7,1467.6 464.7,1467.5 466.7,1467.5 C468.7,1467.4 470.7,1467.4 472.7,1467.4 C474.7,1467.3 476.7,1467.3 478.7,1467.3 C480.7,1467.2 482.7,1467.2 484.7,1467.2 C486.7,1467.1 488.7,1467.1 490.7,1467.1 C492.7,1467.0 494.7,1467.0 496.7,1466.9 C498.7,1466.9 500.7,1466.9 502.7,1466.8 C504.7,1466.8 506.7,1466.8 508.7,1466.7 C510.7,1466.7 512.7,1466.7 514.7,1466.6 C516.7,1466.6 518.7,1466.6 520.7,1466.5 C522.7,1466.5 524.7,1466.5 526.7,1466.4 C528.7,1466.4 530.7,1466.4 532.7,1466.3 C534.7,1466.3 536.7,1466.3 538.7,1466.2 C540.7,1466.2 542.7,1466.2 544.7,1466.1 C546.7,1466.1 548.7,1466.1 550.7,1466.0 C552.7,1466.0 554.7,1466.0 556.7,1465.9 C558.7,1465.9 560.7,1465.9 562.7,1465.8 C564.7,1465.8 566.7,1465.8 568.7,1465.7 C570.7,1465.7 572.7,1465.7 574.7,1465.6 C576.7,1465.6 578.7,1465.6 580.7,1465.5 C582.7,1465.5 584.7,1465.5 586.7,1465.4 C588.7,1465.4 590.7,1465.4 592.7,1465.3 C594.7,1465.3 596.7,1465.3 598.7,1465.2 C600.7,1465.2 602.7,1465.2 604.7,1465.1 C606.7,1465.1 608.7,1465.1 610.7,1465.0 C612.7,1465.0 614.7,1465.0 616.7,1464.9 C618.7,1464.9 620.7,1464.9 622.7,1464.8 C624.7,1464.8 626.7,1464.8 628.7,1464.7 C630.7,1464.7 632.7,1464.7 634.7,1464.6 C636.7,1464.6 638.7,1464.6 640.7,1464.5 C642.7,1464.5 644.7,1464.5 646.7,1464.4 C648.7,1464.4 650.7,1464.4 652.7,1464.3 C654.7,1464.3 656.7,1464.3 658.7,1464.2 C660.7,1464.2 662.7,1464.2 664.7,1464.1 C666.7,1464.1 668.7,1464.1 670.7,1464.0 C672.7,1464.0 674.7,1464.0 676.7,1463.9 C678.7,1463.9 680.7,1463.9 682.7,1463.8 C684.7,1463.8 686.7,1463.7 688.7,1463.7 C690.7,1463.7 692.7,1463.6 694.7,1463.6 C696.7,1463.6 698.7,1463.5 700.7,1463.5 C702.7,1463.5 704.7,1463.4 706.7,1463.4 C708.7,1463.3 710.7,1463.3 712.7,1463.3 C714.7,1463.2 716.7,1463.2 718.7,1463.2 C720.7,1463.1 722.7,1463.1 724.7,1463.0 C726.7,1463.0 728.7,1463.0 730.7,1462.9 C732.7,1462.9 734.7,1462.8 736.7,1462.8 C738.7,1462.8 740.7,1462.7 742.7,1462.7 C744.7,1462.6 746.7,1462.6 748.7,1462.6 C750.7,1462.5 752.7,1462.5 754.7,1462.4 C756.7,1462.4 758.7,1462.3 760.7,1462.3 C762.7,1462.3 764.7,1462.2 766.7,1462.2 C768.7,1462.1 770.7,1462.1 772.7,1462.0 C774.7,1462.0 776.7,1461.9 778.7,1461.9 C780.7,1461.8 782.7,1461.8 784.7,1461.8 C786.7,1461.7 788.7,1461.7 790.7,1461.6 C792.7,1461.6 794.7,1461.5 796.7,1461.5 C798.7,1461.4 800.7,1461.4 802.7,1461.3 C804.7,1461.3 806.7,1461.2 808.7,1461.2 C810.7,1461.1 812.7,1461.1 814.7,1461.0 C816.7,1460.9 818.7,1460.9 820.7,1460.8 C822.7,1460.8 824.7,1460.7 826.7,1460.7 C828.7,1460.6 830.7,1460.5 832.7,1460.5 C834.7,1460.4 836.7,1460.4 838.7,1460.3 C840.7,1460.2 842.7,1460.2 844.7,1460.1 C846.7,1460.0 848.7,1460.0 850.7,1459.9 C852.7,1459.8 854.7,1459.8 856.7,1459.7 C858.7,1459.6 860.7,1459.5 862.7,1459.5 C864.7,1459.4 866.7,1459.3 868.7,1459.2 C870.7,1459.2 872.7,1459.1 874.7,1459.0 C876.7,1458.9 878.7,1458.8 880.7,1458.7 C882.7,1458.6 884.7,1458.5 886.7,1458.4 C888.7,1458.3 890.7,1458.2 892.7,1458.1 C894.7,1458.0 896.7,1457.9 898.7,1457.8 C900.7,1457.7 902.7,1457.5 904.7,1457.4 C906.7,1457.3 908.7,1457.1 910.7,1457.0 C912.7,1456.8 914.7,1456.7 916.7,1456.5 C918.7,1456.4 920.7,1456.2 922.7,1456.0 C924.7,1455.8 926.7,1455.6 928.7,1455.4 C930.7,1455.2 932.7,1455.0 934.7,1454.8 C936.7,1454.6 938.7,1454.3 940.7,1454.0 C942.7,1453.8 944.7,1453.5 946.7,1453.2 C948.7,1452.9 950.7,1452.6 952.7,1452.3 C954.7,1452.0 956.7,1451.6 958.7,1451.3 C960.7,1450.9 962.7,1450.5 964.7,1450.1 C966.7,1449.7 968.7,1449.2 970.7,1448.8 C972.7,1448.3 974.7,1447.9 976.7,1447.4 C978.7,1446.9 980.7,1446.3 982.7,1445.8 C984.7,1445.2 986.7,1444.7 988.7,1444.1 C990.7,1443.5 992.7,1442.9 994.7,1442.2 C996.7,1441.6 998.7,1440.9 1000.7,1440.3 C1002.7,1439.6 1004.7,1438.9 1006.7,1438.2 C1008.7,1437.5 1010.7,1436.8 1012.7,1436.0 C1014.7,1435.3 1016.7,1434.6 1018.7,1433.8 C1020.7,1433.1 1022.7,1432.3 1024.7,1431.6 C1026.7,1430.9 1028.7,1430.1 1030.7,1429.5 C1032.7,1428.8 1034.7,1428.1 1036.7,1427.4 C1038.7,1426.8 1040.7,1426.2 1042.7,1425.6 C1044.7,1425.1 1046.7,1424.6 1048.7,1424.1 C1050.7,1423.7 1052.7,1423.3 1054.7,1423.0 C1056.7,1422.8 1058.7,1422.5 1060.7,1422.4 C1062.7,1422.3 1064.7,1422.3 1066.7,1422.3 C1068.7,1422.4 1070.7,1422.6 1072.7,1423.0 C1074.7,1423.3 1076.7,1423.7 1078.7,1424.3 C1080.7,1424.8 1082.7,1425.4 1084.7,1426.1 C1086.7,1426.7 1088.7,1427.5 1090.7,1428.2 C1092.7,1429.0 1094.7,1429.8 1096.7,1430.6 C1098.7,1431.4 1100.7,1432.2 1102.7,1433.0 C1104.7,1433.8 1106.7,1434.7 1108.7,1435.4 C1110.7,1436.2 1112.7,1437.0 1114.7,1437.7 C1116.7,1438.5 1118.7,1439.2 1120.7,1439.9 C1122.7,1440.6 1124.7,1441.2 1126.7,1441.8 C1128.7,1442.5 1130.7,1443.1 1132.7,1443.6 C1134.7,1444.2 1136.7,1444.7 1138.7,1445.2 C1140.7,1445.6 1142.7,1446.1 1144.7,1446.5 C1146.7,1446.9 1148.7,1447.3 1150.7,1447.7 C1152.7,1448.0 1154.7,1448.3 1156.7,1448.6 C1158.7,1448.9 1160.7,1449.2 1162.7,1449.5 C1164.7,1449.7 1166.7,1449.9 1168.7,1450.1 C1170.7,1450.3 1172.7,1450.5 1174.7,1450.7 C1176.7,1450.9 1178.7,1451.0 1180.7,1451.1 C1182.7,1451.3 1184.7,1451.4 1186.7,1451.5 C1188.7,1451.6 1190.7,1451.7 1192.7,1451.8 C1194.7,1451.9 1196.7,1451.9 1198.7,1452.0 C1200.7,1452.1 1202.7,1452.1 1204.7,1452.2 C1206.7,1452.2 1208.7,1452.3 1210.7,1452.3 C1212.7,1452.4 1214.7,1452.4 1216.7,1452.4 C1218.7,1452.5 1220.7,1452.5 1222.7,1452.5 C1224.7,1452.5 1226.7,1452.5 1228.7,1452.6 C1230.7,1452.6 1232.7,1452.6 1234.7,1452.6 C1236.7,1452.6 1238.7,1452.6 1240.7,1452.6 C1242.7,1452.6 1244.7,1452.6 1246.7,1452.6 C1248.7,1452.6 1250.7,1452.6 1252.7,1452.6 C1254.7,1452.6 1256.7,1452.6 1258.7,1452.6 C1260.7,1452.6 1262.7,1452.6 1264.7,1452.6 C1266.7,1452.6 1268.7,1452.6 1270.7,1452.6 C1272.7,1452.6 1274.7,1452.6 1276.7,1452.6 C1278.7,1452.6 1280.7,1452.5 1282.7,1452.5 C1284.7,1452.5 1286.7,1452.5 1288.7,1452.5 C1290.7,1452.5 1292.7,1452.5 1294.7,1452.5 C1296.7,1452.5 1298.7,1452.4 1300.7,1452.4 C1302.7,1452.4 1304.7,1452.4 1306.7,1452.4 C1308.7,1452.4 1310.7,1452.4 1312.7,1452.4 C1314.7,1452.3 1316.7,1452.3 1318.7,1452.3 C1320.7,1452.3 1322.7,1452.3 1324.7,1452.3 C1326.7,1452.2 1328.7,1452.2 1330.7,1452.2 C1332.7,1452.2 1334.7,1452.2 1336.7,1452.2 C1338.7,1452.2 1340.7,1452.1 1342.7,1452.1 C1344.7,1452.1 1346.7,1452.1 1348.7,1452.1 C1350.7,1452.1 1353.7,1452.0 1354.7,1452.0" fill="none" stroke="#800080" stroke-width="2.2"/>
<path d="M148.7,1348.5 C149.7,1346.8 152.7,1341.7 154.7,1338.4 C156.7,1335.1 158.7,1332.0 160.7,1328.6 C162.7,1325.2 164.7,1321.8 166.7,1317.8 C168.7,1313.9 170.7,1309.7 172.7,1304.8 C174.7,1300.0 176.7,1294.8 178.7,1288.7 C180.7,1282.7 182.7,1276.0 184.7,1268.6 C186.7,1261.2 188.7,1252.9 190.7,1244.4 C192.7,1235.9 194.7,1226.6 196.7,1217.4 C198.7,1208.2 200.7,1198.5 202.7,1189.1 C204.7,1179.7 206.7,1170.2 208.7,1161.0 C210.7,1151.8 212.7,1143.0 214.7,1133.9 C216.7,1124.8 218.7,1116.0 220.7,1106.6 C222.7,1097.3 224.7,1087.9 226.7,1078.0 C228.7,1068.2 230.7,1058.0 232.7,1047.7 C234.7,1037.3 236.7,1026.6 238.7,1015.9 C240.7,1005.2 242.7,994.0 244.7,983.4 C246.7,972.8 248.7,961.9 250.7,952.3 C252.7,942.7 254.7,933.3 256.7,925.7 C258.7,918.2 260.7,911.6 262.7,907.0 C264.7,902.4 266.7,899.6 268.7,897.9 C270.7,896.2 272.7,896.2 274.7,896.8 C276.7,897.4 278.7,899.4 280.7,901.6 C282.7,903.8 284.7,906.9 286.7,910.0 C288.7,913.0 290.7,916.5 292.7,919.9 C294.7,923.2 296.7,926.7 298.7,930.0 C300.7,933.3 302.7,936.6 304.7,939.7 C306.7,942.8 308.7,945.9 310.7,948.6 C312.7,951.3 314.7,953.9 316.7,956.1 C318.7,958.3 320.7,960.2 322.7,961.9 C324.7,963.6 326.7,965.1 328.7,966.4 C330.7,967.7 332.7,968.8 334.7,969.8 C336.7,970.8 338.7,971.6 340.7,972.4 C342.7,973.2 344.7,973.9 346.7,974.6 C348.7,975.3 350.7,975.9 352.7,976.6 C354.7,977.3 356.7,978.0 358.7,978.8 C360.7,979.6 362.7,980.4 364.7,981.4 C366.7,982.4 368.7,983.5 370.7,984.8 C372.7,986.1 374.7,987.5 376.7,989.2 C378.7,990.9 380.7,992.8 382.7,995.0 C384.7,997.2 386.7,999.7 388.7,1002.5 C390.7,1005.2 392.7,1008.3 394.7,1011.6 C396.7,1014.8 398.7,1018.4 400.7,1022.1 C402.7,1025.7 404.7,1029.7 406.7,1033.7 C408.7,1037.7 410.7,1041.9 412.7,1046.2 C414.7,1050.5 416.7,1054.9 418.7,1059.3 C420.7,1063.8 422.7,1068.3 424.7,1072.8 C426.7,1077.4 428.7,1081.9 430.7,1086.5 C432.7,1091.0 434.7,1095.5 436.7,1100.0 C438.7,1104.4 440.7,1108.9 442.7,1113.1 C444.7,1117.4 446.7,1121.6 448.7,1125.6 C450.7,1129.7 452.7,1133.6 454.7,1137.3 C456.7,1140.9 458.7,1144.5 460.7,1147.7 C462.7,1151.0 464.7,1154.1 466.7,1156.9 C468.7,1159.7 470.7,1162.2 472.7,1164.6 C474.7,1167.0 476.7,1169.1 478.7,1171.1 C480.7,1173.0 482.7,1174.7 484.7,1176.3 C486.7,1177.8 488.7,1179.2 490.7,1180.3 C492.7,1181.5 494.7,1182.5 496.7,1183.3 C498.7,1184.2 500.7,1184.8 502.7,1185.4 C504.7,1185.9 506.7,1186.2 508.7,1186.5 C510.7,1186.7 512.7,1186.8 514.7,1186.7 C516.7,1186.7 518.7,1186.5 520.7,1186.2 C522.7,1185.9 524.7,1185.5 526.7,1185.0 C528.7,1184.5 530.7,1183.9 532.7,1183.2 C534.7,1182.6 536.7,1181.8 538.7,1180.9 C540.7,1180.1 542.7,1179.1 544.7,1178.1 C546.7,1177.1 548.7,1176.0 550.7,1174.9 C552.7,1173.7 554.7,1172.5 556.7,1171.2 C558.7,1169.8 560.7,1168.5 562.7,1167.0 C564.7,1165.6 566.7,1164.0 568.7,1162.5 C570.7,1160.9 572.7,1159.2 574.7,1157.5 C576.7,1155.8 578.7,1154.0 580.7,1152.2 C582.7,1150.3 584.7,1148.4 586.7,1146.4 C588.7,1144.5 590.7,1142.4 592.7,1140.4 C594.7,1138.3 596.7,1136.1 598.7,1133.9 C600.7,1131.7 602.7,1129.5 604.7,1127.2 C606.7,1124.9 608.7,1122.5 610.7,1120.1 C612.7,1117.7 614.7,1115.3 616.7,1112.8 C618.7,1110.3 620.7,1107.8 622.7,1105.3 C624.7,1102.8 626.7,1100.3 628.7,1097.9 C630.7,1095.4 632.7,1092.9 634.7,1090.6 C636.7,1088.2 638.7,1085.8 640.7,1083.6 C642.7,1081.3 644.7,1079.1 646.7,1077.1 C648.7,1075.0 650.7,1073.0 652.7,1071.2 C654.7,1069.3 656.7,1067.6 658.7,1066.1 C660.7,1064.5 662.7,1063.1 664.7,1061.9 C666.7,1060.7 668.7,1059.6 670.7,1058.8 C672.7,1058.0 674.7,1057.4 676.7,1056.9 C678.7,1056.5 680.7,1056.4 682.7,1056.3 C684.7,1056.3 686.7,1056.5 688.7,1056.8 C690.7,1057.1 692.7,1057.5 694.7,1058.1 C696.7,1058.6 698.7,1059.3 700.7,1060.0 C702.7,1060.7 704.7,1061.5 706.7,1062.3 C708.7,1063.1 710.7,1064.0 712.7,1064.8 C714.7,1065.7 716.7,1066.5 718.7,1067.4 C720.7,1068.2 722.7,1069.0 724.7,1069.7 C726.7,1070.4 728.7,1071.0 730.7,1071.5 C732.7,1072.1 734.7,1072.5 736.7,1072.8 C738.7,1073.0 740.7,1073.2 742.7,1073.2 C744.7,1073.1 746.7,1072.9 748.7,1072.5 C750.7,1072.0 752.7,1071.4 754.7,1070.5 C756.7,1069.7 758.7,1068.6 760.7,1067.6 C762.7,1066.5 764.7,1065.2 766.7,1064.1 C768.7,1062.9 770.7,1061.7 772.7,1060.6 C774.7,1059.5 776.7,1058.5 778.7,1057.7 C780.7,1056.9 782.7,1056.2 784.7,1055.9 C786.7,1055.6 788.7,1055.5 790.7,1055.8 C792.7,1056.1 794.7,1056.7 796.7,1057.7 C798.7,1058.8 800.7,1060.1 802.7,1061.8 C804.7,1063.4 806.7,1065.4 808.7,1067.6 C810.7,1069.8 812.7,1072.3 814.7,1075.0 C816.7,1077.6 818.7,1080.6 820.7,1083.6 C822.7,1086.6 824.7,1089.9 826.7,1093.2 C828.7,1096.5 830.7,1100.0 832.7,1103.5 C834.7,1107.0 836.7,1110.6 838.7,1114.1 C840.7,1117.7 842.7,1121.3 844.7,1124.8 C846.7,1128.4 848.7,1131.9 850.7,1135.3 C852.7,1138.7 854.7,1142.1 856.7,1145.2 C858.7,1148.4 860.7,1151.5 862.7,1154.3 C864.7,1157.1 866.7,1159.7 868.7,1162.2 C870.7,1164.7 872.7,1166.9 874.7,1169.1 C876.7,1171.3 878.7,1173.4 880.7,1175.4 C882.7,1177.4 884.7,1179.3 886.7,1181.2 C888.7,1183.2 890.7,1185.0 892.7,1187.0 C894.7,1189.0 896.7,1190.9 898.7,1193.0 C900.7,1195.1 902.7,1197.2 904.7,1199.4 C906.7,1201.6 908.7,1203.9 910.7,1206.3 C912.7,1208.7 914.7,1211.2 916.7,1213.7 C918.7,1216.3 920.7,1219.0 922.7,1221.8 C924.7,1224.5 926.7,1227.4 928.7,1230.4 C930.7,1233.4 932.7,1236.6 934.7,1239.8 C936.7,1243.1 938.7,1246.5 940.7,1250.0 C942.7,1253.5 944.7,1257.2 946.7,1260.8 C948.7,1264.5 950.7,1268.2 952.7,1271.9 C954.7,1275.6 956.7,1279.4 958.7,1283.0 C960.7,1286.6 962.7,1290.2 964.7,1293.6 C966.7,1297.1 968.7,1300.4 970.7,1303.5 C972.7,1306.6 974.7,1309.5 976.7,1312.3 C978.7,1315.0 980.7,1317.6 982.7,1320.0 C984.7,1322.5 986.7,1324.7 988.7,1326.9 C990.7,1329.0 992.7,1330.9 994.7,1332.8 C996.7,1334.7 998.7,1336.4 1000.7,1338.0 C1002.7,1339.6 1004.7,1341.1 1006.7,1342.5 C1008.7,1343.9 1010.7,1345.2 1012.7,1346.4 C1014.7,1347.7 1016.7,1348.8 1018.7,1349.9 C1020.7,1350.9 1022.7,1351.9 1024.7,1352.9 C1026.7,1353.8 1028.7,1354.7 1030.7,1355.6 C1032.7,1356.5 1034.7,1357.3 1036.7,1358.1 C1038.7,1358.9 1040.7,1359.7 1042.7,1360.4 C1044.7,1361.2 1046.7,1362.0 1048.7,1362.7 C1050.7,1363.5 1052.7,1364.3 1054.7,1365.1 C1056.7,1365.9 1058.7,1366.7 1060.7,1367.6 C1062.7,1368.4 1064.7,1369.3 1066.7,1370.3 C1068.7,1371.2 1070.7,1372.2 1072.7,1373.3 C1074.7,1374.4 1076.7,1375.5 1078.7,1376.6 C1080.7,1377.7 1082.7,1378.9 1084.7,1380.1 C1086.7,1381.3 1088.7,1382.6 1090.7,1383.8 C1092.7,1385.1 1094.7,1386.3 1096.7,1387.6 C1098.7,1388.8 1100.7,1390.1 1102.7,1391.4 C1104.7,1392.6 1106.7,1393.9 1108.7,1395.1 C1110.7,1396.3 1112.7,1397.5 1114.7,1398.7 C1116.7,1399.8 1118.7,1401.0 1120.7,1402.1 C1122.7,1403.2 1124.7,1404.2 1126.7,1405.2 C1128.7,1406.2 1130.7,1407.1 1132.7,1408.0 C1134.7,1408.9 1136.7,1409.8 1138.7,1410.6 C1140.7,1411.4 1142.7,1412.2 1144.7,1412.9 C1146.7,1413.6 1148.7,1414.3 1150.7,1415.0 C1152.7,1415.7 1154.7,1416.3 1156.7,1416.9 C1158.7,1417.6 1160.7,1418.1 1162.7,1418.7 C1164.7,1419.3 1166.7,1419.8 1168.7,1420.4 C1170.7,1420.9 1172.7,1421.4 1174.7,1421.9 C1176.7,1422.4 1178.7,1422.9 1180.7,1423.3 C1182.7,1423.8 1184.7,1424.2 1186.7,1424.6 C1188.7,1425.0 1190.7,1425.4 1192.7,1425.8 C1194.7,1426.2 1196.7,1426.6 1198.7,1426.9 C1200.7,1427.3 1202.7,1427.6 1204.7,1427.9 C1206.7,1428.3 1208.7,1428.6 1210.7,1428.9 C1212.7,1429.1 1214.7,1429.4 1216.7,1429.7 C1218.7,1430.0 1220.7,1430.2 1222.7,1430.5 C1224.7,1430.7 1226.7,1430.9 1228.7,1431.2 C1230.7,1431.4 1232.7,1431.6 1234.7,1431.8 C1236.7,1432.0 1238.7,1432.2 1240.7,1432.4 C1242.7,1432.6 1244.7,1432.8 1246.7,1432.9 C1248.7,1433.1 1250.7,1433.3 1252.7,1433.4 C1254.7,1433.6 1256.7,1433.7 1258.7,1433.9 C1260.7,1434.0 1262.7,1434.1 1264.7,1434.3 C1266.7,1434.4 1268.7,1434.5 1270.7,1434.7 C1272.7,1434.8 1274.7,1434.9 1276.7,1435.0 C1278.7,1435.2 1280.7,1435.3 1282.7,1435.4 C1284.7,1435.5 1286.7,1435.6 1288.7,1435.7 C1290.7,1435.8 1292.7,1436.0 1294.7,1436.1 C1296.7,1436.2 1298.7,1436.3 1300.7,1436.4 C1302.7,1436.5 1304.7,1436.6 1306.7,1436.8 C1308.7,1436.9 1310.7,1437.0 1312.7,1437.1 C1314.7,1437.3 1316.7,1437.4 1318.7,1437.5 C1320.7,1437.6 1322.7,1437.8 1324.7,1437.9 C1326.7,1438.1 1328.7,1438.2 1330.7,1438.4 C1332.7,1438.5 1334.7,1438.7 1336.7,1438.8 C1338.7,1439.0 1340.7,1439.2 1342.7,1439.4 C1344.7,1439.5 1346.7,1439.7 1348.7,1439.9 C1350.7,1440.1 1353.7,1440.4 1354.7,1440.5" fill="none" stroke="#ff0000" stroke-width="2.4"/>
</g>
<g stroke="#000" fill="none">
<line x1="99.3" y1="22" x2="99.3" y2="1519" stroke-width="2.4"/>
<line x1="98.1" y1="24" x2="1358.4" y2="24" stroke-width="4"/>
<line x1="1356.4" y1="22" x2="1356.4" y2="1519.2" stroke-width="4"/>
<line x1="99.3" y1="771.5" x2="1356.4" y2="771.5" stroke-width="2.4"/>
<line x1="98.1" y1="1518" x2="1358.4" y2="1518" stroke-width="2.4"/>
<line x1="164.8" y1="771.5" x2="164.8" y2="757.5" stroke-width="2.2"/>
<line x1="231.0" y1="771.5" x2="231.0" y2="764.0" stroke-width="2.2"/>
<line x1="297.2" y1="771.5" x2="297.2" y2="757.5" stroke-width="2.2"/>
<line x1="363.4" y1="771.5" x2="363.4" y2="764.0" stroke-width="2.2"/>
<line x1="429.6" y1="771.5" x2="429.6" y2="757.5" stroke-width="2.2"/>
<line x1="495.8" y1="771.5" x2="495.8" y2="764.0" stroke-width="2.2"/>
<line x1="562.0" y1="771.5" x2="562.0" y2="757.5" stroke-width="2.2"/>
<line x1="628.2" y1="771.5" x2="628.2" y2="764.0" stroke-width="2.2"/>
<line x1="694.4" y1="771.5" x2="694.4" y2="757.5" stroke-width="2.2"/>
<line x1="760.6" y1="771.5" x2="760.6" y2="764.0" stroke-width="2.2"/>
<line x1="826.8" y1="771.5" x2="826.8" y2="757.5" stroke-width="2.2"/>
<line x1="893.0" y1="771.5" x2="893.0" y2="764.0" stroke-width="2.2"/>
<line x1="959.2" y1="771.5" x2="959.2" y2="757.5" stroke-width="2.2"/>
<line x1="1025.4" y1="771.5" x2="1025.4" y2="764.0" stroke-width="2.2"/>
<line x1="1091.6" y1="771.5" x2="1091.6" y2="757.5" stroke-width="2.2"/>
<line x1="1157.8" y1="771.5" x2="1157.8" y2="764.0" stroke-width="2.2"/>
<line x1="1224.0" y1="771.5" x2="1224.0" y2="757.5" stroke-width="2.2"/>
<line x1="1290.2" y1="771.5" x2="1290.2" y2="764.0" stroke-width="2.2"/>
<line x1="164.8" y1="1518" x2="164.8" y2="1504" stroke-width="2.2"/>
<line x1="231.0" y1="1518" x2="231.0" y2="1510.5" stroke-width="2.2"/>
<line x1="297.2" y1="1518" x2="297.2" y2="1504" stroke-width="2.2"/>
<line x1="363.4" y1="1518" x2="363.4" y2="1510.5" stroke-width="2.2"/>
<line x1="429.6" y1="1518" x2="429.6" y2="1504" stroke-width="2.2"/>
<line x1="495.8" y1="1518" x2="495.8" y2="1510.5" stroke-width="2.2"/>
<line x1="562.0" y1="1518" x2="562.0" y2="1504" stroke-width="2.2"/>
<line x1="628.2" y1="1518" x2="628.2" y2="1510.5" stroke-width="2.2"/>
<line x1="694.4" y1="1518" x2="694.4" y2="1504" stroke-width="2.2"/>
<line x1="760.6" y1="1518" x2="760.6" y2="1510.5" stroke-width="2.2"/>
<line x1="826.8" y1="1518" x2="826.8" y2="1504" stroke-width="2.2"/>
<line x1="893.0" y1="1518" x2="893.0" y2="1510.5" stroke-width="2.2"/>
<line x1="959.2" y1="1518" x2="959.2" y2="1504" stroke-width="2.2"/>
<line x1="1025.4" y1="1518" x2="1025.4" y2="1510.5" stroke-width="2.2"/>
<line x1="1091.6" y1="1518" x2="1091.6" y2="1504" stroke-width="2.2"/>
<line x1="1157.8" y1="1518" x2="1157.8" y2="1510.5" stroke-width="2.2"/>
<line x1="1224.0" y1="1518" x2="1224.0" y2="1504" stroke-width="2.2"/>
<line x1="1290.2" y1="1518" x2="1290.2" y2="1510.5" stroke-width="2.2"/>
</g>
<g font-family="'Liberation Sans', Arial, sans-serif" fill="#000">
<text transform="translate(164.8,1565)" font-size="41" text-anchor="middle">92</text>
<text transform="translate(297.2,1565)" font-size="41" text-anchor="middle">94</text>
<text transform="translate(429.6,1565)" font-size="41" text-anchor="middle">96</text>
<text transform="translate(562.0,1565)" font-size="41" text-anchor="middle">98</text>
<text transform="translate(694.4,1565)" font-size="41" text-anchor="middle">100</text>
<text transform="translate(826.8,1565)" font-size="41" text-anchor="middle">102</text>
<text transform="translate(959.2,1565)" font-size="41" text-anchor="middle">104</text>
<text transform="translate(1091.6,1565)" font-size="41" text-anchor="middle">106</text>
<text transform="translate(1224.0,1565)" font-size="41" text-anchor="middle">108</text>
<text transform="translate(1356.4,1565)" font-size="41" text-anchor="middle">110</text>
<text transform="translate(756.5,1626) scale(1.06,1.0)" font-size="42.5" text-anchor="middle">Binding Energy, eV</text>
<text transform="translate(43,786.5) rotate(-90)" font-size="49" text-anchor="middle">Intensity, a.u.</text>
<text transform="translate(149.4,84) scale(0.98,1.0)" font-size="48" text-anchor="middle">a</text>
<text transform="translate(159.3,855.3) scale(1.03,1.0)" font-size="48" text-anchor="middle">b</text>
<text transform="translate(264,476.5)" font-size="35.5" text-anchor="middle">93.4</text>
<text transform="translate(383.5,469.5)" font-size="35.5" text-anchor="middle">95.25</text>
<text transform="translate(618,584.5)" font-size="35.5" text-anchor="middle">99</text>
<text transform="translate(789.2,561.5)" font-size="35.5" text-anchor="middle">101.35</text>
<text transform="translate(1004,663)" font-size="35.5" text-anchor="middle">103.2</text>
<text transform="translate(266.5,1198)" font-size="35.5" text-anchor="middle">93.4</text>
<text transform="translate(372,1169.5)" font-size="35.5" text-anchor="middle">95.25</text>
<text transform="translate(568,1331)" font-size="35.5" text-anchor="middle">98.2</text>
<text transform="translate(677,1288.5)" font-size="35.5" text-anchor="middle">99</text>
<text transform="translate(803,1292)" font-size="35.5" text-anchor="middle">101.35</text>
<text transform="translate(928.5,1392)" font-size="35.5" text-anchor="middle">103.2</text>
<text transform="translate(1069.5,1497)" font-size="35.5" text-anchor="middle">105.55</text>
</g>
</svg>
</body></html>
